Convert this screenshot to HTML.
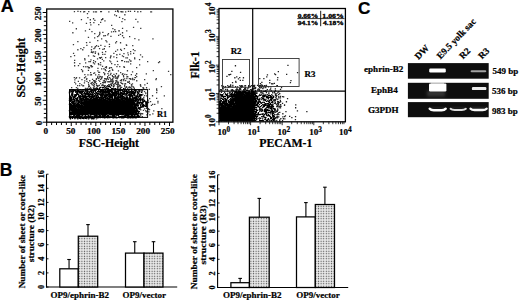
<!DOCTYPE html>
<html><head><meta charset="utf-8"><style>
html,body{margin:0;padding:0;background:#fff;overflow:hidden}
svg{display:block}
text{stroke:#000;stroke-width:0.22px;paint-order:stroke}
</style></head><body>
<svg width="520" height="302" viewBox="0 0 520 302">
<defs>
<pattern id="dots" patternUnits="userSpaceOnUse" width="2.6" height="2.5"><rect width="2.6" height="2.5" fill="#fff"/><rect x="0.45" y="0.45" width="1.7" height="1.6" fill="#999"/><rect x="0.9" y="0.85" width="0.8" height="0.8" fill="#333"/></pattern>
<filter id="bl" x="-20%" y="-100%" width="140%" height="300%"><feGaussianBlur stdDeviation="0.5"/></filter>
<filter id="bl2" x="-50%" y="-100%" width="200%" height="300%"><feGaussianBlur stdDeviation="1.5"/></filter>
</defs>
<rect width="520" height="302" fill="#fff"/>
<path d="M84 100.5H133V114H84Z M72 108.5H84V114H72Z M236 95.5H252.5V121H236Z M221 107.5H236V121H221Z" fill="#000"/>
<path d="M107.1 85.1h1.3v1.3h-1.3zM108.8 85.2h1.3v1.3h-1.3zM111.0 84.9h1.3v1.3h-1.3zM103.8 86.0h1.3v1.3h-1.3zM106.2 86.1h1.3v1.3h-1.3zM108.0 85.9h1.3v1.3h-1.3zM109.1 85.9h1.3v1.3h-1.3zM112.8 86.1h1.3v1.3h-1.3zM99.3 87.1h1.3v1.3h-1.3zM100.2 86.8h1.3v1.3h-1.3zM102.0 87.1h1.3v1.3h-1.3zM103.2 86.9h1.3v1.3h-1.3zM105.1 86.9h1.3v1.3h-1.3zM109.9 86.8h1.3v1.3h-1.3zM117.2 87.1h1.3v1.3h-1.3zM93.0 87.8h1.3v1.3h-1.3zM93.8 88.3h1.3v1.3h-1.3zM95.2 88.0h1.3v1.3h-1.3zM95.9 87.7h1.3v1.3h-1.3zM96.7 87.9h1.3v1.3h-1.3zM98.7 88.0h1.3v1.3h-1.3zM104.2 88.2h1.3v1.3h-1.3zM105.9 87.9h1.3v1.3h-1.3zM107.0 87.8h1.3v1.3h-1.3zM107.8 88.1h1.3v1.3h-1.3zM110.9 88.1h1.3v1.3h-1.3zM112.0 88.0h1.3v1.3h-1.3zM112.8 88.3h1.3v1.3h-1.3zM114.1 88.3h1.3v1.3h-1.3zM115.1 87.9h1.3v1.3h-1.3zM117.2 88.0h1.3v1.3h-1.3zM119.7 87.9h1.3v1.3h-1.3zM123.0 88.1h1.3v1.3h-1.3zM79.9 89.0h1.3v1.3h-1.3zM82.0 89.2h1.3v1.3h-1.3zM82.9 89.1h1.3v1.3h-1.3zM84.1 89.2h1.3v1.3h-1.3zM84.7 89.0h1.3v1.3h-1.3zM86.3 89.0h1.3v1.3h-1.3zM87.2 89.3h1.3v1.3h-1.3zM88.0 88.8h1.3v1.3h-1.3zM89.1 88.8h1.3v1.3h-1.3zM90.3 89.3h1.3v1.3h-1.3zM91.2 89.2h1.3v1.3h-1.3zM93.7 89.2h1.3v1.3h-1.3zM95.8 89.3h1.3v1.3h-1.3zM97.1 88.8h1.3v1.3h-1.3zM98.0 88.7h1.3v1.3h-1.3zM98.8 88.7h1.3v1.3h-1.3zM99.9 89.0h1.3v1.3h-1.3zM101.0 89.0h1.3v1.3h-1.3zM101.9 89.2h1.3v1.3h-1.3zM102.9 89.2h1.3v1.3h-1.3zM104.9 89.1h1.3v1.3h-1.3zM107.3 88.7h1.3v1.3h-1.3zM107.7 89.3h1.3v1.3h-1.3zM109.0 89.1h1.3v1.3h-1.3zM111.0 89.1h1.3v1.3h-1.3zM113.7 89.0h1.3v1.3h-1.3zM115.2 89.1h1.3v1.3h-1.3zM116.1 89.0h1.3v1.3h-1.3zM117.1 89.0h1.3v1.3h-1.3zM117.9 89.1h1.3v1.3h-1.3zM118.9 88.7h1.3v1.3h-1.3zM120.0 88.8h1.3v1.3h-1.3zM123.9 88.9h1.3v1.3h-1.3zM124.7 89.0h1.3v1.3h-1.3zM125.8 89.2h1.3v1.3h-1.3zM127.0 89.0h1.3v1.3h-1.3zM128.2 89.0h1.3v1.3h-1.3zM129.0 88.9h1.3v1.3h-1.3zM131.0 89.1h1.3v1.3h-1.3zM131.7 88.8h1.3v1.3h-1.3zM133.2 88.9h1.3v1.3h-1.3zM133.9 89.2h1.3v1.3h-1.3zM134.8 88.9h1.3v1.3h-1.3zM69.0 89.8h1.3v1.3h-1.3zM70.1 89.8h1.3v1.3h-1.3zM71.0 90.2h1.3v1.3h-1.3zM71.8 90.0h1.3v1.3h-1.3zM72.9 89.7h1.3v1.3h-1.3zM73.7 90.0h1.3v1.3h-1.3zM74.7 90.1h1.3v1.3h-1.3zM76.0 90.2h1.3v1.3h-1.3zM76.8 89.8h1.3v1.3h-1.3zM77.7 89.9h1.3v1.3h-1.3zM79.2 89.8h1.3v1.3h-1.3zM80.9 90.2h1.3v1.3h-1.3zM84.9 90.3h1.3v1.3h-1.3zM86.2 89.8h1.3v1.3h-1.3zM87.1 89.9h1.3v1.3h-1.3zM90.2 90.0h1.3v1.3h-1.3zM91.3 90.1h1.3v1.3h-1.3zM91.9 90.0h1.3v1.3h-1.3zM93.3 90.1h1.3v1.3h-1.3zM94.1 89.8h1.3v1.3h-1.3zM94.9 89.8h1.3v1.3h-1.3zM98.0 90.1h1.3v1.3h-1.3zM99.8 90.3h1.3v1.3h-1.3zM101.1 89.8h1.3v1.3h-1.3zM102.2 90.3h1.3v1.3h-1.3zM103.3 89.8h1.3v1.3h-1.3zM104.8 90.0h1.3v1.3h-1.3zM106.2 90.3h1.3v1.3h-1.3zM106.9 90.0h1.3v1.3h-1.3zM108.0 90.1h1.3v1.3h-1.3zM109.3 90.0h1.3v1.3h-1.3zM109.9 89.8h1.3v1.3h-1.3zM111.1 90.0h1.3v1.3h-1.3zM112.2 90.2h1.3v1.3h-1.3zM114.1 90.1h1.3v1.3h-1.3zM114.7 89.8h1.3v1.3h-1.3zM117.2 90.0h1.3v1.3h-1.3zM118.2 90.0h1.3v1.3h-1.3zM118.9 89.9h1.3v1.3h-1.3zM119.8 89.7h1.3v1.3h-1.3zM121.2 89.7h1.3v1.3h-1.3zM122.3 89.8h1.3v1.3h-1.3zM124.1 90.1h1.3v1.3h-1.3zM125.8 89.7h1.3v1.3h-1.3zM128.2 89.7h1.3v1.3h-1.3zM131.1 90.0h1.3v1.3h-1.3zM133.8 89.8h1.3v1.3h-1.3zM134.8 89.9h1.3v1.3h-1.3zM135.8 90.2h1.3v1.3h-1.3zM138.0 90.2h1.3v1.3h-1.3zM139.2 90.0h1.3v1.3h-1.3zM68.9 90.9h1.3v1.3h-1.3zM69.8 91.2h1.3v1.3h-1.3zM70.8 90.8h1.3v1.3h-1.3zM72.2 90.9h1.3v1.3h-1.3zM72.7 91.0h1.3v1.3h-1.3zM75.1 91.0h1.3v1.3h-1.3zM75.9 90.8h1.3v1.3h-1.3zM77.0 90.8h1.3v1.3h-1.3zM77.8 91.1h1.3v1.3h-1.3zM79.0 91.1h1.3v1.3h-1.3zM80.2 91.0h1.3v1.3h-1.3zM80.8 91.0h1.3v1.3h-1.3zM82.1 90.8h1.3v1.3h-1.3zM83.1 90.8h1.3v1.3h-1.3zM85.2 91.1h1.3v1.3h-1.3zM86.0 91.2h1.3v1.3h-1.3zM87.1 91.0h1.3v1.3h-1.3zM87.7 91.3h1.3v1.3h-1.3zM89.1 90.7h1.3v1.3h-1.3zM90.2 90.7h1.3v1.3h-1.3zM91.1 91.3h1.3v1.3h-1.3zM92.8 90.7h1.3v1.3h-1.3zM94.8 91.0h1.3v1.3h-1.3zM96.9 91.0h1.3v1.3h-1.3zM98.2 91.2h1.3v1.3h-1.3zM99.1 91.1h1.3v1.3h-1.3zM100.3 91.0h1.3v1.3h-1.3zM101.1 91.1h1.3v1.3h-1.3zM102.3 91.3h1.3v1.3h-1.3zM103.0 91.0h1.3v1.3h-1.3zM104.2 91.1h1.3v1.3h-1.3zM105.2 91.0h1.3v1.3h-1.3zM106.3 91.1h1.3v1.3h-1.3zM107.1 90.8h1.3v1.3h-1.3zM108.2 91.0h1.3v1.3h-1.3zM109.2 91.2h1.3v1.3h-1.3zM109.8 90.8h1.3v1.3h-1.3zM110.8 91.2h1.3v1.3h-1.3zM111.7 90.7h1.3v1.3h-1.3zM114.1 90.8h1.3v1.3h-1.3zM115.2 91.0h1.3v1.3h-1.3zM116.1 90.8h1.3v1.3h-1.3zM116.8 90.8h1.3v1.3h-1.3zM117.9 90.9h1.3v1.3h-1.3zM119.9 91.2h1.3v1.3h-1.3zM122.1 90.8h1.3v1.3h-1.3zM122.8 90.7h1.3v1.3h-1.3zM123.7 90.8h1.3v1.3h-1.3zM124.9 90.8h1.3v1.3h-1.3zM125.8 90.9h1.3v1.3h-1.3zM127.1 90.8h1.3v1.3h-1.3zM128.3 91.3h1.3v1.3h-1.3zM129.3 90.9h1.3v1.3h-1.3zM129.9 91.0h1.3v1.3h-1.3zM131.0 90.8h1.3v1.3h-1.3zM131.9 90.8h1.3v1.3h-1.3zM133.2 91.0h1.3v1.3h-1.3zM134.9 91.0h1.3v1.3h-1.3zM137.2 90.9h1.3v1.3h-1.3zM139.1 91.3h1.3v1.3h-1.3zM141.2 91.2h1.3v1.3h-1.3zM68.8 92.1h1.3v1.3h-1.3zM71.2 92.3h1.3v1.3h-1.3zM72.1 91.9h1.3v1.3h-1.3zM75.2 91.8h1.3v1.3h-1.3zM76.1 92.2h1.3v1.3h-1.3zM77.0 92.1h1.3v1.3h-1.3zM78.9 92.3h1.3v1.3h-1.3zM79.9 91.8h1.3v1.3h-1.3zM81.3 92.1h1.3v1.3h-1.3zM81.7 92.1h1.3v1.3h-1.3zM83.7 91.8h1.3v1.3h-1.3zM86.2 92.0h1.3v1.3h-1.3zM87.1 91.9h1.3v1.3h-1.3zM89.0 92.1h1.3v1.3h-1.3zM90.8 92.1h1.3v1.3h-1.3zM91.9 92.3h1.3v1.3h-1.3zM92.9 91.9h1.3v1.3h-1.3zM95.2 92.3h1.3v1.3h-1.3zM96.0 92.0h1.3v1.3h-1.3zM99.7 92.0h1.3v1.3h-1.3zM101.2 92.0h1.3v1.3h-1.3zM101.7 91.9h1.3v1.3h-1.3zM103.0 92.3h1.3v1.3h-1.3zM103.8 92.2h1.3v1.3h-1.3zM104.8 92.3h1.3v1.3h-1.3zM105.7 91.7h1.3v1.3h-1.3zM106.8 91.7h1.3v1.3h-1.3zM108.1 91.9h1.3v1.3h-1.3zM108.8 91.7h1.3v1.3h-1.3zM110.8 91.9h1.3v1.3h-1.3zM111.9 91.7h1.3v1.3h-1.3zM113.2 92.1h1.3v1.3h-1.3zM114.2 91.9h1.3v1.3h-1.3zM115.0 92.0h1.3v1.3h-1.3zM116.1 92.1h1.3v1.3h-1.3zM117.3 92.2h1.3v1.3h-1.3zM118.2 91.8h1.3v1.3h-1.3zM120.0 91.7h1.3v1.3h-1.3zM120.9 92.0h1.3v1.3h-1.3zM121.7 92.2h1.3v1.3h-1.3zM122.9 92.2h1.3v1.3h-1.3zM123.8 91.7h1.3v1.3h-1.3zM126.1 92.1h1.3v1.3h-1.3zM126.9 92.0h1.3v1.3h-1.3zM128.0 91.9h1.3v1.3h-1.3zM128.8 92.3h1.3v1.3h-1.3zM130.2 91.8h1.3v1.3h-1.3zM131.1 91.8h1.3v1.3h-1.3zM131.7 92.0h1.3v1.3h-1.3zM132.8 92.2h1.3v1.3h-1.3zM133.8 92.0h1.3v1.3h-1.3zM134.9 92.0h1.3v1.3h-1.3zM136.8 91.7h1.3v1.3h-1.3zM137.8 92.3h1.3v1.3h-1.3zM141.0 91.8h1.3v1.3h-1.3zM71.2 93.3h1.3v1.3h-1.3zM72.0 93.1h1.3v1.3h-1.3zM76.1 92.8h1.3v1.3h-1.3zM76.8 93.3h1.3v1.3h-1.3zM80.2 92.8h1.3v1.3h-1.3zM81.1 93.1h1.3v1.3h-1.3zM83.2 93.0h1.3v1.3h-1.3zM84.2 92.8h1.3v1.3h-1.3zM84.9 93.1h1.3v1.3h-1.3zM86.2 92.9h1.3v1.3h-1.3zM86.8 93.2h1.3v1.3h-1.3zM88.0 93.0h1.3v1.3h-1.3zM90.0 93.2h1.3v1.3h-1.3zM92.1 93.2h1.3v1.3h-1.3zM93.9 92.9h1.3v1.3h-1.3zM96.1 92.9h1.3v1.3h-1.3zM97.2 92.8h1.3v1.3h-1.3zM97.8 92.7h1.3v1.3h-1.3zM99.3 92.8h1.3v1.3h-1.3zM100.8 93.2h1.3v1.3h-1.3zM101.8 92.9h1.3v1.3h-1.3zM103.2 93.1h1.3v1.3h-1.3zM105.2 93.2h1.3v1.3h-1.3zM106.0 93.2h1.3v1.3h-1.3zM106.8 93.2h1.3v1.3h-1.3zM107.9 93.3h1.3v1.3h-1.3zM109.1 93.0h1.3v1.3h-1.3zM110.2 93.3h1.3v1.3h-1.3zM111.9 92.8h1.3v1.3h-1.3zM113.0 93.3h1.3v1.3h-1.3zM113.7 93.2h1.3v1.3h-1.3zM114.8 92.9h1.3v1.3h-1.3zM116.2 92.7h1.3v1.3h-1.3zM117.1 93.0h1.3v1.3h-1.3zM118.0 93.1h1.3v1.3h-1.3zM118.8 93.2h1.3v1.3h-1.3zM120.0 92.9h1.3v1.3h-1.3zM121.3 93.3h1.3v1.3h-1.3zM122.1 93.1h1.3v1.3h-1.3zM122.8 92.9h1.3v1.3h-1.3zM124.2 92.7h1.3v1.3h-1.3zM125.1 93.3h1.3v1.3h-1.3zM125.9 93.3h1.3v1.3h-1.3zM127.1 93.1h1.3v1.3h-1.3zM129.3 93.1h1.3v1.3h-1.3zM130.1 93.3h1.3v1.3h-1.3zM131.1 92.8h1.3v1.3h-1.3zM131.9 93.2h1.3v1.3h-1.3zM132.9 92.9h1.3v1.3h-1.3zM134.2 93.2h1.3v1.3h-1.3zM136.8 93.2h1.3v1.3h-1.3zM138.0 93.3h1.3v1.3h-1.3zM70.9 94.0h1.3v1.3h-1.3zM72.2 93.7h1.3v1.3h-1.3zM74.2 94.1h1.3v1.3h-1.3zM74.8 93.9h1.3v1.3h-1.3zM76.1 93.8h1.3v1.3h-1.3zM76.8 93.7h1.3v1.3h-1.3zM78.0 93.8h1.3v1.3h-1.3zM80.8 93.8h1.3v1.3h-1.3zM82.2 94.1h1.3v1.3h-1.3zM84.3 94.3h1.3v1.3h-1.3zM84.7 94.0h1.3v1.3h-1.3zM86.2 94.1h1.3v1.3h-1.3zM87.2 94.1h1.3v1.3h-1.3zM87.7 94.2h1.3v1.3h-1.3zM88.9 93.7h1.3v1.3h-1.3zM90.2 94.0h1.3v1.3h-1.3zM91.0 94.0h1.3v1.3h-1.3zM92.1 94.1h1.3v1.3h-1.3zM92.7 94.3h1.3v1.3h-1.3zM94.9 93.8h1.3v1.3h-1.3zM96.9 94.1h1.3v1.3h-1.3zM97.7 94.2h1.3v1.3h-1.3zM99.0 94.0h1.3v1.3h-1.3zM100.0 94.0h1.3v1.3h-1.3zM101.1 93.9h1.3v1.3h-1.3zM101.7 94.1h1.3v1.3h-1.3zM102.9 94.0h1.3v1.3h-1.3zM103.8 94.3h1.3v1.3h-1.3zM105.1 94.2h1.3v1.3h-1.3zM106.1 94.1h1.3v1.3h-1.3zM107.0 94.2h1.3v1.3h-1.3zM108.0 94.2h1.3v1.3h-1.3zM108.9 94.1h1.3v1.3h-1.3zM110.1 93.8h1.3v1.3h-1.3zM110.9 94.1h1.3v1.3h-1.3zM112.2 94.1h1.3v1.3h-1.3zM113.0 94.3h1.3v1.3h-1.3zM113.8 94.3h1.3v1.3h-1.3zM115.2 93.8h1.3v1.3h-1.3zM115.8 94.0h1.3v1.3h-1.3zM117.3 93.7h1.3v1.3h-1.3zM118.0 94.0h1.3v1.3h-1.3zM118.8 93.8h1.3v1.3h-1.3zM119.7 93.9h1.3v1.3h-1.3zM121.3 93.8h1.3v1.3h-1.3zM122.0 93.7h1.3v1.3h-1.3zM123.2 93.8h1.3v1.3h-1.3zM123.8 94.2h1.3v1.3h-1.3zM125.3 93.9h1.3v1.3h-1.3zM125.8 93.9h1.3v1.3h-1.3zM128.3 94.1h1.3v1.3h-1.3zM129.2 93.8h1.3v1.3h-1.3zM130.0 94.0h1.3v1.3h-1.3zM130.7 93.9h1.3v1.3h-1.3zM133.1 94.2h1.3v1.3h-1.3zM133.9 94.3h1.3v1.3h-1.3zM136.9 94.0h1.3v1.3h-1.3zM139.1 93.8h1.3v1.3h-1.3zM139.9 93.9h1.3v1.3h-1.3zM140.7 93.9h1.3v1.3h-1.3zM69.2 95.2h1.3v1.3h-1.3zM71.2 94.9h1.3v1.3h-1.3zM72.1 95.0h1.3v1.3h-1.3zM74.0 95.2h1.3v1.3h-1.3zM74.7 95.1h1.3v1.3h-1.3zM75.8 94.9h1.3v1.3h-1.3zM78.1 95.0h1.3v1.3h-1.3zM79.1 95.2h1.3v1.3h-1.3zM80.2 95.1h1.3v1.3h-1.3zM82.0 94.9h1.3v1.3h-1.3zM82.9 95.2h1.3v1.3h-1.3zM84.2 94.8h1.3v1.3h-1.3zM84.8 94.8h1.3v1.3h-1.3zM87.9 95.1h1.3v1.3h-1.3zM89.2 94.7h1.3v1.3h-1.3zM91.2 95.3h1.3v1.3h-1.3zM92.1 95.0h1.3v1.3h-1.3zM93.8 95.0h1.3v1.3h-1.3zM95.2 94.8h1.3v1.3h-1.3zM96.2 94.8h1.3v1.3h-1.3zM96.9 94.8h1.3v1.3h-1.3zM100.0 95.2h1.3v1.3h-1.3zM101.1 94.9h1.3v1.3h-1.3zM102.3 95.1h1.3v1.3h-1.3zM103.8 95.2h1.3v1.3h-1.3zM104.8 95.0h1.3v1.3h-1.3zM106.0 95.1h1.3v1.3h-1.3zM107.3 95.1h1.3v1.3h-1.3zM108.8 94.9h1.3v1.3h-1.3zM109.8 95.0h1.3v1.3h-1.3zM111.0 95.3h1.3v1.3h-1.3zM112.2 95.1h1.3v1.3h-1.3zM113.2 94.8h1.3v1.3h-1.3zM113.9 95.0h1.3v1.3h-1.3zM114.7 94.7h1.3v1.3h-1.3zM115.7 94.8h1.3v1.3h-1.3zM117.3 95.2h1.3v1.3h-1.3zM118.3 94.8h1.3v1.3h-1.3zM119.9 94.8h1.3v1.3h-1.3zM121.1 94.9h1.3v1.3h-1.3zM121.8 94.8h1.3v1.3h-1.3zM125.3 95.3h1.3v1.3h-1.3zM126.8 95.3h1.3v1.3h-1.3zM128.2 94.8h1.3v1.3h-1.3zM128.9 94.7h1.3v1.3h-1.3zM130.1 95.2h1.3v1.3h-1.3zM130.9 95.2h1.3v1.3h-1.3zM132.0 94.9h1.3v1.3h-1.3zM133.8 94.9h1.3v1.3h-1.3zM135.2 95.3h1.3v1.3h-1.3zM135.7 95.3h1.3v1.3h-1.3zM137.1 94.9h1.3v1.3h-1.3zM138.8 94.9h1.3v1.3h-1.3zM139.8 94.8h1.3v1.3h-1.3zM141.2 94.8h1.3v1.3h-1.3zM69.0 95.9h1.3v1.3h-1.3zM70.2 95.7h1.3v1.3h-1.3zM72.2 96.2h1.3v1.3h-1.3zM73.3 96.2h1.3v1.3h-1.3zM73.8 96.1h1.3v1.3h-1.3zM74.9 96.1h1.3v1.3h-1.3zM78.0 96.3h1.3v1.3h-1.3zM79.0 95.8h1.3v1.3h-1.3zM79.8 96.3h1.3v1.3h-1.3zM81.1 96.3h1.3v1.3h-1.3zM81.7 95.8h1.3v1.3h-1.3zM82.8 96.1h1.3v1.3h-1.3zM83.7 95.9h1.3v1.3h-1.3zM84.9 96.0h1.3v1.3h-1.3zM85.8 95.9h1.3v1.3h-1.3zM86.8 96.1h1.3v1.3h-1.3zM87.8 96.3h1.3v1.3h-1.3zM89.0 96.1h1.3v1.3h-1.3zM90.2 96.1h1.3v1.3h-1.3zM90.7 96.1h1.3v1.3h-1.3zM91.8 96.0h1.3v1.3h-1.3zM93.1 96.1h1.3v1.3h-1.3zM94.2 96.2h1.3v1.3h-1.3zM95.1 96.2h1.3v1.3h-1.3zM95.8 95.9h1.3v1.3h-1.3zM97.3 96.1h1.3v1.3h-1.3zM97.7 96.0h1.3v1.3h-1.3zM101.1 96.2h1.3v1.3h-1.3zM101.7 95.7h1.3v1.3h-1.3zM104.0 95.9h1.3v1.3h-1.3zM104.8 96.2h1.3v1.3h-1.3zM105.9 95.7h1.3v1.3h-1.3zM107.8 96.3h1.3v1.3h-1.3zM108.7 96.0h1.3v1.3h-1.3zM109.9 96.3h1.3v1.3h-1.3zM111.3 96.2h1.3v1.3h-1.3zM111.8 96.0h1.3v1.3h-1.3zM113.9 96.1h1.3v1.3h-1.3zM115.2 96.0h1.3v1.3h-1.3zM116.7 96.2h1.3v1.3h-1.3zM117.8 95.9h1.3v1.3h-1.3zM119.2 96.0h1.3v1.3h-1.3zM119.8 96.1h1.3v1.3h-1.3zM121.1 96.2h1.3v1.3h-1.3zM122.0 95.7h1.3v1.3h-1.3zM123.2 96.1h1.3v1.3h-1.3zM126.2 96.2h1.3v1.3h-1.3zM129.0 95.9h1.3v1.3h-1.3zM130.2 95.8h1.3v1.3h-1.3zM131.9 95.7h1.3v1.3h-1.3zM135.2 95.7h1.3v1.3h-1.3zM136.1 95.9h1.3v1.3h-1.3zM136.7 96.0h1.3v1.3h-1.3zM137.7 96.3h1.3v1.3h-1.3zM139.0 95.8h1.3v1.3h-1.3zM140.1 96.3h1.3v1.3h-1.3zM69.2 97.3h1.3v1.3h-1.3zM70.0 96.7h1.3v1.3h-1.3zM70.8 97.0h1.3v1.3h-1.3zM72.9 96.9h1.3v1.3h-1.3zM74.0 97.2h1.3v1.3h-1.3zM76.8 97.0h1.3v1.3h-1.3zM78.7 96.9h1.3v1.3h-1.3zM79.8 96.7h1.3v1.3h-1.3zM82.3 97.0h1.3v1.3h-1.3zM83.1 96.9h1.3v1.3h-1.3zM83.9 97.2h1.3v1.3h-1.3zM84.9 97.1h1.3v1.3h-1.3zM85.9 96.9h1.3v1.3h-1.3zM88.9 97.0h1.3v1.3h-1.3zM90.9 96.8h1.3v1.3h-1.3zM91.8 96.9h1.3v1.3h-1.3zM93.2 96.8h1.3v1.3h-1.3zM95.2 97.0h1.3v1.3h-1.3zM95.9 97.0h1.3v1.3h-1.3zM96.8 97.2h1.3v1.3h-1.3zM97.8 96.7h1.3v1.3h-1.3zM98.8 97.0h1.3v1.3h-1.3zM99.7 96.7h1.3v1.3h-1.3zM100.7 97.2h1.3v1.3h-1.3zM102.1 97.1h1.3v1.3h-1.3zM103.0 96.7h1.3v1.3h-1.3zM104.2 96.9h1.3v1.3h-1.3zM104.7 97.0h1.3v1.3h-1.3zM105.9 97.2h1.3v1.3h-1.3zM106.8 97.0h1.3v1.3h-1.3zM108.8 97.1h1.3v1.3h-1.3zM110.0 96.7h1.3v1.3h-1.3zM111.0 96.8h1.3v1.3h-1.3zM111.7 97.1h1.3v1.3h-1.3zM114.0 97.3h1.3v1.3h-1.3zM114.9 97.0h1.3v1.3h-1.3zM116.0 97.2h1.3v1.3h-1.3zM117.0 97.0h1.3v1.3h-1.3zM118.0 96.9h1.3v1.3h-1.3zM118.8 96.9h1.3v1.3h-1.3zM119.9 96.8h1.3v1.3h-1.3zM121.3 96.9h1.3v1.3h-1.3zM121.8 96.8h1.3v1.3h-1.3zM123.2 97.0h1.3v1.3h-1.3zM123.9 96.8h1.3v1.3h-1.3zM124.7 97.2h1.3v1.3h-1.3zM125.9 96.8h1.3v1.3h-1.3zM127.0 96.9h1.3v1.3h-1.3zM128.8 97.0h1.3v1.3h-1.3zM129.8 97.3h1.3v1.3h-1.3zM131.8 96.8h1.3v1.3h-1.3zM133.3 96.8h1.3v1.3h-1.3zM134.2 96.8h1.3v1.3h-1.3zM134.9 96.8h1.3v1.3h-1.3zM136.2 97.2h1.3v1.3h-1.3zM138.1 97.2h1.3v1.3h-1.3zM140.0 97.2h1.3v1.3h-1.3zM68.9 98.0h1.3v1.3h-1.3zM70.1 98.1h1.3v1.3h-1.3zM71.1 98.2h1.3v1.3h-1.3zM72.8 98.3h1.3v1.3h-1.3zM74.9 97.9h1.3v1.3h-1.3zM76.2 98.1h1.3v1.3h-1.3zM77.1 98.1h1.3v1.3h-1.3zM79.2 97.8h1.3v1.3h-1.3zM80.1 97.7h1.3v1.3h-1.3zM80.9 97.9h1.3v1.3h-1.3zM81.8 98.0h1.3v1.3h-1.3zM83.1 97.8h1.3v1.3h-1.3zM85.0 98.0h1.3v1.3h-1.3zM86.1 98.0h1.3v1.3h-1.3zM86.8 98.1h1.3v1.3h-1.3zM88.2 98.0h1.3v1.3h-1.3zM90.0 97.8h1.3v1.3h-1.3zM90.9 98.0h1.3v1.3h-1.3zM92.8 97.8h1.3v1.3h-1.3zM93.9 97.9h1.3v1.3h-1.3zM95.2 98.0h1.3v1.3h-1.3zM95.8 97.7h1.3v1.3h-1.3zM96.8 98.2h1.3v1.3h-1.3zM98.2 98.2h1.3v1.3h-1.3zM99.1 98.0h1.3v1.3h-1.3zM99.9 98.2h1.3v1.3h-1.3zM101.2 98.0h1.3v1.3h-1.3zM101.9 98.1h1.3v1.3h-1.3zM102.9 98.0h1.3v1.3h-1.3zM104.8 98.0h1.3v1.3h-1.3zM105.8 97.9h1.3v1.3h-1.3zM107.0 97.7h1.3v1.3h-1.3zM108.0 98.1h1.3v1.3h-1.3zM109.1 98.1h1.3v1.3h-1.3zM110.1 98.3h1.3v1.3h-1.3zM111.2 98.2h1.3v1.3h-1.3zM112.0 97.8h1.3v1.3h-1.3zM113.9 97.8h1.3v1.3h-1.3zM115.1 98.1h1.3v1.3h-1.3zM116.3 98.2h1.3v1.3h-1.3zM116.8 97.7h1.3v1.3h-1.3zM117.7 98.2h1.3v1.3h-1.3zM119.3 98.0h1.3v1.3h-1.3zM119.9 98.2h1.3v1.3h-1.3zM121.1 98.1h1.3v1.3h-1.3zM121.8 97.8h1.3v1.3h-1.3zM122.7 97.8h1.3v1.3h-1.3zM123.7 98.1h1.3v1.3h-1.3zM125.1 97.8h1.3v1.3h-1.3zM126.3 97.7h1.3v1.3h-1.3zM127.3 98.2h1.3v1.3h-1.3zM127.8 98.2h1.3v1.3h-1.3zM129.1 98.3h1.3v1.3h-1.3zM129.9 97.7h1.3v1.3h-1.3zM130.8 98.3h1.3v1.3h-1.3zM132.1 97.7h1.3v1.3h-1.3zM132.9 97.8h1.3v1.3h-1.3zM133.7 98.0h1.3v1.3h-1.3zM135.0 97.7h1.3v1.3h-1.3zM135.8 98.2h1.3v1.3h-1.3zM137.0 98.2h1.3v1.3h-1.3zM139.1 97.8h1.3v1.3h-1.3zM140.1 98.0h1.3v1.3h-1.3zM141.8 98.3h1.3v1.3h-1.3zM69.2 99.3h1.3v1.3h-1.3zM69.7 98.7h1.3v1.3h-1.3zM71.1 98.9h1.3v1.3h-1.3zM71.9 99.3h1.3v1.3h-1.3zM73.2 99.2h1.3v1.3h-1.3zM74.1 98.9h1.3v1.3h-1.3zM75.9 99.2h1.3v1.3h-1.3zM77.1 99.2h1.3v1.3h-1.3zM79.1 98.8h1.3v1.3h-1.3zM79.8 98.8h1.3v1.3h-1.3zM80.8 99.3h1.3v1.3h-1.3zM82.2 98.9h1.3v1.3h-1.3zM82.9 99.0h1.3v1.3h-1.3zM83.8 99.1h1.3v1.3h-1.3zM84.9 99.1h1.3v1.3h-1.3zM85.8 99.1h1.3v1.3h-1.3zM86.8 98.7h1.3v1.3h-1.3zM87.9 98.7h1.3v1.3h-1.3zM88.8 99.1h1.3v1.3h-1.3zM89.8 99.1h1.3v1.3h-1.3zM91.2 99.0h1.3v1.3h-1.3zM92.2 98.8h1.3v1.3h-1.3zM92.8 99.0h1.3v1.3h-1.3zM93.9 99.1h1.3v1.3h-1.3zM94.8 99.1h1.3v1.3h-1.3zM96.0 99.1h1.3v1.3h-1.3zM96.8 99.3h1.3v1.3h-1.3zM98.0 99.0h1.3v1.3h-1.3zM99.3 99.0h1.3v1.3h-1.3zM100.1 99.2h1.3v1.3h-1.3zM100.8 99.1h1.3v1.3h-1.3zM102.2 98.9h1.3v1.3h-1.3zM103.1 99.2h1.3v1.3h-1.3zM104.2 98.8h1.3v1.3h-1.3zM104.7 99.1h1.3v1.3h-1.3zM106.3 99.0h1.3v1.3h-1.3zM106.7 99.2h1.3v1.3h-1.3zM107.8 98.9h1.3v1.3h-1.3zM108.9 99.1h1.3v1.3h-1.3zM110.0 99.1h1.3v1.3h-1.3zM110.7 99.2h1.3v1.3h-1.3zM111.9 98.8h1.3v1.3h-1.3zM112.7 98.8h1.3v1.3h-1.3zM113.8 98.9h1.3v1.3h-1.3zM115.2 98.8h1.3v1.3h-1.3zM115.7 99.3h1.3v1.3h-1.3zM117.0 98.8h1.3v1.3h-1.3zM117.8 99.1h1.3v1.3h-1.3zM118.9 98.9h1.3v1.3h-1.3zM120.3 98.9h1.3v1.3h-1.3zM121.0 98.7h1.3v1.3h-1.3zM122.0 99.1h1.3v1.3h-1.3zM122.7 99.2h1.3v1.3h-1.3zM124.1 99.2h1.3v1.3h-1.3zM125.0 98.8h1.3v1.3h-1.3zM126.2 98.8h1.3v1.3h-1.3zM127.0 99.1h1.3v1.3h-1.3zM128.2 99.0h1.3v1.3h-1.3zM128.9 99.0h1.3v1.3h-1.3zM130.3 99.1h1.3v1.3h-1.3zM131.2 99.2h1.3v1.3h-1.3zM132.2 98.9h1.3v1.3h-1.3zM132.7 98.8h1.3v1.3h-1.3zM134.3 99.1h1.3v1.3h-1.3zM135.0 98.7h1.3v1.3h-1.3zM136.0 98.7h1.3v1.3h-1.3zM136.8 98.9h1.3v1.3h-1.3zM138.2 99.0h1.3v1.3h-1.3zM138.9 99.1h1.3v1.3h-1.3zM139.8 99.3h1.3v1.3h-1.3zM141.0 99.2h1.3v1.3h-1.3zM142.2 99.0h1.3v1.3h-1.3zM143.1 99.3h1.3v1.3h-1.3zM147.0 99.2h1.3v1.3h-1.3zM68.8 99.8h1.3v1.3h-1.3zM69.8 100.1h1.3v1.3h-1.3zM70.7 99.8h1.3v1.3h-1.3zM73.7 99.8h1.3v1.3h-1.3zM75.1 100.2h1.3v1.3h-1.3zM76.1 100.2h1.3v1.3h-1.3zM77.0 99.9h1.3v1.3h-1.3zM78.1 100.1h1.3v1.3h-1.3zM79.1 100.3h1.3v1.3h-1.3zM80.2 100.1h1.3v1.3h-1.3zM81.2 99.7h1.3v1.3h-1.3zM81.8 99.8h1.3v1.3h-1.3zM83.2 100.0h1.3v1.3h-1.3zM83.8 100.2h1.3v1.3h-1.3zM85.2 100.1h1.3v1.3h-1.3zM85.8 100.2h1.3v1.3h-1.3zM87.2 99.8h1.3v1.3h-1.3zM87.8 100.3h1.3v1.3h-1.3zM88.8 99.7h1.3v1.3h-1.3zM90.0 100.0h1.3v1.3h-1.3zM90.8 99.8h1.3v1.3h-1.3zM91.8 100.0h1.3v1.3h-1.3zM93.0 100.3h1.3v1.3h-1.3zM94.1 100.0h1.3v1.3h-1.3zM95.0 100.0h1.3v1.3h-1.3zM95.9 100.1h1.3v1.3h-1.3zM96.9 100.2h1.3v1.3h-1.3zM97.9 100.0h1.3v1.3h-1.3zM99.2 100.2h1.3v1.3h-1.3zM99.8 100.1h1.3v1.3h-1.3zM101.2 99.9h1.3v1.3h-1.3zM102.1 100.0h1.3v1.3h-1.3zM103.2 100.3h1.3v1.3h-1.3zM103.9 99.9h1.3v1.3h-1.3zM104.9 100.1h1.3v1.3h-1.3zM105.8 99.8h1.3v1.3h-1.3zM106.8 100.2h1.3v1.3h-1.3zM108.3 100.0h1.3v1.3h-1.3zM109.1 99.8h1.3v1.3h-1.3zM109.8 100.1h1.3v1.3h-1.3zM111.3 99.9h1.3v1.3h-1.3zM112.0 100.1h1.3v1.3h-1.3zM113.2 99.8h1.3v1.3h-1.3zM114.1 99.9h1.3v1.3h-1.3zM115.0 100.1h1.3v1.3h-1.3zM116.2 100.2h1.3v1.3h-1.3zM116.9 99.9h1.3v1.3h-1.3zM118.2 100.0h1.3v1.3h-1.3zM119.1 100.1h1.3v1.3h-1.3zM120.0 99.9h1.3v1.3h-1.3zM121.0 100.2h1.3v1.3h-1.3zM121.9 100.1h1.3v1.3h-1.3zM123.2 100.0h1.3v1.3h-1.3zM123.9 100.2h1.3v1.3h-1.3zM124.7 100.2h1.3v1.3h-1.3zM125.8 100.1h1.3v1.3h-1.3zM126.8 100.0h1.3v1.3h-1.3zM128.1 100.1h1.3v1.3h-1.3zM129.2 99.7h1.3v1.3h-1.3zM130.1 100.3h1.3v1.3h-1.3zM131.0 99.8h1.3v1.3h-1.3zM132.2 99.8h1.3v1.3h-1.3zM132.7 100.0h1.3v1.3h-1.3zM133.7 99.9h1.3v1.3h-1.3zM135.0 99.8h1.3v1.3h-1.3zM136.1 99.7h1.3v1.3h-1.3zM137.7 100.1h1.3v1.3h-1.3zM139.8 100.1h1.3v1.3h-1.3zM142.1 100.1h1.3v1.3h-1.3zM143.9 100.1h1.3v1.3h-1.3zM147.2 100.1h1.3v1.3h-1.3zM69.8 100.8h1.3v1.3h-1.3zM71.3 100.8h1.3v1.3h-1.3zM71.9 100.8h1.3v1.3h-1.3zM73.0 101.0h1.3v1.3h-1.3zM74.1 100.7h1.3v1.3h-1.3zM76.3 101.2h1.3v1.3h-1.3zM77.8 100.9h1.3v1.3h-1.3zM78.8 100.8h1.3v1.3h-1.3zM80.2 101.0h1.3v1.3h-1.3zM81.2 100.8h1.3v1.3h-1.3zM81.8 101.2h1.3v1.3h-1.3zM83.2 101.2h1.3v1.3h-1.3zM83.8 101.2h1.3v1.3h-1.3zM84.9 101.2h1.3v1.3h-1.3zM86.0 100.8h1.3v1.3h-1.3zM86.9 100.9h1.3v1.3h-1.3zM88.3 100.9h1.3v1.3h-1.3zM89.1 100.7h1.3v1.3h-1.3zM90.2 101.1h1.3v1.3h-1.3zM91.2 101.0h1.3v1.3h-1.3zM92.0 101.2h1.3v1.3h-1.3zM93.0 100.8h1.3v1.3h-1.3zM93.7 100.8h1.3v1.3h-1.3zM95.0 101.3h1.3v1.3h-1.3zM96.1 101.1h1.3v1.3h-1.3zM96.7 101.3h1.3v1.3h-1.3zM97.8 100.9h1.3v1.3h-1.3zM98.8 101.2h1.3v1.3h-1.3zM100.2 100.9h1.3v1.3h-1.3zM100.8 100.7h1.3v1.3h-1.3zM101.9 100.8h1.3v1.3h-1.3zM102.7 101.2h1.3v1.3h-1.3zM104.2 101.1h1.3v1.3h-1.3zM105.1 100.8h1.3v1.3h-1.3zM106.3 101.1h1.3v1.3h-1.3zM107.0 101.2h1.3v1.3h-1.3zM108.3 101.0h1.3v1.3h-1.3zM108.9 100.9h1.3v1.3h-1.3zM109.7 100.8h1.3v1.3h-1.3zM111.2 101.1h1.3v1.3h-1.3zM112.1 101.1h1.3v1.3h-1.3zM112.9 101.0h1.3v1.3h-1.3zM114.3 101.2h1.3v1.3h-1.3zM115.3 100.9h1.3v1.3h-1.3zM116.0 101.2h1.3v1.3h-1.3zM117.3 101.0h1.3v1.3h-1.3zM117.8 101.2h1.3v1.3h-1.3zM119.3 100.7h1.3v1.3h-1.3zM119.8 101.1h1.3v1.3h-1.3zM121.1 101.3h1.3v1.3h-1.3zM122.0 101.1h1.3v1.3h-1.3zM123.2 101.2h1.3v1.3h-1.3zM123.8 101.2h1.3v1.3h-1.3zM125.2 101.1h1.3v1.3h-1.3zM126.3 100.8h1.3v1.3h-1.3zM127.0 100.9h1.3v1.3h-1.3zM128.1 101.1h1.3v1.3h-1.3zM129.0 101.1h1.3v1.3h-1.3zM129.9 100.9h1.3v1.3h-1.3zM130.8 101.3h1.3v1.3h-1.3zM132.2 100.8h1.3v1.3h-1.3zM132.7 101.1h1.3v1.3h-1.3zM134.2 100.8h1.3v1.3h-1.3zM134.8 100.8h1.3v1.3h-1.3zM136.3 100.8h1.3v1.3h-1.3zM137.0 100.8h1.3v1.3h-1.3zM142.2 100.7h1.3v1.3h-1.3zM142.8 101.1h1.3v1.3h-1.3zM144.2 100.8h1.3v1.3h-1.3zM145.0 101.2h1.3v1.3h-1.3zM145.8 101.3h1.3v1.3h-1.3zM70.9 101.9h1.3v1.3h-1.3zM72.2 101.7h1.3v1.3h-1.3zM72.8 102.1h1.3v1.3h-1.3zM74.1 102.2h1.3v1.3h-1.3zM74.7 102.2h1.3v1.3h-1.3zM76.2 101.8h1.3v1.3h-1.3zM77.8 102.2h1.3v1.3h-1.3zM78.9 101.9h1.3v1.3h-1.3zM80.3 101.9h1.3v1.3h-1.3zM81.1 102.0h1.3v1.3h-1.3zM82.1 102.0h1.3v1.3h-1.3zM83.0 102.2h1.3v1.3h-1.3zM84.0 102.0h1.3v1.3h-1.3zM84.9 101.9h1.3v1.3h-1.3zM85.9 101.7h1.3v1.3h-1.3zM86.8 101.9h1.3v1.3h-1.3zM87.7 101.7h1.3v1.3h-1.3zM88.9 102.2h1.3v1.3h-1.3zM90.0 101.8h1.3v1.3h-1.3zM91.3 101.9h1.3v1.3h-1.3zM91.8 102.1h1.3v1.3h-1.3zM92.8 102.0h1.3v1.3h-1.3zM94.1 102.2h1.3v1.3h-1.3zM94.9 101.9h1.3v1.3h-1.3zM95.8 102.1h1.3v1.3h-1.3zM96.7 102.1h1.3v1.3h-1.3zM97.8 102.0h1.3v1.3h-1.3zM99.0 101.9h1.3v1.3h-1.3zM100.1 102.0h1.3v1.3h-1.3zM101.0 102.0h1.3v1.3h-1.3zM102.0 102.1h1.3v1.3h-1.3zM102.9 102.0h1.3v1.3h-1.3zM103.7 101.9h1.3v1.3h-1.3zM104.9 101.9h1.3v1.3h-1.3zM105.9 101.9h1.3v1.3h-1.3zM106.8 101.8h1.3v1.3h-1.3zM107.7 101.9h1.3v1.3h-1.3zM109.1 101.9h1.3v1.3h-1.3zM109.9 101.9h1.3v1.3h-1.3zM111.3 101.8h1.3v1.3h-1.3zM112.2 102.1h1.3v1.3h-1.3zM112.8 101.7h1.3v1.3h-1.3zM114.2 102.1h1.3v1.3h-1.3zM115.1 102.3h1.3v1.3h-1.3zM115.7 102.1h1.3v1.3h-1.3zM116.7 101.9h1.3v1.3h-1.3zM117.7 102.1h1.3v1.3h-1.3zM118.8 102.3h1.3v1.3h-1.3zM120.1 102.3h1.3v1.3h-1.3zM120.8 101.8h1.3v1.3h-1.3zM122.0 101.7h1.3v1.3h-1.3zM122.8 101.9h1.3v1.3h-1.3zM124.3 102.0h1.3v1.3h-1.3zM125.1 102.2h1.3v1.3h-1.3zM125.8 102.0h1.3v1.3h-1.3zM127.0 102.0h1.3v1.3h-1.3zM128.2 102.0h1.3v1.3h-1.3zM129.0 102.0h1.3v1.3h-1.3zM130.0 102.1h1.3v1.3h-1.3zM130.8 101.9h1.3v1.3h-1.3zM132.0 102.0h1.3v1.3h-1.3zM133.2 101.8h1.3v1.3h-1.3zM134.1 102.1h1.3v1.3h-1.3zM136.3 102.1h1.3v1.3h-1.3zM137.2 102.0h1.3v1.3h-1.3zM138.2 101.8h1.3v1.3h-1.3zM139.2 101.8h1.3v1.3h-1.3zM140.3 101.8h1.3v1.3h-1.3zM140.9 102.1h1.3v1.3h-1.3zM142.2 102.0h1.3v1.3h-1.3zM145.2 101.9h1.3v1.3h-1.3zM145.9 102.0h1.3v1.3h-1.3zM147.0 102.3h1.3v1.3h-1.3zM69.3 102.8h1.3v1.3h-1.3zM70.0 103.1h1.3v1.3h-1.3zM71.7 102.8h1.3v1.3h-1.3zM73.1 103.0h1.3v1.3h-1.3zM73.8 103.3h1.3v1.3h-1.3zM75.3 103.1h1.3v1.3h-1.3zM76.9 102.9h1.3v1.3h-1.3zM77.9 103.2h1.3v1.3h-1.3zM79.8 102.7h1.3v1.3h-1.3zM80.7 102.8h1.3v1.3h-1.3zM81.7 102.8h1.3v1.3h-1.3zM82.8 103.2h1.3v1.3h-1.3zM84.1 103.1h1.3v1.3h-1.3zM85.0 103.0h1.3v1.3h-1.3zM85.9 103.0h1.3v1.3h-1.3zM87.2 103.2h1.3v1.3h-1.3zM87.9 102.7h1.3v1.3h-1.3zM88.7 103.1h1.3v1.3h-1.3zM89.8 103.1h1.3v1.3h-1.3zM91.3 103.0h1.3v1.3h-1.3zM92.1 102.8h1.3v1.3h-1.3zM93.0 103.2h1.3v1.3h-1.3zM93.9 102.9h1.3v1.3h-1.3zM95.2 103.0h1.3v1.3h-1.3zM95.9 102.9h1.3v1.3h-1.3zM96.9 102.8h1.3v1.3h-1.3zM97.7 102.7h1.3v1.3h-1.3zM99.0 102.8h1.3v1.3h-1.3zM100.1 103.0h1.3v1.3h-1.3zM101.0 102.9h1.3v1.3h-1.3zM102.0 102.8h1.3v1.3h-1.3zM103.0 103.0h1.3v1.3h-1.3zM104.2 103.0h1.3v1.3h-1.3zM105.3 102.8h1.3v1.3h-1.3zM105.9 103.2h1.3v1.3h-1.3zM107.0 103.1h1.3v1.3h-1.3zM107.7 103.0h1.3v1.3h-1.3zM108.7 102.8h1.3v1.3h-1.3zM110.1 103.0h1.3v1.3h-1.3zM111.1 102.7h1.3v1.3h-1.3zM111.9 103.3h1.3v1.3h-1.3zM112.9 102.8h1.3v1.3h-1.3zM113.8 102.8h1.3v1.3h-1.3zM114.8 103.2h1.3v1.3h-1.3zM115.8 103.0h1.3v1.3h-1.3zM116.8 102.9h1.3v1.3h-1.3zM118.0 103.1h1.3v1.3h-1.3zM118.9 103.3h1.3v1.3h-1.3zM120.0 102.8h1.3v1.3h-1.3zM120.8 102.9h1.3v1.3h-1.3zM122.2 102.8h1.3v1.3h-1.3zM123.0 103.2h1.3v1.3h-1.3zM123.8 103.1h1.3v1.3h-1.3zM125.1 103.2h1.3v1.3h-1.3zM125.9 103.2h1.3v1.3h-1.3zM127.3 102.7h1.3v1.3h-1.3zM128.3 102.8h1.3v1.3h-1.3zM129.3 103.2h1.3v1.3h-1.3zM130.0 102.8h1.3v1.3h-1.3zM131.3 102.9h1.3v1.3h-1.3zM132.2 103.1h1.3v1.3h-1.3zM133.1 102.9h1.3v1.3h-1.3zM133.8 103.0h1.3v1.3h-1.3zM135.0 103.2h1.3v1.3h-1.3zM136.2 103.3h1.3v1.3h-1.3zM137.0 103.1h1.3v1.3h-1.3zM138.3 103.3h1.3v1.3h-1.3zM139.2 103.0h1.3v1.3h-1.3zM141.1 103.2h1.3v1.3h-1.3zM142.0 103.0h1.3v1.3h-1.3zM145.2 103.2h1.3v1.3h-1.3zM145.9 102.9h1.3v1.3h-1.3zM68.8 103.8h1.3v1.3h-1.3zM69.8 103.8h1.3v1.3h-1.3zM70.8 103.9h1.3v1.3h-1.3zM72.2 104.3h1.3v1.3h-1.3zM73.0 103.7h1.3v1.3h-1.3zM74.3 103.7h1.3v1.3h-1.3zM76.0 103.7h1.3v1.3h-1.3zM76.8 104.2h1.3v1.3h-1.3zM77.8 104.2h1.3v1.3h-1.3zM78.7 103.7h1.3v1.3h-1.3zM79.9 104.2h1.3v1.3h-1.3zM81.0 104.0h1.3v1.3h-1.3zM82.0 104.2h1.3v1.3h-1.3zM82.7 103.8h1.3v1.3h-1.3zM83.8 104.0h1.3v1.3h-1.3zM84.7 103.9h1.3v1.3h-1.3zM86.1 103.9h1.3v1.3h-1.3zM86.8 103.8h1.3v1.3h-1.3zM88.1 104.2h1.3v1.3h-1.3zM88.9 103.9h1.3v1.3h-1.3zM89.9 103.8h1.3v1.3h-1.3zM91.2 103.9h1.3v1.3h-1.3zM92.0 104.1h1.3v1.3h-1.3zM92.8 103.7h1.3v1.3h-1.3zM93.8 104.1h1.3v1.3h-1.3zM94.9 103.7h1.3v1.3h-1.3zM96.2 103.9h1.3v1.3h-1.3zM97.0 103.7h1.3v1.3h-1.3zM98.0 104.1h1.3v1.3h-1.3zM99.0 103.9h1.3v1.3h-1.3zM100.3 104.2h1.3v1.3h-1.3zM101.0 103.7h1.3v1.3h-1.3zM102.3 103.7h1.3v1.3h-1.3zM103.2 103.8h1.3v1.3h-1.3zM103.9 104.3h1.3v1.3h-1.3zM105.1 103.9h1.3v1.3h-1.3zM106.0 104.2h1.3v1.3h-1.3zM107.3 103.9h1.3v1.3h-1.3zM108.1 104.1h1.3v1.3h-1.3zM109.2 103.9h1.3v1.3h-1.3zM109.8 103.9h1.3v1.3h-1.3zM111.2 104.2h1.3v1.3h-1.3zM112.1 104.0h1.3v1.3h-1.3zM112.8 103.8h1.3v1.3h-1.3zM114.0 104.1h1.3v1.3h-1.3zM114.7 103.8h1.3v1.3h-1.3zM116.2 104.1h1.3v1.3h-1.3zM117.3 104.2h1.3v1.3h-1.3zM117.9 103.9h1.3v1.3h-1.3zM118.9 104.1h1.3v1.3h-1.3zM120.0 104.1h1.3v1.3h-1.3zM120.8 104.3h1.3v1.3h-1.3zM122.2 104.1h1.3v1.3h-1.3zM123.0 104.2h1.3v1.3h-1.3zM124.0 103.7h1.3v1.3h-1.3zM125.0 104.0h1.3v1.3h-1.3zM125.9 103.9h1.3v1.3h-1.3zM126.9 104.1h1.3v1.3h-1.3zM128.2 104.2h1.3v1.3h-1.3zM129.2 104.1h1.3v1.3h-1.3zM130.0 104.3h1.3v1.3h-1.3zM131.3 103.7h1.3v1.3h-1.3zM132.3 103.8h1.3v1.3h-1.3zM133.1 103.8h1.3v1.3h-1.3zM134.2 104.0h1.3v1.3h-1.3zM135.2 104.2h1.3v1.3h-1.3zM135.7 103.9h1.3v1.3h-1.3zM137.2 103.7h1.3v1.3h-1.3zM140.2 104.0h1.3v1.3h-1.3zM142.2 104.0h1.3v1.3h-1.3zM143.0 104.1h1.3v1.3h-1.3zM145.3 103.9h1.3v1.3h-1.3zM146.0 104.3h1.3v1.3h-1.3zM69.1 105.1h1.3v1.3h-1.3zM70.3 105.0h1.3v1.3h-1.3zM71.1 105.1h1.3v1.3h-1.3zM72.0 104.8h1.3v1.3h-1.3zM72.8 105.1h1.3v1.3h-1.3zM74.1 105.1h1.3v1.3h-1.3zM75.3 104.8h1.3v1.3h-1.3zM76.1 104.7h1.3v1.3h-1.3zM77.0 105.1h1.3v1.3h-1.3zM78.2 104.9h1.3v1.3h-1.3zM79.0 105.0h1.3v1.3h-1.3zM80.1 104.9h1.3v1.3h-1.3zM80.8 104.8h1.3v1.3h-1.3zM82.1 105.1h1.3v1.3h-1.3zM83.2 105.3h1.3v1.3h-1.3zM84.2 104.8h1.3v1.3h-1.3zM85.3 105.2h1.3v1.3h-1.3zM86.2 104.9h1.3v1.3h-1.3zM87.3 104.8h1.3v1.3h-1.3zM87.8 104.7h1.3v1.3h-1.3zM89.1 104.8h1.3v1.3h-1.3zM89.8 105.1h1.3v1.3h-1.3zM90.8 105.1h1.3v1.3h-1.3zM92.2 105.0h1.3v1.3h-1.3zM93.0 105.3h1.3v1.3h-1.3zM94.3 105.1h1.3v1.3h-1.3zM95.1 104.7h1.3v1.3h-1.3zM96.3 105.2h1.3v1.3h-1.3zM97.2 105.3h1.3v1.3h-1.3zM97.7 104.8h1.3v1.3h-1.3zM98.9 105.2h1.3v1.3h-1.3zM100.2 105.1h1.3v1.3h-1.3zM101.2 104.9h1.3v1.3h-1.3zM102.2 105.0h1.3v1.3h-1.3zM103.3 105.0h1.3v1.3h-1.3zM104.0 105.1h1.3v1.3h-1.3zM105.0 104.8h1.3v1.3h-1.3zM106.3 104.8h1.3v1.3h-1.3zM106.8 104.7h1.3v1.3h-1.3zM107.7 105.2h1.3v1.3h-1.3zM108.8 105.2h1.3v1.3h-1.3zM110.0 105.0h1.3v1.3h-1.3zM110.7 104.8h1.3v1.3h-1.3zM112.0 105.0h1.3v1.3h-1.3zM112.8 104.8h1.3v1.3h-1.3zM114.2 105.2h1.3v1.3h-1.3zM115.2 105.1h1.3v1.3h-1.3zM116.1 105.2h1.3v1.3h-1.3zM116.9 105.0h1.3v1.3h-1.3zM118.1 105.2h1.3v1.3h-1.3zM119.1 104.8h1.3v1.3h-1.3zM120.1 105.3h1.3v1.3h-1.3zM120.8 104.8h1.3v1.3h-1.3zM121.7 105.3h1.3v1.3h-1.3zM122.8 104.9h1.3v1.3h-1.3zM124.1 105.3h1.3v1.3h-1.3zM124.7 105.0h1.3v1.3h-1.3zM126.1 105.3h1.3v1.3h-1.3zM127.1 105.2h1.3v1.3h-1.3zM128.0 105.2h1.3v1.3h-1.3zM128.9 105.1h1.3v1.3h-1.3zM130.3 104.7h1.3v1.3h-1.3zM131.0 105.2h1.3v1.3h-1.3zM131.8 104.7h1.3v1.3h-1.3zM133.2 105.1h1.3v1.3h-1.3zM134.2 105.2h1.3v1.3h-1.3zM135.0 104.8h1.3v1.3h-1.3zM135.8 104.7h1.3v1.3h-1.3zM137.1 104.8h1.3v1.3h-1.3zM137.7 105.0h1.3v1.3h-1.3zM140.0 105.0h1.3v1.3h-1.3zM141.9 105.0h1.3v1.3h-1.3zM142.9 105.1h1.3v1.3h-1.3zM144.0 105.1h1.3v1.3h-1.3zM145.7 105.2h1.3v1.3h-1.3zM69.2 105.7h1.3v1.3h-1.3zM69.8 105.9h1.3v1.3h-1.3zM71.1 106.1h1.3v1.3h-1.3zM71.8 105.8h1.3v1.3h-1.3zM72.9 106.2h1.3v1.3h-1.3zM73.9 106.2h1.3v1.3h-1.3zM75.1 105.8h1.3v1.3h-1.3zM75.8 105.7h1.3v1.3h-1.3zM77.0 106.0h1.3v1.3h-1.3zM77.7 106.0h1.3v1.3h-1.3zM78.9 105.7h1.3v1.3h-1.3zM79.7 106.2h1.3v1.3h-1.3zM81.0 105.8h1.3v1.3h-1.3zM81.8 106.3h1.3v1.3h-1.3zM82.8 105.8h1.3v1.3h-1.3zM83.7 105.7h1.3v1.3h-1.3zM85.1 106.0h1.3v1.3h-1.3zM85.8 106.2h1.3v1.3h-1.3zM86.8 105.9h1.3v1.3h-1.3zM88.0 106.1h1.3v1.3h-1.3zM88.9 106.3h1.3v1.3h-1.3zM90.3 106.2h1.3v1.3h-1.3zM90.7 106.0h1.3v1.3h-1.3zM91.9 105.9h1.3v1.3h-1.3zM92.7 105.8h1.3v1.3h-1.3zM93.9 106.3h1.3v1.3h-1.3zM95.1 106.2h1.3v1.3h-1.3zM95.8 106.2h1.3v1.3h-1.3zM97.1 106.0h1.3v1.3h-1.3zM97.7 105.8h1.3v1.3h-1.3zM99.0 106.0h1.3v1.3h-1.3zM100.0 106.1h1.3v1.3h-1.3zM100.8 106.0h1.3v1.3h-1.3zM101.9 105.8h1.3v1.3h-1.3zM102.8 106.2h1.3v1.3h-1.3zM103.8 105.9h1.3v1.3h-1.3zM104.9 106.1h1.3v1.3h-1.3zM105.8 106.2h1.3v1.3h-1.3zM106.9 105.8h1.3v1.3h-1.3zM107.7 105.7h1.3v1.3h-1.3zM108.9 105.7h1.3v1.3h-1.3zM110.3 105.9h1.3v1.3h-1.3zM110.9 106.2h1.3v1.3h-1.3zM112.1 106.2h1.3v1.3h-1.3zM113.2 106.1h1.3v1.3h-1.3zM113.8 105.9h1.3v1.3h-1.3zM115.1 105.8h1.3v1.3h-1.3zM116.1 106.3h1.3v1.3h-1.3zM117.3 105.8h1.3v1.3h-1.3zM117.7 105.8h1.3v1.3h-1.3zM118.8 106.1h1.3v1.3h-1.3zM120.1 106.2h1.3v1.3h-1.3zM120.8 105.8h1.3v1.3h-1.3zM121.7 106.0h1.3v1.3h-1.3zM123.1 105.9h1.3v1.3h-1.3zM123.9 106.2h1.3v1.3h-1.3zM124.8 106.1h1.3v1.3h-1.3zM125.8 106.0h1.3v1.3h-1.3zM127.2 106.1h1.3v1.3h-1.3zM128.1 106.2h1.3v1.3h-1.3zM129.1 105.9h1.3v1.3h-1.3zM130.1 106.0h1.3v1.3h-1.3zM131.1 105.7h1.3v1.3h-1.3zM131.8 106.2h1.3v1.3h-1.3zM132.9 106.2h1.3v1.3h-1.3zM134.2 105.8h1.3v1.3h-1.3zM134.9 106.0h1.3v1.3h-1.3zM135.7 106.2h1.3v1.3h-1.3zM137.2 105.9h1.3v1.3h-1.3zM140.2 106.1h1.3v1.3h-1.3zM141.7 105.8h1.3v1.3h-1.3zM142.8 106.3h1.3v1.3h-1.3zM144.9 105.8h1.3v1.3h-1.3zM145.9 105.9h1.3v1.3h-1.3zM69.0 107.2h1.3v1.3h-1.3zM70.0 107.1h1.3v1.3h-1.3zM70.9 107.3h1.3v1.3h-1.3zM71.8 107.0h1.3v1.3h-1.3zM72.9 107.1h1.3v1.3h-1.3zM74.2 106.8h1.3v1.3h-1.3zM75.3 107.1h1.3v1.3h-1.3zM76.3 107.2h1.3v1.3h-1.3zM77.0 106.8h1.3v1.3h-1.3zM78.1 106.7h1.3v1.3h-1.3zM78.8 107.1h1.3v1.3h-1.3zM80.1 107.0h1.3v1.3h-1.3zM80.8 106.7h1.3v1.3h-1.3zM82.0 106.8h1.3v1.3h-1.3zM82.7 106.8h1.3v1.3h-1.3zM83.7 106.8h1.3v1.3h-1.3zM84.8 106.7h1.3v1.3h-1.3zM86.0 107.0h1.3v1.3h-1.3zM86.7 106.8h1.3v1.3h-1.3zM87.8 107.0h1.3v1.3h-1.3zM88.9 107.0h1.3v1.3h-1.3zM90.1 107.2h1.3v1.3h-1.3zM90.8 107.2h1.3v1.3h-1.3zM91.9 106.7h1.3v1.3h-1.3zM93.2 107.1h1.3v1.3h-1.3zM93.7 106.7h1.3v1.3h-1.3zM95.3 107.0h1.3v1.3h-1.3zM96.2 107.0h1.3v1.3h-1.3zM97.0 107.3h1.3v1.3h-1.3zM97.8 106.8h1.3v1.3h-1.3zM99.0 106.8h1.3v1.3h-1.3zM99.9 107.0h1.3v1.3h-1.3zM101.1 106.8h1.3v1.3h-1.3zM102.1 106.7h1.3v1.3h-1.3zM102.8 107.0h1.3v1.3h-1.3zM103.9 106.8h1.3v1.3h-1.3zM105.2 107.2h1.3v1.3h-1.3zM105.8 107.0h1.3v1.3h-1.3zM107.3 107.0h1.3v1.3h-1.3zM108.2 107.1h1.3v1.3h-1.3zM109.1 106.7h1.3v1.3h-1.3zM110.3 107.2h1.3v1.3h-1.3zM110.8 107.1h1.3v1.3h-1.3zM112.0 106.9h1.3v1.3h-1.3zM113.1 106.8h1.3v1.3h-1.3zM113.8 107.1h1.3v1.3h-1.3zM115.3 107.2h1.3v1.3h-1.3zM116.2 107.0h1.3v1.3h-1.3zM116.9 107.0h1.3v1.3h-1.3zM118.1 107.0h1.3v1.3h-1.3zM119.2 107.1h1.3v1.3h-1.3zM119.9 106.8h1.3v1.3h-1.3zM121.0 107.0h1.3v1.3h-1.3zM121.8 107.1h1.3v1.3h-1.3zM122.8 107.0h1.3v1.3h-1.3zM123.7 107.1h1.3v1.3h-1.3zM125.2 107.2h1.3v1.3h-1.3zM125.9 107.3h1.3v1.3h-1.3zM127.3 107.1h1.3v1.3h-1.3zM128.1 107.0h1.3v1.3h-1.3zM128.9 106.9h1.3v1.3h-1.3zM129.7 107.0h1.3v1.3h-1.3zM131.0 107.1h1.3v1.3h-1.3zM131.9 107.1h1.3v1.3h-1.3zM133.0 107.1h1.3v1.3h-1.3zM133.9 107.0h1.3v1.3h-1.3zM134.9 106.7h1.3v1.3h-1.3zM135.7 107.2h1.3v1.3h-1.3zM138.1 107.1h1.3v1.3h-1.3zM138.8 107.2h1.3v1.3h-1.3zM139.7 107.1h1.3v1.3h-1.3zM141.2 106.8h1.3v1.3h-1.3zM69.3 107.9h1.3v1.3h-1.3zM70.1 108.0h1.3v1.3h-1.3zM71.3 108.2h1.3v1.3h-1.3zM72.2 107.9h1.3v1.3h-1.3zM73.0 107.8h1.3v1.3h-1.3zM74.3 108.1h1.3v1.3h-1.3zM74.8 107.9h1.3v1.3h-1.3zM75.7 107.8h1.3v1.3h-1.3zM77.3 107.7h1.3v1.3h-1.3zM77.7 107.9h1.3v1.3h-1.3zM79.2 108.0h1.3v1.3h-1.3zM79.8 107.8h1.3v1.3h-1.3zM80.9 107.8h1.3v1.3h-1.3zM82.0 108.0h1.3v1.3h-1.3zM82.8 108.1h1.3v1.3h-1.3zM84.1 108.2h1.3v1.3h-1.3zM85.3 108.1h1.3v1.3h-1.3zM85.8 108.2h1.3v1.3h-1.3zM86.9 108.0h1.3v1.3h-1.3zM88.1 108.2h1.3v1.3h-1.3zM88.8 107.8h1.3v1.3h-1.3zM89.8 108.1h1.3v1.3h-1.3zM90.8 108.0h1.3v1.3h-1.3zM91.8 107.9h1.3v1.3h-1.3zM93.1 108.1h1.3v1.3h-1.3zM94.1 108.1h1.3v1.3h-1.3zM95.2 108.3h1.3v1.3h-1.3zM96.0 108.2h1.3v1.3h-1.3zM96.8 107.9h1.3v1.3h-1.3zM98.0 107.8h1.3v1.3h-1.3zM99.0 107.9h1.3v1.3h-1.3zM99.7 108.2h1.3v1.3h-1.3zM100.8 108.2h1.3v1.3h-1.3zM102.1 108.2h1.3v1.3h-1.3zM103.2 108.0h1.3v1.3h-1.3zM104.3 108.3h1.3v1.3h-1.3zM104.8 108.3h1.3v1.3h-1.3zM105.7 107.7h1.3v1.3h-1.3zM107.0 108.2h1.3v1.3h-1.3zM108.0 108.2h1.3v1.3h-1.3zM108.9 108.1h1.3v1.3h-1.3zM110.2 107.9h1.3v1.3h-1.3zM111.0 108.2h1.3v1.3h-1.3zM112.1 108.2h1.3v1.3h-1.3zM112.8 107.9h1.3v1.3h-1.3zM113.8 108.2h1.3v1.3h-1.3zM114.9 107.9h1.3v1.3h-1.3zM115.8 108.0h1.3v1.3h-1.3zM117.3 108.0h1.3v1.3h-1.3zM118.2 107.9h1.3v1.3h-1.3zM118.8 108.2h1.3v1.3h-1.3zM120.1 108.1h1.3v1.3h-1.3zM121.2 107.8h1.3v1.3h-1.3zM122.1 108.2h1.3v1.3h-1.3zM122.8 107.9h1.3v1.3h-1.3zM124.0 108.0h1.3v1.3h-1.3zM125.3 108.1h1.3v1.3h-1.3zM125.8 108.1h1.3v1.3h-1.3zM127.0 108.3h1.3v1.3h-1.3zM127.8 108.2h1.3v1.3h-1.3zM128.7 107.8h1.3v1.3h-1.3zM129.7 108.3h1.3v1.3h-1.3zM131.3 108.1h1.3v1.3h-1.3zM132.2 107.8h1.3v1.3h-1.3zM132.8 107.8h1.3v1.3h-1.3zM134.1 107.7h1.3v1.3h-1.3zM135.2 107.8h1.3v1.3h-1.3zM136.2 107.8h1.3v1.3h-1.3zM137.8 107.8h1.3v1.3h-1.3zM139.0 107.8h1.3v1.3h-1.3zM69.1 109.3h1.3v1.3h-1.3zM70.0 108.7h1.3v1.3h-1.3zM71.2 108.7h1.3v1.3h-1.3zM72.3 108.9h1.3v1.3h-1.3zM73.0 109.2h1.3v1.3h-1.3zM74.3 108.9h1.3v1.3h-1.3zM75.0 109.0h1.3v1.3h-1.3zM76.1 109.1h1.3v1.3h-1.3zM76.9 109.3h1.3v1.3h-1.3zM78.2 108.9h1.3v1.3h-1.3zM78.8 109.2h1.3v1.3h-1.3zM80.2 108.8h1.3v1.3h-1.3zM81.0 109.2h1.3v1.3h-1.3zM82.0 108.9h1.3v1.3h-1.3zM83.2 109.3h1.3v1.3h-1.3zM83.9 108.7h1.3v1.3h-1.3zM84.8 109.1h1.3v1.3h-1.3zM86.0 108.7h1.3v1.3h-1.3zM87.1 108.8h1.3v1.3h-1.3zM88.0 109.1h1.3v1.3h-1.3zM89.3 108.8h1.3v1.3h-1.3zM90.1 108.7h1.3v1.3h-1.3zM91.1 109.2h1.3v1.3h-1.3zM91.7 109.1h1.3v1.3h-1.3zM92.9 109.1h1.3v1.3h-1.3zM93.8 108.8h1.3v1.3h-1.3zM95.1 108.7h1.3v1.3h-1.3zM95.9 108.8h1.3v1.3h-1.3zM96.8 108.7h1.3v1.3h-1.3zM98.2 109.1h1.3v1.3h-1.3zM98.9 108.9h1.3v1.3h-1.3zM99.7 109.0h1.3v1.3h-1.3zM101.2 109.1h1.3v1.3h-1.3zM102.1 108.9h1.3v1.3h-1.3zM102.7 109.2h1.3v1.3h-1.3zM103.7 109.0h1.3v1.3h-1.3zM104.8 109.0h1.3v1.3h-1.3zM105.8 108.8h1.3v1.3h-1.3zM106.8 109.0h1.3v1.3h-1.3zM108.0 108.8h1.3v1.3h-1.3zM109.2 108.8h1.3v1.3h-1.3zM110.1 108.8h1.3v1.3h-1.3zM110.8 109.2h1.3v1.3h-1.3zM112.0 109.1h1.3v1.3h-1.3zM112.9 108.7h1.3v1.3h-1.3zM113.9 108.9h1.3v1.3h-1.3zM114.9 109.2h1.3v1.3h-1.3zM116.1 109.0h1.3v1.3h-1.3zM117.3 108.8h1.3v1.3h-1.3zM118.2 109.0h1.3v1.3h-1.3zM119.1 109.2h1.3v1.3h-1.3zM119.8 108.8h1.3v1.3h-1.3zM121.2 109.1h1.3v1.3h-1.3zM121.8 108.9h1.3v1.3h-1.3zM122.9 109.2h1.3v1.3h-1.3zM124.2 109.1h1.3v1.3h-1.3zM125.0 109.2h1.3v1.3h-1.3zM126.0 108.7h1.3v1.3h-1.3zM127.0 109.1h1.3v1.3h-1.3zM127.7 108.8h1.3v1.3h-1.3zM128.9 108.8h1.3v1.3h-1.3zM129.9 109.3h1.3v1.3h-1.3zM131.2 109.3h1.3v1.3h-1.3zM132.1 108.9h1.3v1.3h-1.3zM133.1 108.9h1.3v1.3h-1.3zM134.2 108.9h1.3v1.3h-1.3zM135.0 109.2h1.3v1.3h-1.3zM136.0 109.1h1.3v1.3h-1.3zM137.1 109.3h1.3v1.3h-1.3zM139.2 108.8h1.3v1.3h-1.3zM68.8 110.0h1.3v1.3h-1.3zM70.3 109.7h1.3v1.3h-1.3zM71.1 109.8h1.3v1.3h-1.3zM71.7 110.0h1.3v1.3h-1.3zM73.2 110.2h1.3v1.3h-1.3zM74.0 110.2h1.3v1.3h-1.3zM75.0 109.9h1.3v1.3h-1.3zM76.3 110.3h1.3v1.3h-1.3zM76.9 110.1h1.3v1.3h-1.3zM77.9 110.0h1.3v1.3h-1.3zM79.0 109.9h1.3v1.3h-1.3zM80.2 110.0h1.3v1.3h-1.3zM81.2 109.9h1.3v1.3h-1.3zM81.7 110.2h1.3v1.3h-1.3zM83.1 109.7h1.3v1.3h-1.3zM84.0 109.8h1.3v1.3h-1.3zM84.8 110.0h1.3v1.3h-1.3zM85.9 110.1h1.3v1.3h-1.3zM86.9 109.8h1.3v1.3h-1.3zM88.2 110.1h1.3v1.3h-1.3zM88.7 109.8h1.3v1.3h-1.3zM90.2 110.0h1.3v1.3h-1.3zM91.0 110.2h1.3v1.3h-1.3zM91.8 110.1h1.3v1.3h-1.3zM93.0 110.2h1.3v1.3h-1.3zM94.0 110.0h1.3v1.3h-1.3zM94.8 109.8h1.3v1.3h-1.3zM95.8 110.2h1.3v1.3h-1.3zM97.3 109.7h1.3v1.3h-1.3zM98.1 110.2h1.3v1.3h-1.3zM99.2 110.2h1.3v1.3h-1.3zM100.2 110.2h1.3v1.3h-1.3zM100.7 110.0h1.3v1.3h-1.3zM101.8 110.2h1.3v1.3h-1.3zM103.0 110.1h1.3v1.3h-1.3zM104.2 109.8h1.3v1.3h-1.3zM105.0 110.1h1.3v1.3h-1.3zM106.3 109.9h1.3v1.3h-1.3zM106.8 110.0h1.3v1.3h-1.3zM108.1 109.7h1.3v1.3h-1.3zM109.2 109.8h1.3v1.3h-1.3zM110.0 110.0h1.3v1.3h-1.3zM110.8 110.0h1.3v1.3h-1.3zM112.2 110.1h1.3v1.3h-1.3zM112.8 109.8h1.3v1.3h-1.3zM114.2 109.9h1.3v1.3h-1.3zM115.3 109.7h1.3v1.3h-1.3zM116.1 109.9h1.3v1.3h-1.3zM116.8 109.9h1.3v1.3h-1.3zM117.9 110.2h1.3v1.3h-1.3zM119.0 109.7h1.3v1.3h-1.3zM120.0 109.7h1.3v1.3h-1.3zM121.2 110.1h1.3v1.3h-1.3zM122.0 109.8h1.3v1.3h-1.3zM123.1 109.8h1.3v1.3h-1.3zM124.3 110.3h1.3v1.3h-1.3zM124.8 110.0h1.3v1.3h-1.3zM125.7 110.2h1.3v1.3h-1.3zM127.1 110.1h1.3v1.3h-1.3zM127.8 110.1h1.3v1.3h-1.3zM129.3 110.0h1.3v1.3h-1.3zM130.3 110.1h1.3v1.3h-1.3zM130.7 109.9h1.3v1.3h-1.3zM131.9 110.2h1.3v1.3h-1.3zM133.2 110.2h1.3v1.3h-1.3zM134.1 110.2h1.3v1.3h-1.3zM135.2 109.8h1.3v1.3h-1.3zM135.8 110.1h1.3v1.3h-1.3zM136.9 109.8h1.3v1.3h-1.3zM69.2 111.2h1.3v1.3h-1.3zM70.1 111.2h1.3v1.3h-1.3zM70.9 111.2h1.3v1.3h-1.3zM71.9 111.0h1.3v1.3h-1.3zM73.2 110.9h1.3v1.3h-1.3zM74.0 111.1h1.3v1.3h-1.3zM75.3 110.9h1.3v1.3h-1.3zM75.8 111.2h1.3v1.3h-1.3zM77.1 111.0h1.3v1.3h-1.3zM77.7 111.1h1.3v1.3h-1.3zM79.2 111.3h1.3v1.3h-1.3zM80.2 111.1h1.3v1.3h-1.3zM81.2 110.9h1.3v1.3h-1.3zM82.3 111.1h1.3v1.3h-1.3zM83.1 111.3h1.3v1.3h-1.3zM83.9 110.9h1.3v1.3h-1.3zM84.7 110.9h1.3v1.3h-1.3zM86.0 111.3h1.3v1.3h-1.3zM86.9 111.1h1.3v1.3h-1.3zM87.8 111.3h1.3v1.3h-1.3zM88.8 111.1h1.3v1.3h-1.3zM90.3 111.3h1.3v1.3h-1.3zM91.0 111.3h1.3v1.3h-1.3zM92.2 111.0h1.3v1.3h-1.3zM92.9 111.0h1.3v1.3h-1.3zM93.8 111.3h1.3v1.3h-1.3zM94.8 110.9h1.3v1.3h-1.3zM95.8 110.7h1.3v1.3h-1.3zM97.3 110.8h1.3v1.3h-1.3zM98.1 111.2h1.3v1.3h-1.3zM99.3 111.2h1.3v1.3h-1.3zM100.1 110.8h1.3v1.3h-1.3zM101.1 111.2h1.3v1.3h-1.3zM101.8 110.8h1.3v1.3h-1.3zM103.1 111.2h1.3v1.3h-1.3zM103.8 111.0h1.3v1.3h-1.3zM105.0 111.2h1.3v1.3h-1.3zM106.1 110.9h1.3v1.3h-1.3zM107.3 110.9h1.3v1.3h-1.3zM108.3 111.0h1.3v1.3h-1.3zM109.1 110.8h1.3v1.3h-1.3zM110.3 110.9h1.3v1.3h-1.3zM111.0 110.9h1.3v1.3h-1.3zM112.2 110.8h1.3v1.3h-1.3zM112.8 110.8h1.3v1.3h-1.3zM113.9 110.9h1.3v1.3h-1.3zM115.1 110.9h1.3v1.3h-1.3zM116.2 110.9h1.3v1.3h-1.3zM117.0 110.9h1.3v1.3h-1.3zM118.0 110.8h1.3v1.3h-1.3zM119.2 111.0h1.3v1.3h-1.3zM119.9 111.1h1.3v1.3h-1.3zM121.0 110.8h1.3v1.3h-1.3zM122.2 110.9h1.3v1.3h-1.3zM122.8 111.1h1.3v1.3h-1.3zM123.9 110.9h1.3v1.3h-1.3zM125.0 111.2h1.3v1.3h-1.3zM126.0 110.8h1.3v1.3h-1.3zM127.2 111.3h1.3v1.3h-1.3zM127.7 111.2h1.3v1.3h-1.3zM128.8 110.8h1.3v1.3h-1.3zM129.8 110.9h1.3v1.3h-1.3zM131.0 111.2h1.3v1.3h-1.3zM132.1 111.3h1.3v1.3h-1.3zM132.7 110.9h1.3v1.3h-1.3zM134.0 111.0h1.3v1.3h-1.3zM135.2 110.9h1.3v1.3h-1.3zM136.0 110.9h1.3v1.3h-1.3zM137.2 110.9h1.3v1.3h-1.3zM138.0 110.7h1.3v1.3h-1.3zM138.7 111.0h1.3v1.3h-1.3zM69.0 111.8h1.3v1.3h-1.3zM70.2 112.2h1.3v1.3h-1.3zM71.1 112.1h1.3v1.3h-1.3zM72.0 111.9h1.3v1.3h-1.3zM73.0 111.9h1.3v1.3h-1.3zM74.0 112.1h1.3v1.3h-1.3zM74.8 111.7h1.3v1.3h-1.3zM76.2 112.2h1.3v1.3h-1.3zM77.2 111.8h1.3v1.3h-1.3zM78.1 112.0h1.3v1.3h-1.3zM78.9 111.8h1.3v1.3h-1.3zM80.2 112.3h1.3v1.3h-1.3zM80.8 112.0h1.3v1.3h-1.3zM81.8 111.9h1.3v1.3h-1.3zM83.3 111.9h1.3v1.3h-1.3zM84.0 111.7h1.3v1.3h-1.3zM84.8 112.2h1.3v1.3h-1.3zM86.1 112.0h1.3v1.3h-1.3zM87.0 112.3h1.3v1.3h-1.3zM88.1 111.7h1.3v1.3h-1.3zM89.2 111.8h1.3v1.3h-1.3zM90.2 111.9h1.3v1.3h-1.3zM91.2 111.9h1.3v1.3h-1.3zM91.8 112.2h1.3v1.3h-1.3zM92.8 112.2h1.3v1.3h-1.3zM94.0 112.1h1.3v1.3h-1.3zM95.2 112.0h1.3v1.3h-1.3zM96.2 111.9h1.3v1.3h-1.3zM97.3 112.0h1.3v1.3h-1.3zM97.8 112.3h1.3v1.3h-1.3zM98.7 111.9h1.3v1.3h-1.3zM100.2 111.8h1.3v1.3h-1.3zM100.8 111.9h1.3v1.3h-1.3zM101.8 112.1h1.3v1.3h-1.3zM103.2 112.1h1.3v1.3h-1.3zM103.8 112.2h1.3v1.3h-1.3zM104.7 111.8h1.3v1.3h-1.3zM106.0 112.2h1.3v1.3h-1.3zM106.9 112.2h1.3v1.3h-1.3zM107.7 111.9h1.3v1.3h-1.3zM108.9 111.8h1.3v1.3h-1.3zM109.9 112.1h1.3v1.3h-1.3zM111.3 112.0h1.3v1.3h-1.3zM111.8 111.8h1.3v1.3h-1.3zM112.8 112.0h1.3v1.3h-1.3zM114.3 111.9h1.3v1.3h-1.3zM114.8 112.2h1.3v1.3h-1.3zM116.2 111.9h1.3v1.3h-1.3zM116.9 111.7h1.3v1.3h-1.3zM117.9 111.9h1.3v1.3h-1.3zM118.9 111.8h1.3v1.3h-1.3zM120.2 111.9h1.3v1.3h-1.3zM120.8 111.7h1.3v1.3h-1.3zM121.9 111.8h1.3v1.3h-1.3zM122.8 112.0h1.3v1.3h-1.3zM124.3 112.2h1.3v1.3h-1.3zM125.1 112.2h1.3v1.3h-1.3zM125.9 112.1h1.3v1.3h-1.3zM127.2 111.7h1.3v1.3h-1.3zM127.8 111.8h1.3v1.3h-1.3zM128.8 112.2h1.3v1.3h-1.3zM130.1 111.7h1.3v1.3h-1.3zM130.8 111.9h1.3v1.3h-1.3zM131.8 111.8h1.3v1.3h-1.3zM132.7 111.7h1.3v1.3h-1.3zM133.9 112.1h1.3v1.3h-1.3zM135.2 112.1h1.3v1.3h-1.3zM135.8 112.2h1.3v1.3h-1.3zM137.9 112.0h1.3v1.3h-1.3zM69.2 112.7h1.3v1.3h-1.3zM70.2 113.2h1.3v1.3h-1.3zM70.7 112.7h1.3v1.3h-1.3zM71.9 113.0h1.3v1.3h-1.3zM72.8 113.2h1.3v1.3h-1.3zM73.9 113.0h1.3v1.3h-1.3zM75.1 112.8h1.3v1.3h-1.3zM76.1 113.1h1.3v1.3h-1.3zM77.3 113.1h1.3v1.3h-1.3zM77.8 112.9h1.3v1.3h-1.3zM78.8 113.3h1.3v1.3h-1.3zM79.7 113.2h1.3v1.3h-1.3zM80.9 113.2h1.3v1.3h-1.3zM81.9 113.2h1.3v1.3h-1.3zM83.0 113.2h1.3v1.3h-1.3zM84.2 113.2h1.3v1.3h-1.3zM84.9 112.9h1.3v1.3h-1.3zM85.8 113.3h1.3v1.3h-1.3zM87.1 113.0h1.3v1.3h-1.3zM87.8 112.8h1.3v1.3h-1.3zM89.0 112.8h1.3v1.3h-1.3zM89.9 113.2h1.3v1.3h-1.3zM90.7 113.3h1.3v1.3h-1.3zM92.0 112.9h1.3v1.3h-1.3zM93.0 112.9h1.3v1.3h-1.3zM94.1 113.1h1.3v1.3h-1.3zM94.8 113.0h1.3v1.3h-1.3zM96.2 113.0h1.3v1.3h-1.3zM97.2 112.7h1.3v1.3h-1.3zM97.8 113.1h1.3v1.3h-1.3zM99.1 112.8h1.3v1.3h-1.3zM100.1 112.9h1.3v1.3h-1.3zM101.0 112.8h1.3v1.3h-1.3zM101.8 113.2h1.3v1.3h-1.3zM103.1 113.0h1.3v1.3h-1.3zM103.8 113.0h1.3v1.3h-1.3zM105.2 112.8h1.3v1.3h-1.3zM105.8 113.2h1.3v1.3h-1.3zM107.1 112.8h1.3v1.3h-1.3zM107.9 112.8h1.3v1.3h-1.3zM109.1 113.0h1.3v1.3h-1.3zM110.1 113.0h1.3v1.3h-1.3zM111.1 112.9h1.3v1.3h-1.3zM112.0 112.9h1.3v1.3h-1.3zM113.3 113.2h1.3v1.3h-1.3zM114.2 113.2h1.3v1.3h-1.3zM115.3 113.2h1.3v1.3h-1.3zM116.1 112.8h1.3v1.3h-1.3zM117.2 113.0h1.3v1.3h-1.3zM118.2 113.2h1.3v1.3h-1.3zM118.9 112.9h1.3v1.3h-1.3zM120.1 113.1h1.3v1.3h-1.3zM121.2 113.1h1.3v1.3h-1.3zM121.9 113.2h1.3v1.3h-1.3zM122.8 113.0h1.3v1.3h-1.3zM124.1 112.8h1.3v1.3h-1.3zM125.1 113.0h1.3v1.3h-1.3zM126.0 112.8h1.3v1.3h-1.3zM126.9 112.9h1.3v1.3h-1.3zM128.2 113.0h1.3v1.3h-1.3zM128.8 113.3h1.3v1.3h-1.3zM130.1 112.7h1.3v1.3h-1.3zM131.2 112.9h1.3v1.3h-1.3zM131.8 112.8h1.3v1.3h-1.3zM132.7 113.1h1.3v1.3h-1.3zM134.2 113.2h1.3v1.3h-1.3zM135.1 112.8h1.3v1.3h-1.3zM135.7 113.2h1.3v1.3h-1.3zM137.1 112.8h1.3v1.3h-1.3zM137.7 113.1h1.3v1.3h-1.3zM69.2 114.3h1.3v1.3h-1.3zM70.1 114.1h1.3v1.3h-1.3zM70.9 114.1h1.3v1.3h-1.3zM72.0 113.7h1.3v1.3h-1.3zM73.2 114.2h1.3v1.3h-1.3zM74.2 114.0h1.3v1.3h-1.3zM74.9 114.0h1.3v1.3h-1.3zM76.3 113.9h1.3v1.3h-1.3zM77.0 114.2h1.3v1.3h-1.3zM78.3 113.9h1.3v1.3h-1.3zM79.2 114.2h1.3v1.3h-1.3zM80.2 113.9h1.3v1.3h-1.3zM81.3 114.2h1.3v1.3h-1.3zM81.9 114.2h1.3v1.3h-1.3zM83.1 113.9h1.3v1.3h-1.3zM84.1 113.9h1.3v1.3h-1.3zM84.7 113.8h1.3v1.3h-1.3zM85.9 114.0h1.3v1.3h-1.3zM87.0 114.1h1.3v1.3h-1.3zM87.7 114.3h1.3v1.3h-1.3zM89.1 114.2h1.3v1.3h-1.3zM90.2 113.7h1.3v1.3h-1.3zM91.1 113.8h1.3v1.3h-1.3zM91.9 114.0h1.3v1.3h-1.3zM93.1 114.1h1.3v1.3h-1.3zM93.8 114.0h1.3v1.3h-1.3zM95.3 114.2h1.3v1.3h-1.3zM96.1 113.8h1.3v1.3h-1.3zM96.9 114.2h1.3v1.3h-1.3zM97.9 113.7h1.3v1.3h-1.3zM98.8 113.8h1.3v1.3h-1.3zM100.2 113.9h1.3v1.3h-1.3zM101.1 114.0h1.3v1.3h-1.3zM101.9 114.0h1.3v1.3h-1.3zM102.8 114.2h1.3v1.3h-1.3zM104.1 113.9h1.3v1.3h-1.3zM105.1 113.7h1.3v1.3h-1.3zM106.1 114.2h1.3v1.3h-1.3zM107.0 114.2h1.3v1.3h-1.3zM108.0 114.2h1.3v1.3h-1.3zM109.1 113.9h1.3v1.3h-1.3zM109.9 114.2h1.3v1.3h-1.3zM111.2 114.1h1.3v1.3h-1.3zM112.2 113.7h1.3v1.3h-1.3zM112.9 113.8h1.3v1.3h-1.3zM113.9 114.0h1.3v1.3h-1.3zM115.2 114.1h1.3v1.3h-1.3zM115.9 113.8h1.3v1.3h-1.3zM116.7 114.1h1.3v1.3h-1.3zM117.8 114.0h1.3v1.3h-1.3zM119.2 113.8h1.3v1.3h-1.3zM119.8 113.8h1.3v1.3h-1.3zM121.2 114.1h1.3v1.3h-1.3zM121.8 114.1h1.3v1.3h-1.3zM122.8 114.2h1.3v1.3h-1.3zM124.2 114.0h1.3v1.3h-1.3zM125.1 114.1h1.3v1.3h-1.3zM126.0 114.0h1.3v1.3h-1.3zM126.9 113.8h1.3v1.3h-1.3zM128.0 114.1h1.3v1.3h-1.3zM129.1 114.1h1.3v1.3h-1.3zM129.9 113.8h1.3v1.3h-1.3zM130.9 114.3h1.3v1.3h-1.3zM132.2 113.9h1.3v1.3h-1.3zM133.2 114.3h1.3v1.3h-1.3zM133.8 114.0h1.3v1.3h-1.3zM134.8 114.0h1.3v1.3h-1.3zM136.1 114.0h1.3v1.3h-1.3zM137.1 114.0h1.3v1.3h-1.3zM69.0 114.9h1.3v1.3h-1.3zM73.1 114.8h1.3v1.3h-1.3zM73.8 114.8h1.3v1.3h-1.3zM75.9 115.2h1.3v1.3h-1.3zM77.1 115.1h1.3v1.3h-1.3zM78.0 115.2h1.3v1.3h-1.3zM79.0 115.1h1.3v1.3h-1.3zM81.8 114.8h1.3v1.3h-1.3zM84.9 114.9h1.3v1.3h-1.3zM87.9 115.0h1.3v1.3h-1.3zM90.2 115.0h1.3v1.3h-1.3zM94.1 114.7h1.3v1.3h-1.3zM95.1 115.1h1.3v1.3h-1.3zM95.7 114.8h1.3v1.3h-1.3zM97.3 115.3h1.3v1.3h-1.3zM98.9 115.1h1.3v1.3h-1.3zM100.1 115.0h1.3v1.3h-1.3zM101.9 115.1h1.3v1.3h-1.3zM103.3 115.0h1.3v1.3h-1.3zM104.3 114.8h1.3v1.3h-1.3zM104.7 114.8h1.3v1.3h-1.3zM106.8 114.7h1.3v1.3h-1.3zM107.8 115.2h1.3v1.3h-1.3zM111.9 115.1h1.3v1.3h-1.3zM112.7 114.7h1.3v1.3h-1.3zM114.0 115.0h1.3v1.3h-1.3zM116.2 114.7h1.3v1.3h-1.3zM117.9 114.8h1.3v1.3h-1.3zM124.1 115.3h1.3v1.3h-1.3zM125.3 114.8h1.3v1.3h-1.3zM125.9 115.1h1.3v1.3h-1.3zM126.9 114.9h1.3v1.3h-1.3zM128.1 115.0h1.3v1.3h-1.3zM130.8 114.9h1.3v1.3h-1.3zM131.8 114.8h1.3v1.3h-1.3zM134.0 114.9h1.3v1.3h-1.3zM136.8 115.1h1.3v1.3h-1.3zM137.9 114.9h1.3v1.3h-1.3zM68.8 116.1h1.3v1.3h-1.3zM70.1 115.9h1.3v1.3h-1.3zM71.2 116.2h1.3v1.3h-1.3zM71.9 116.0h1.3v1.3h-1.3zM72.7 116.0h1.3v1.3h-1.3zM74.1 115.7h1.3v1.3h-1.3zM75.0 115.8h1.3v1.3h-1.3zM76.0 115.8h1.3v1.3h-1.3zM77.0 116.0h1.3v1.3h-1.3zM78.0 116.0h1.3v1.3h-1.3zM78.7 116.3h1.3v1.3h-1.3zM79.9 116.0h1.3v1.3h-1.3zM80.7 115.8h1.3v1.3h-1.3zM82.2 115.7h1.3v1.3h-1.3zM84.1 115.8h1.3v1.3h-1.3zM85.0 115.9h1.3v1.3h-1.3zM86.1 116.0h1.3v1.3h-1.3zM87.0 116.3h1.3v1.3h-1.3zM87.7 116.1h1.3v1.3h-1.3zM88.9 115.9h1.3v1.3h-1.3zM89.8 115.9h1.3v1.3h-1.3zM91.1 116.2h1.3v1.3h-1.3zM91.9 116.1h1.3v1.3h-1.3zM93.0 116.2h1.3v1.3h-1.3zM93.8 116.0h1.3v1.3h-1.3zM95.2 116.0h1.3v1.3h-1.3zM95.8 116.1h1.3v1.3h-1.3zM97.1 116.2h1.3v1.3h-1.3zM98.1 116.0h1.3v1.3h-1.3zM99.2 115.9h1.3v1.3h-1.3zM99.9 115.9h1.3v1.3h-1.3zM101.3 116.3h1.3v1.3h-1.3zM102.2 116.2h1.3v1.3h-1.3zM103.1 116.1h1.3v1.3h-1.3zM103.7 116.1h1.3v1.3h-1.3zM105.1 115.9h1.3v1.3h-1.3zM106.0 116.0h1.3v1.3h-1.3zM106.7 115.9h1.3v1.3h-1.3zM107.7 115.9h1.3v1.3h-1.3zM109.2 115.9h1.3v1.3h-1.3zM110.3 116.2h1.3v1.3h-1.3zM111.1 116.3h1.3v1.3h-1.3zM112.2 116.1h1.3v1.3h-1.3zM112.8 115.7h1.3v1.3h-1.3zM113.8 116.2h1.3v1.3h-1.3zM115.3 116.0h1.3v1.3h-1.3zM118.2 116.0h1.3v1.3h-1.3zM119.1 116.2h1.3v1.3h-1.3zM119.9 116.0h1.3v1.3h-1.3zM121.1 115.9h1.3v1.3h-1.3zM122.0 116.1h1.3v1.3h-1.3zM123.2 116.0h1.3v1.3h-1.3zM123.8 116.1h1.3v1.3h-1.3zM124.8 116.0h1.3v1.3h-1.3zM127.0 115.8h1.3v1.3h-1.3zM128.3 116.2h1.3v1.3h-1.3zM129.2 115.9h1.3v1.3h-1.3zM130.0 115.7h1.3v1.3h-1.3zM131.1 115.8h1.3v1.3h-1.3zM132.0 115.8h1.3v1.3h-1.3zM132.7 115.9h1.3v1.3h-1.3zM133.8 116.0h1.3v1.3h-1.3zM135.2 115.8h1.3v1.3h-1.3zM135.7 116.2h1.3v1.3h-1.3zM136.9 116.0h1.3v1.3h-1.3zM137.8 116.2h1.3v1.3h-1.3zM138.9 115.7h1.3v1.3h-1.3zM69.2 117.1h1.3v1.3h-1.3zM69.9 117.0h1.3v1.3h-1.3zM70.8 117.0h1.3v1.3h-1.3zM72.0 117.2h1.3v1.3h-1.3zM72.9 116.8h1.3v1.3h-1.3zM73.9 116.7h1.3v1.3h-1.3zM74.8 117.1h1.3v1.3h-1.3zM76.2 117.1h1.3v1.3h-1.3zM76.8 117.0h1.3v1.3h-1.3zM77.8 117.2h1.3v1.3h-1.3zM78.7 117.2h1.3v1.3h-1.3zM80.2 117.2h1.3v1.3h-1.3zM80.8 117.2h1.3v1.3h-1.3zM82.1 117.1h1.3v1.3h-1.3zM82.9 116.7h1.3v1.3h-1.3zM83.9 117.0h1.3v1.3h-1.3zM84.8 116.9h1.3v1.3h-1.3zM85.8 116.9h1.3v1.3h-1.3zM87.1 117.0h1.3v1.3h-1.3zM88.3 116.8h1.3v1.3h-1.3zM89.0 117.3h1.3v1.3h-1.3zM89.9 117.2h1.3v1.3h-1.3zM91.1 117.2h1.3v1.3h-1.3zM94.1 116.7h1.3v1.3h-1.3zM95.1 116.8h1.3v1.3h-1.3zM96.1 117.0h1.3v1.3h-1.3zM96.9 117.2h1.3v1.3h-1.3zM98.1 117.0h1.3v1.3h-1.3zM99.1 116.8h1.3v1.3h-1.3zM99.8 116.9h1.3v1.3h-1.3zM100.9 116.8h1.3v1.3h-1.3zM102.3 117.0h1.3v1.3h-1.3zM103.9 117.2h1.3v1.3h-1.3zM105.2 116.9h1.3v1.3h-1.3zM106.0 116.8h1.3v1.3h-1.3zM107.2 117.2h1.3v1.3h-1.3zM108.2 116.7h1.3v1.3h-1.3zM109.1 117.0h1.3v1.3h-1.3zM109.8 116.8h1.3v1.3h-1.3zM111.2 116.7h1.3v1.3h-1.3zM112.0 117.0h1.3v1.3h-1.3zM112.7 117.3h1.3v1.3h-1.3zM113.7 116.9h1.3v1.3h-1.3zM115.0 117.0h1.3v1.3h-1.3zM115.9 117.2h1.3v1.3h-1.3zM116.8 117.0h1.3v1.3h-1.3zM118.1 116.8h1.3v1.3h-1.3zM118.9 116.9h1.3v1.3h-1.3zM120.8 117.3h1.3v1.3h-1.3zM121.9 117.2h1.3v1.3h-1.3zM123.1 117.1h1.3v1.3h-1.3zM124.0 116.8h1.3v1.3h-1.3zM125.1 116.8h1.3v1.3h-1.3zM125.9 116.8h1.3v1.3h-1.3zM126.8 117.1h1.3v1.3h-1.3zM128.1 117.1h1.3v1.3h-1.3zM129.0 116.8h1.3v1.3h-1.3zM129.8 117.3h1.3v1.3h-1.3zM130.7 116.9h1.3v1.3h-1.3zM132.1 117.1h1.3v1.3h-1.3zM133.0 116.9h1.3v1.3h-1.3zM134.0 116.9h1.3v1.3h-1.3zM135.2 117.1h1.3v1.3h-1.3zM135.8 116.9h1.3v1.3h-1.3zM137.8 116.7h1.3v1.3h-1.3zM69.8 118.2h1.3v1.3h-1.3zM71.9 117.8h1.3v1.3h-1.3zM74.2 117.9h1.3v1.3h-1.3zM77.2 118.1h1.3v1.3h-1.3zM79.1 117.8h1.3v1.3h-1.3zM80.1 118.0h1.3v1.3h-1.3zM82.0 117.8h1.3v1.3h-1.3zM83.1 118.0h1.3v1.3h-1.3zM84.7 117.8h1.3v1.3h-1.3zM86.1 117.9h1.3v1.3h-1.3zM88.0 118.2h1.3v1.3h-1.3zM91.1 118.3h1.3v1.3h-1.3zM92.0 117.9h1.3v1.3h-1.3zM93.1 118.1h1.3v1.3h-1.3z" fill="#000"/>
<path d="M117.1 9.9h1.3v1.3h-1.3zM73.8 11.0h1.3v1.3h-1.3zM77.3 10.8h1.3v1.3h-1.3zM79.9 10.9h1.3v1.3h-1.3zM83.0 11.2h1.3v1.3h-1.3zM84.0 11.0h1.3v1.3h-1.3zM88.1 10.9h1.3v1.3h-1.3zM92.9 11.2h1.3v1.3h-1.3zM94.7 11.2h1.3v1.3h-1.3zM95.8 11.3h1.3v1.3h-1.3zM100.0 11.0h1.3v1.3h-1.3zM100.8 10.9h1.3v1.3h-1.3zM108.2 11.2h1.3v1.3h-1.3zM114.9 10.7h1.3v1.3h-1.3zM117.0 10.8h1.3v1.3h-1.3zM117.8 11.2h1.3v1.3h-1.3zM120.3 11.0h1.3v1.3h-1.3zM120.9 11.1h1.3v1.3h-1.3zM122.2 11.2h1.3v1.3h-1.3zM125.0 11.2h1.3v1.3h-1.3zM127.8 10.8h1.3v1.3h-1.3zM129.8 10.7h1.3v1.3h-1.3zM134.0 10.8h1.3v1.3h-1.3zM137.2 11.1h1.3v1.3h-1.3zM140.1 11.0h1.3v1.3h-1.3zM150.1 11.2h1.3v1.3h-1.3zM150.9 11.2h1.3v1.3h-1.3zM86.8 12.9h1.3v1.3h-1.3zM114.0 14.2h1.3v1.3h-1.3zM124.2 14.1h1.3v1.3h-1.3zM115.8 15.1h1.3v1.3h-1.3zM87.2 17.0h1.3v1.3h-1.3zM118.9 16.8h1.3v1.3h-1.3zM92.9 18.1h1.3v1.3h-1.3zM102.1 18.0h1.3v1.3h-1.3zM122.1 17.9h1.3v1.3h-1.3zM80.8 18.9h1.3v1.3h-1.3zM89.7 19.1h1.3v1.3h-1.3zM100.9 19.1h1.3v1.3h-1.3zM102.0 18.8h1.3v1.3h-1.3zM124.2 18.9h1.3v1.3h-1.3zM135.2 18.8h1.3v1.3h-1.3zM94.2 19.8h1.3v1.3h-1.3zM104.3 20.2h1.3v1.3h-1.3zM69.0 20.8h1.3v1.3h-1.3zM121.3 21.0h1.3v1.3h-1.3zM137.2 21.2h1.3v1.3h-1.3zM72.0 22.3h1.3v1.3h-1.3zM89.7 21.9h1.3v1.3h-1.3zM93.2 22.0h1.3v1.3h-1.3zM100.0 21.7h1.3v1.3h-1.3zM85.8 22.8h1.3v1.3h-1.3zM90.2 24.3h1.3v1.3h-1.3zM98.1 24.0h1.3v1.3h-1.3zM111.0 24.8h1.3v1.3h-1.3zM132.9 26.8h1.3v1.3h-1.3zM75.7 28.1h1.3v1.3h-1.3zM112.2 28.0h1.3v1.3h-1.3zM121.9 27.8h1.3v1.3h-1.3zM140.1 27.8h1.3v1.3h-1.3zM88.9 28.8h1.3v1.3h-1.3zM114.2 29.1h1.3v1.3h-1.3zM84.8 30.3h1.3v1.3h-1.3zM118.1 30.2h1.3v1.3h-1.3zM118.7 30.2h1.3v1.3h-1.3zM126.1 30.2h1.3v1.3h-1.3zM91.3 31.0h1.3v1.3h-1.3zM110.9 31.2h1.3v1.3h-1.3zM113.0 30.9h1.3v1.3h-1.3zM115.0 30.9h1.3v1.3h-1.3zM72.2 32.1h1.3v1.3h-1.3zM99.1 31.8h1.3v1.3h-1.3zM102.2 31.8h1.3v1.3h-1.3zM121.9 32.1h1.3v1.3h-1.3zM94.1 32.9h1.3v1.3h-1.3zM99.2 32.8h1.3v1.3h-1.3zM107.8 32.9h1.3v1.3h-1.3zM98.9 34.0h1.3v1.3h-1.3zM107.1 34.2h1.3v1.3h-1.3zM119.8 33.7h1.3v1.3h-1.3zM98.0 35.2h1.3v1.3h-1.3zM103.2 35.1h1.3v1.3h-1.3zM104.8 35.0h1.3v1.3h-1.3zM118.0 34.8h1.3v1.3h-1.3zM121.9 35.1h1.3v1.3h-1.3zM96.9 36.0h1.3v1.3h-1.3zM110.3 35.7h1.3v1.3h-1.3zM129.0 36.0h1.3v1.3h-1.3zM87.8 36.8h1.3v1.3h-1.3zM94.0 37.2h1.3v1.3h-1.3zM123.1 37.0h1.3v1.3h-1.3zM101.0 38.2h1.3v1.3h-1.3zM134.2 38.0h1.3v1.3h-1.3zM152.3 38.2h1.3v1.3h-1.3zM138.2 39.2h1.3v1.3h-1.3zM97.1 39.9h1.3v1.3h-1.3zM105.3 40.0h1.3v1.3h-1.3zM77.2 41.0h1.3v1.3h-1.3zM106.2 41.3h1.3v1.3h-1.3zM115.9 40.9h1.3v1.3h-1.3zM85.9 41.9h1.3v1.3h-1.3zM89.3 41.8h1.3v1.3h-1.3zM115.0 42.2h1.3v1.3h-1.3zM119.9 42.1h1.3v1.3h-1.3zM72.8 44.0h1.3v1.3h-1.3zM108.8 43.7h1.3v1.3h-1.3zM125.7 44.3h1.3v1.3h-1.3zM86.2 44.7h1.3v1.3h-1.3zM95.9 45.1h1.3v1.3h-1.3zM100.2 44.7h1.3v1.3h-1.3zM126.0 44.7h1.3v1.3h-1.3zM132.1 45.0h1.3v1.3h-1.3zM91.1 46.3h1.3v1.3h-1.3zM94.7 46.0h1.3v1.3h-1.3zM97.8 45.7h1.3v1.3h-1.3zM104.3 45.7h1.3v1.3h-1.3zM108.8 46.0h1.3v1.3h-1.3zM83.2 47.0h1.3v1.3h-1.3zM94.2 47.2h1.3v1.3h-1.3zM80.2 47.9h1.3v1.3h-1.3zM93.3 48.0h1.3v1.3h-1.3zM98.9 48.0h1.3v1.3h-1.3zM103.7 48.1h1.3v1.3h-1.3zM123.8 48.0h1.3v1.3h-1.3zM77.2 49.1h1.3v1.3h-1.3zM82.1 49.1h1.3v1.3h-1.3zM90.8 49.1h1.3v1.3h-1.3zM102.2 48.8h1.3v1.3h-1.3zM116.9 49.2h1.3v1.3h-1.3zM120.0 48.8h1.3v1.3h-1.3zM132.7 49.0h1.3v1.3h-1.3zM120.8 49.8h1.3v1.3h-1.3zM134.3 50.0h1.3v1.3h-1.3zM91.2 51.0h1.3v1.3h-1.3zM93.0 51.2h1.3v1.3h-1.3zM94.9 51.2h1.3v1.3h-1.3zM105.0 50.9h1.3v1.3h-1.3zM115.0 50.7h1.3v1.3h-1.3zM130.0 50.9h1.3v1.3h-1.3zM90.7 51.8h1.3v1.3h-1.3zM92.0 52.0h1.3v1.3h-1.3zM101.8 51.8h1.3v1.3h-1.3zM127.2 52.3h1.3v1.3h-1.3zM72.9 52.7h1.3v1.3h-1.3zM94.7 52.7h1.3v1.3h-1.3zM97.8 52.8h1.3v1.3h-1.3zM113.2 52.8h1.3v1.3h-1.3zM123.3 52.9h1.3v1.3h-1.3zM130.0 53.2h1.3v1.3h-1.3zM133.0 52.8h1.3v1.3h-1.3zM97.9 53.9h1.3v1.3h-1.3zM102.1 53.8h1.3v1.3h-1.3zM104.3 53.7h1.3v1.3h-1.3zM116.2 54.1h1.3v1.3h-1.3zM119.2 53.8h1.3v1.3h-1.3zM127.7 54.2h1.3v1.3h-1.3zM139.9 54.2h1.3v1.3h-1.3zM73.9 54.9h1.3v1.3h-1.3zM87.9 55.2h1.3v1.3h-1.3zM92.8 55.2h1.3v1.3h-1.3zM110.3 55.3h1.3v1.3h-1.3zM121.8 55.2h1.3v1.3h-1.3zM70.2 55.9h1.3v1.3h-1.3zM93.9 55.8h1.3v1.3h-1.3zM110.1 55.7h1.3v1.3h-1.3zM113.2 56.2h1.3v1.3h-1.3zM122.9 56.0h1.3v1.3h-1.3zM141.8 56.2h1.3v1.3h-1.3zM98.9 57.0h1.3v1.3h-1.3zM99.9 57.1h1.3v1.3h-1.3zM100.9 56.7h1.3v1.3h-1.3zM105.0 57.0h1.3v1.3h-1.3zM109.8 57.1h1.3v1.3h-1.3zM116.0 56.9h1.3v1.3h-1.3zM125.3 57.2h1.3v1.3h-1.3zM126.8 57.2h1.3v1.3h-1.3zM134.0 57.2h1.3v1.3h-1.3zM84.1 57.9h1.3v1.3h-1.3zM96.9 58.2h1.3v1.3h-1.3zM99.7 57.7h1.3v1.3h-1.3zM134.1 58.1h1.3v1.3h-1.3zM84.3 59.2h1.3v1.3h-1.3zM90.3 59.2h1.3v1.3h-1.3zM101.7 58.8h1.3v1.3h-1.3zM128.9 59.2h1.3v1.3h-1.3zM138.9 58.9h1.3v1.3h-1.3zM74.0 59.8h1.3v1.3h-1.3zM93.0 59.9h1.3v1.3h-1.3zM103.1 60.2h1.3v1.3h-1.3zM109.1 60.2h1.3v1.3h-1.3zM121.0 59.9h1.3v1.3h-1.3zM121.8 59.9h1.3v1.3h-1.3zM130.2 60.2h1.3v1.3h-1.3zM88.3 61.0h1.3v1.3h-1.3zM89.8 61.0h1.3v1.3h-1.3zM94.8 61.1h1.3v1.3h-1.3zM110.1 61.3h1.3v1.3h-1.3zM116.8 60.8h1.3v1.3h-1.3zM124.0 61.0h1.3v1.3h-1.3zM126.2 61.1h1.3v1.3h-1.3zM127.9 61.2h1.3v1.3h-1.3zM130.2 60.7h1.3v1.3h-1.3zM147.0 61.0h1.3v1.3h-1.3zM158.9 61.1h1.3v1.3h-1.3zM73.9 62.1h1.3v1.3h-1.3zM85.0 62.3h1.3v1.3h-1.3zM92.8 62.1h1.3v1.3h-1.3zM99.9 62.0h1.3v1.3h-1.3zM157.9 61.9h1.3v1.3h-1.3zM79.2 63.0h1.3v1.3h-1.3zM93.9 63.3h1.3v1.3h-1.3zM97.8 63.1h1.3v1.3h-1.3zM111.0 63.0h1.3v1.3h-1.3zM130.0 63.2h1.3v1.3h-1.3zM98.2 64.0h1.3v1.3h-1.3zM100.0 64.2h1.3v1.3h-1.3zM114.3 64.0h1.3v1.3h-1.3zM117.2 63.9h1.3v1.3h-1.3zM139.0 64.3h1.3v1.3h-1.3zM74.0 65.1h1.3v1.3h-1.3zM77.8 64.9h1.3v1.3h-1.3zM89.9 65.2h1.3v1.3h-1.3zM90.8 64.9h1.3v1.3h-1.3zM82.9 66.0h1.3v1.3h-1.3zM85.2 66.1h1.3v1.3h-1.3zM87.2 66.0h1.3v1.3h-1.3zM91.0 66.1h1.3v1.3h-1.3zM91.8 66.0h1.3v1.3h-1.3zM101.9 65.7h1.3v1.3h-1.3zM105.8 66.1h1.3v1.3h-1.3zM116.3 66.0h1.3v1.3h-1.3zM119.1 66.0h1.3v1.3h-1.3zM123.3 66.1h1.3v1.3h-1.3zM87.8 67.1h1.3v1.3h-1.3zM88.8 67.1h1.3v1.3h-1.3zM104.8 66.7h1.3v1.3h-1.3zM105.8 67.1h1.3v1.3h-1.3zM109.2 67.0h1.3v1.3h-1.3zM110.8 67.0h1.3v1.3h-1.3zM123.8 66.8h1.3v1.3h-1.3zM136.0 66.9h1.3v1.3h-1.3zM97.3 67.7h1.3v1.3h-1.3zM101.0 68.2h1.3v1.3h-1.3zM103.3 68.1h1.3v1.3h-1.3zM108.8 67.8h1.3v1.3h-1.3zM80.9 69.0h1.3v1.3h-1.3zM104.7 69.1h1.3v1.3h-1.3zM111.8 68.8h1.3v1.3h-1.3zM82.0 70.2h1.3v1.3h-1.3zM87.8 69.8h1.3v1.3h-1.3zM97.2 70.2h1.3v1.3h-1.3zM105.2 70.0h1.3v1.3h-1.3zM109.1 70.1h1.3v1.3h-1.3zM112.1 69.7h1.3v1.3h-1.3zM117.8 70.2h1.3v1.3h-1.3zM126.8 70.1h1.3v1.3h-1.3zM152.7 70.0h1.3v1.3h-1.3zM81.9 70.9h1.3v1.3h-1.3zM108.0 71.0h1.3v1.3h-1.3zM131.9 71.3h1.3v1.3h-1.3zM167.9 70.7h1.3v1.3h-1.3zM90.0 72.0h1.3v1.3h-1.3zM94.0 72.3h1.3v1.3h-1.3zM98.1 71.8h1.3v1.3h-1.3zM98.9 71.7h1.3v1.3h-1.3zM103.1 72.0h1.3v1.3h-1.3zM120.0 71.9h1.3v1.3h-1.3zM93.1 72.7h1.3v1.3h-1.3zM104.1 72.9h1.3v1.3h-1.3zM107.3 73.0h1.3v1.3h-1.3zM110.3 72.8h1.3v1.3h-1.3zM115.8 73.1h1.3v1.3h-1.3zM122.2 73.1h1.3v1.3h-1.3zM136.0 73.1h1.3v1.3h-1.3zM145.7 73.2h1.3v1.3h-1.3zM84.2 74.0h1.3v1.3h-1.3zM87.3 74.3h1.3v1.3h-1.3zM89.8 74.2h1.3v1.3h-1.3zM90.8 74.1h1.3v1.3h-1.3zM95.0 74.2h1.3v1.3h-1.3zM98.2 74.0h1.3v1.3h-1.3zM104.0 73.9h1.3v1.3h-1.3zM109.9 74.0h1.3v1.3h-1.3zM113.3 73.8h1.3v1.3h-1.3zM121.7 73.8h1.3v1.3h-1.3zM124.2 73.8h1.3v1.3h-1.3zM126.1 74.0h1.3v1.3h-1.3zM130.7 74.0h1.3v1.3h-1.3zM170.1 74.0h1.3v1.3h-1.3zM108.1 74.8h1.3v1.3h-1.3zM111.7 74.9h1.3v1.3h-1.3zM114.7 75.1h1.3v1.3h-1.3zM118.1 74.8h1.3v1.3h-1.3zM122.8 74.9h1.3v1.3h-1.3zM134.9 74.8h1.3v1.3h-1.3zM85.0 76.2h1.3v1.3h-1.3zM97.2 75.8h1.3v1.3h-1.3zM99.2 75.7h1.3v1.3h-1.3zM100.1 76.0h1.3v1.3h-1.3zM101.7 76.2h1.3v1.3h-1.3zM107.0 76.1h1.3v1.3h-1.3zM112.0 75.9h1.3v1.3h-1.3zM113.3 76.3h1.3v1.3h-1.3zM115.0 76.1h1.3v1.3h-1.3zM117.2 75.8h1.3v1.3h-1.3zM117.8 75.9h1.3v1.3h-1.3zM123.0 76.2h1.3v1.3h-1.3zM126.2 76.3h1.3v1.3h-1.3zM127.1 76.1h1.3v1.3h-1.3zM136.0 76.0h1.3v1.3h-1.3zM73.7 76.9h1.3v1.3h-1.3zM75.9 77.0h1.3v1.3h-1.3zM78.9 77.2h1.3v1.3h-1.3zM83.9 77.1h1.3v1.3h-1.3zM97.0 77.0h1.3v1.3h-1.3zM98.9 77.2h1.3v1.3h-1.3zM101.1 76.7h1.3v1.3h-1.3zM107.1 77.2h1.3v1.3h-1.3zM109.0 76.9h1.3v1.3h-1.3zM113.2 77.0h1.3v1.3h-1.3zM116.1 77.2h1.3v1.3h-1.3zM117.2 76.9h1.3v1.3h-1.3zM134.3 76.9h1.3v1.3h-1.3zM134.8 77.0h1.3v1.3h-1.3zM75.3 77.7h1.3v1.3h-1.3zM86.2 77.9h1.3v1.3h-1.3zM95.8 77.9h1.3v1.3h-1.3zM97.7 77.7h1.3v1.3h-1.3zM101.0 78.0h1.3v1.3h-1.3zM104.0 78.0h1.3v1.3h-1.3zM105.2 78.1h1.3v1.3h-1.3zM106.7 77.9h1.3v1.3h-1.3zM109.8 78.2h1.3v1.3h-1.3zM112.1 78.0h1.3v1.3h-1.3zM115.2 77.8h1.3v1.3h-1.3zM116.8 77.9h1.3v1.3h-1.3zM124.0 78.3h1.3v1.3h-1.3zM126.2 77.9h1.3v1.3h-1.3zM128.7 78.0h1.3v1.3h-1.3zM130.0 78.1h1.3v1.3h-1.3zM132.0 77.7h1.3v1.3h-1.3zM155.7 78.0h1.3v1.3h-1.3zM74.2 79.3h1.3v1.3h-1.3zM81.3 79.0h1.3v1.3h-1.3zM85.9 78.8h1.3v1.3h-1.3zM91.9 78.8h1.3v1.3h-1.3zM95.7 78.8h1.3v1.3h-1.3zM100.0 78.7h1.3v1.3h-1.3zM105.7 79.3h1.3v1.3h-1.3zM107.7 78.8h1.3v1.3h-1.3zM111.2 79.0h1.3v1.3h-1.3zM111.8 79.2h1.3v1.3h-1.3zM120.8 78.9h1.3v1.3h-1.3zM122.7 78.7h1.3v1.3h-1.3zM130.2 78.8h1.3v1.3h-1.3zM132.1 79.0h1.3v1.3h-1.3zM133.7 78.9h1.3v1.3h-1.3zM144.0 79.0h1.3v1.3h-1.3zM155.3 79.0h1.3v1.3h-1.3zM84.1 80.3h1.3v1.3h-1.3zM89.1 80.1h1.3v1.3h-1.3zM93.0 79.9h1.3v1.3h-1.3zM94.2 80.0h1.3v1.3h-1.3zM98.2 79.7h1.3v1.3h-1.3zM102.8 80.2h1.3v1.3h-1.3zM103.8 79.7h1.3v1.3h-1.3zM110.2 79.7h1.3v1.3h-1.3zM112.3 79.8h1.3v1.3h-1.3zM114.9 80.2h1.3v1.3h-1.3zM116.1 79.8h1.3v1.3h-1.3zM119.8 79.9h1.3v1.3h-1.3zM120.9 80.1h1.3v1.3h-1.3zM123.1 80.0h1.3v1.3h-1.3zM125.0 80.0h1.3v1.3h-1.3zM136.1 80.1h1.3v1.3h-1.3zM77.7 80.8h1.3v1.3h-1.3zM86.3 80.8h1.3v1.3h-1.3zM93.8 80.9h1.3v1.3h-1.3zM95.2 80.8h1.3v1.3h-1.3zM99.1 80.8h1.3v1.3h-1.3zM103.8 81.2h1.3v1.3h-1.3zM105.0 81.0h1.3v1.3h-1.3zM107.2 81.1h1.3v1.3h-1.3zM107.8 81.1h1.3v1.3h-1.3zM109.1 81.1h1.3v1.3h-1.3zM110.0 80.9h1.3v1.3h-1.3zM110.9 80.8h1.3v1.3h-1.3zM112.2 81.0h1.3v1.3h-1.3zM112.7 81.2h1.3v1.3h-1.3zM116.1 81.1h1.3v1.3h-1.3zM117.1 81.2h1.3v1.3h-1.3zM127.1 81.3h1.3v1.3h-1.3zM128.7 80.8h1.3v1.3h-1.3zM74.1 81.7h1.3v1.3h-1.3zM83.8 82.2h1.3v1.3h-1.3zM87.8 81.9h1.3v1.3h-1.3zM91.3 82.0h1.3v1.3h-1.3zM91.9 81.8h1.3v1.3h-1.3zM94.0 82.0h1.3v1.3h-1.3zM94.8 82.0h1.3v1.3h-1.3zM102.0 81.9h1.3v1.3h-1.3zM102.9 82.1h1.3v1.3h-1.3zM103.9 81.7h1.3v1.3h-1.3zM104.7 81.9h1.3v1.3h-1.3zM111.7 81.9h1.3v1.3h-1.3zM115.0 81.9h1.3v1.3h-1.3zM117.1 82.2h1.3v1.3h-1.3zM117.8 81.8h1.3v1.3h-1.3zM120.2 82.0h1.3v1.3h-1.3zM127.1 81.8h1.3v1.3h-1.3zM128.2 81.7h1.3v1.3h-1.3zM75.0 83.3h1.3v1.3h-1.3zM79.2 83.0h1.3v1.3h-1.3zM90.3 82.8h1.3v1.3h-1.3zM91.0 83.1h1.3v1.3h-1.3zM93.1 83.0h1.3v1.3h-1.3zM95.8 83.1h1.3v1.3h-1.3zM100.0 83.0h1.3v1.3h-1.3zM110.3 83.2h1.3v1.3h-1.3zM110.8 83.3h1.3v1.3h-1.3zM112.1 82.9h1.3v1.3h-1.3zM114.0 83.2h1.3v1.3h-1.3zM114.8 83.0h1.3v1.3h-1.3zM117.3 82.9h1.3v1.3h-1.3zM117.7 83.2h1.3v1.3h-1.3zM121.0 82.8h1.3v1.3h-1.3zM122.0 83.1h1.3v1.3h-1.3zM124.2 83.3h1.3v1.3h-1.3zM124.9 83.1h1.3v1.3h-1.3zM129.0 82.8h1.3v1.3h-1.3zM131.8 83.3h1.3v1.3h-1.3zM146.7 82.7h1.3v1.3h-1.3zM81.0 84.3h1.3v1.3h-1.3zM88.0 83.7h1.3v1.3h-1.3zM91.8 84.3h1.3v1.3h-1.3zM93.7 84.0h1.3v1.3h-1.3zM102.2 84.0h1.3v1.3h-1.3zM108.0 83.9h1.3v1.3h-1.3zM108.8 84.2h1.3v1.3h-1.3zM110.1 84.0h1.3v1.3h-1.3zM110.7 83.8h1.3v1.3h-1.3zM113.0 84.0h1.3v1.3h-1.3zM115.9 83.8h1.3v1.3h-1.3zM117.1 84.2h1.3v1.3h-1.3zM118.0 83.9h1.3v1.3h-1.3zM130.8 84.1h1.3v1.3h-1.3zM139.8 84.1h1.3v1.3h-1.3zM144.2 84.3h1.3v1.3h-1.3zM77.0 85.0h1.3v1.3h-1.3zM79.0 84.9h1.3v1.3h-1.3zM82.2 85.2h1.3v1.3h-1.3zM82.9 85.1h1.3v1.3h-1.3zM88.3 85.0h1.3v1.3h-1.3zM93.1 85.1h1.3v1.3h-1.3zM95.9 84.8h1.3v1.3h-1.3zM96.8 85.0h1.3v1.3h-1.3zM97.9 85.2h1.3v1.3h-1.3zM98.7 84.8h1.3v1.3h-1.3zM101.2 84.7h1.3v1.3h-1.3zM101.8 85.0h1.3v1.3h-1.3zM103.0 84.9h1.3v1.3h-1.3zM104.1 84.9h1.3v1.3h-1.3zM105.0 85.3h1.3v1.3h-1.3zM113.3 85.3h1.3v1.3h-1.3zM113.8 85.3h1.3v1.3h-1.3zM117.2 84.8h1.3v1.3h-1.3zM119.0 84.8h1.3v1.3h-1.3zM119.8 84.9h1.3v1.3h-1.3zM124.0 84.8h1.3v1.3h-1.3zM131.2 85.2h1.3v1.3h-1.3zM139.9 84.8h1.3v1.3h-1.3zM88.0 86.1h1.3v1.3h-1.3zM88.9 85.7h1.3v1.3h-1.3zM93.8 86.2h1.3v1.3h-1.3zM96.7 86.1h1.3v1.3h-1.3zM116.8 85.7h1.3v1.3h-1.3zM117.8 86.0h1.3v1.3h-1.3zM119.3 86.0h1.3v1.3h-1.3zM124.1 85.8h1.3v1.3h-1.3zM125.9 86.1h1.3v1.3h-1.3zM128.8 86.3h1.3v1.3h-1.3zM131.3 86.0h1.3v1.3h-1.3zM132.8 86.3h1.3v1.3h-1.3zM140.2 85.8h1.3v1.3h-1.3zM160.8 85.9h1.3v1.3h-1.3zM71.0 86.9h1.3v1.3h-1.3zM75.8 87.0h1.3v1.3h-1.3zM89.9 87.0h1.3v1.3h-1.3zM92.7 87.3h1.3v1.3h-1.3zM95.8 87.2h1.3v1.3h-1.3zM119.9 87.2h1.3v1.3h-1.3zM121.0 86.8h1.3v1.3h-1.3zM124.7 87.3h1.3v1.3h-1.3zM126.0 86.8h1.3v1.3h-1.3zM128.2 86.8h1.3v1.3h-1.3zM129.2 87.2h1.3v1.3h-1.3zM129.9 86.8h1.3v1.3h-1.3zM133.2 86.9h1.3v1.3h-1.3zM142.3 87.1h1.3v1.3h-1.3zM142.8 87.2h1.3v1.3h-1.3zM145.9 87.1h1.3v1.3h-1.3zM77.1 87.8h1.3v1.3h-1.3zM84.8 87.7h1.3v1.3h-1.3zM86.3 88.0h1.3v1.3h-1.3zM86.8 87.7h1.3v1.3h-1.3zM88.7 87.9h1.3v1.3h-1.3zM89.9 88.1h1.3v1.3h-1.3zM90.7 88.2h1.3v1.3h-1.3zM124.3 87.8h1.3v1.3h-1.3zM124.8 87.9h1.3v1.3h-1.3zM127.1 87.8h1.3v1.3h-1.3zM130.8 87.8h1.3v1.3h-1.3zM133.7 88.1h1.3v1.3h-1.3zM143.0 87.8h1.3v1.3h-1.3zM156.0 88.3h1.3v1.3h-1.3zM70.2 89.1h1.3v1.3h-1.3zM71.8 88.9h1.3v1.3h-1.3zM73.0 89.0h1.3v1.3h-1.3zM135.9 89.2h1.3v1.3h-1.3zM136.8 88.9h1.3v1.3h-1.3zM137.7 88.9h1.3v1.3h-1.3zM138.7 89.0h1.3v1.3h-1.3zM140.7 89.1h1.3v1.3h-1.3zM148.7 88.8h1.3v1.3h-1.3zM156.0 88.9h1.3v1.3h-1.3zM141.2 90.2h1.3v1.3h-1.3zM141.8 90.1h1.3v1.3h-1.3zM156.2 89.9h1.3v1.3h-1.3zM143.9 91.0h1.3v1.3h-1.3zM145.1 92.2h1.3v1.3h-1.3zM156.0 92.0h1.3v1.3h-1.3zM145.2 93.0h1.3v1.3h-1.3zM142.1 93.7h1.3v1.3h-1.3zM143.9 94.9h1.3v1.3h-1.3zM145.9 95.2h1.3v1.3h-1.3zM151.9 95.1h1.3v1.3h-1.3zM163.7 95.2h1.3v1.3h-1.3zM143.1 96.8h1.3v1.3h-1.3zM143.0 98.3h1.3v1.3h-1.3zM149.0 98.0h1.3v1.3h-1.3zM156.0 97.7h1.3v1.3h-1.3zM149.9 101.0h1.3v1.3h-1.3zM157.3 100.8h1.3v1.3h-1.3zM147.9 101.7h1.3v1.3h-1.3zM157.3 102.2h1.3v1.3h-1.3zM152.0 103.7h1.3v1.3h-1.3zM154.1 103.7h1.3v1.3h-1.3zM150.8 104.8h1.3v1.3h-1.3zM146.2 107.0h1.3v1.3h-1.3zM144.0 108.2h1.3v1.3h-1.3zM145.8 107.8h1.3v1.3h-1.3zM147.9 108.1h1.3v1.3h-1.3zM161.2 108.0h1.3v1.3h-1.3zM140.1 109.1h1.3v1.3h-1.3zM148.0 108.9h1.3v1.3h-1.3zM148.9 108.9h1.3v1.3h-1.3zM142.8 109.7h1.3v1.3h-1.3zM145.1 110.1h1.3v1.3h-1.3zM153.1 110.3h1.3v1.3h-1.3zM145.8 111.1h1.3v1.3h-1.3zM146.7 110.8h1.3v1.3h-1.3zM148.2 111.1h1.3v1.3h-1.3zM138.9 112.9h1.3v1.3h-1.3zM140.0 112.7h1.3v1.3h-1.3zM140.7 113.0h1.3v1.3h-1.3zM142.0 113.1h1.3v1.3h-1.3zM147.0 112.9h1.3v1.3h-1.3zM152.2 113.2h1.3v1.3h-1.3zM140.0 113.7h1.3v1.3h-1.3zM146.2 114.2h1.3v1.3h-1.3zM149.3 114.1h1.3v1.3h-1.3zM140.0 115.2h1.3v1.3h-1.3zM141.7 116.0h1.3v1.3h-1.3zM93.9 117.7h1.3v1.3h-1.3zM95.8 118.2h1.3v1.3h-1.3z" fill="#3c3c3c"/>
<path d="M235.9 90.2h1.3v1.3h-1.3zM238.3 89.8h1.3v1.3h-1.3zM243.0 90.3h1.3v1.3h-1.3zM244.2 90.2h1.3v1.3h-1.3zM246.0 89.8h1.3v1.3h-1.3zM247.2 89.7h1.3v1.3h-1.3zM248.7 90.3h1.3v1.3h-1.3zM250.8 89.9h1.3v1.3h-1.3zM234.3 91.0h1.3v1.3h-1.3zM234.8 91.1h1.3v1.3h-1.3zM236.2 90.9h1.3v1.3h-1.3zM238.0 90.7h1.3v1.3h-1.3zM238.8 91.0h1.3v1.3h-1.3zM239.8 90.9h1.3v1.3h-1.3zM242.1 90.7h1.3v1.3h-1.3zM243.3 91.0h1.3v1.3h-1.3zM244.2 90.8h1.3v1.3h-1.3zM244.8 90.8h1.3v1.3h-1.3zM248.2 91.0h1.3v1.3h-1.3zM249.0 90.9h1.3v1.3h-1.3zM251.0 91.2h1.3v1.3h-1.3zM252.1 91.0h1.3v1.3h-1.3zM252.9 91.0h1.3v1.3h-1.3zM231.9 91.7h1.3v1.3h-1.3zM234.1 91.8h1.3v1.3h-1.3zM235.2 91.8h1.3v1.3h-1.3zM235.8 92.1h1.3v1.3h-1.3zM236.8 91.8h1.3v1.3h-1.3zM237.9 91.9h1.3v1.3h-1.3zM239.1 92.1h1.3v1.3h-1.3zM240.0 91.7h1.3v1.3h-1.3zM241.1 91.8h1.3v1.3h-1.3zM242.1 92.1h1.3v1.3h-1.3zM242.9 92.0h1.3v1.3h-1.3zM244.2 91.7h1.3v1.3h-1.3zM245.1 91.8h1.3v1.3h-1.3zM246.0 91.9h1.3v1.3h-1.3zM247.2 91.9h1.3v1.3h-1.3zM248.1 92.1h1.3v1.3h-1.3zM249.2 92.2h1.3v1.3h-1.3zM249.8 92.2h1.3v1.3h-1.3zM250.8 92.1h1.3v1.3h-1.3zM251.9 92.2h1.3v1.3h-1.3zM252.8 91.7h1.3v1.3h-1.3zM254.1 92.1h1.3v1.3h-1.3zM229.2 93.3h1.3v1.3h-1.3zM231.0 92.7h1.3v1.3h-1.3zM232.1 93.2h1.3v1.3h-1.3zM233.8 93.1h1.3v1.3h-1.3zM235.2 93.3h1.3v1.3h-1.3zM236.1 93.0h1.3v1.3h-1.3zM237.2 92.7h1.3v1.3h-1.3zM237.9 93.0h1.3v1.3h-1.3zM239.2 93.2h1.3v1.3h-1.3zM240.1 92.7h1.3v1.3h-1.3zM241.1 92.8h1.3v1.3h-1.3zM242.2 93.2h1.3v1.3h-1.3zM242.7 93.1h1.3v1.3h-1.3zM244.0 93.3h1.3v1.3h-1.3zM244.8 93.1h1.3v1.3h-1.3zM246.1 93.1h1.3v1.3h-1.3zM246.9 92.9h1.3v1.3h-1.3zM248.3 93.3h1.3v1.3h-1.3zM249.2 93.2h1.3v1.3h-1.3zM249.8 92.9h1.3v1.3h-1.3zM251.1 93.2h1.3v1.3h-1.3zM251.9 93.1h1.3v1.3h-1.3zM253.0 92.9h1.3v1.3h-1.3zM253.7 93.1h1.3v1.3h-1.3zM254.9 93.0h1.3v1.3h-1.3zM256.1 92.8h1.3v1.3h-1.3zM219.8 93.8h1.3v1.3h-1.3zM221.2 94.0h1.3v1.3h-1.3zM221.7 94.0h1.3v1.3h-1.3zM225.0 93.9h1.3v1.3h-1.3zM226.2 94.0h1.3v1.3h-1.3zM226.8 94.2h1.3v1.3h-1.3zM229.7 93.9h1.3v1.3h-1.3zM231.0 94.1h1.3v1.3h-1.3zM231.7 94.1h1.3v1.3h-1.3zM232.8 93.9h1.3v1.3h-1.3zM233.9 94.1h1.3v1.3h-1.3zM235.0 93.8h1.3v1.3h-1.3zM236.2 94.2h1.3v1.3h-1.3zM236.8 94.1h1.3v1.3h-1.3zM238.0 93.9h1.3v1.3h-1.3zM239.0 93.8h1.3v1.3h-1.3zM239.7 94.0h1.3v1.3h-1.3zM240.8 93.7h1.3v1.3h-1.3zM242.1 93.9h1.3v1.3h-1.3zM243.1 93.9h1.3v1.3h-1.3zM243.7 93.9h1.3v1.3h-1.3zM245.1 94.3h1.3v1.3h-1.3zM246.2 94.2h1.3v1.3h-1.3zM246.7 94.1h1.3v1.3h-1.3zM248.0 93.8h1.3v1.3h-1.3zM248.8 94.3h1.3v1.3h-1.3zM250.2 94.2h1.3v1.3h-1.3zM251.2 94.1h1.3v1.3h-1.3zM252.1 94.1h1.3v1.3h-1.3zM253.0 94.3h1.3v1.3h-1.3zM254.0 93.8h1.3v1.3h-1.3zM254.8 94.1h1.3v1.3h-1.3zM219.9 95.2h1.3v1.3h-1.3zM221.1 94.7h1.3v1.3h-1.3zM222.2 95.3h1.3v1.3h-1.3zM226.0 94.8h1.3v1.3h-1.3zM226.8 95.0h1.3v1.3h-1.3zM228.2 95.2h1.3v1.3h-1.3zM228.8 95.2h1.3v1.3h-1.3zM230.3 94.9h1.3v1.3h-1.3zM230.7 95.0h1.3v1.3h-1.3zM232.2 95.0h1.3v1.3h-1.3zM233.1 95.1h1.3v1.3h-1.3zM233.9 95.3h1.3v1.3h-1.3zM235.0 94.8h1.3v1.3h-1.3zM235.8 94.8h1.3v1.3h-1.3zM237.1 95.3h1.3v1.3h-1.3zM237.8 94.9h1.3v1.3h-1.3zM238.9 94.9h1.3v1.3h-1.3zM240.0 94.8h1.3v1.3h-1.3zM241.1 94.9h1.3v1.3h-1.3zM241.8 95.0h1.3v1.3h-1.3zM243.2 95.2h1.3v1.3h-1.3zM244.3 95.1h1.3v1.3h-1.3zM244.9 95.3h1.3v1.3h-1.3zM246.0 95.0h1.3v1.3h-1.3zM246.9 94.9h1.3v1.3h-1.3zM248.2 94.9h1.3v1.3h-1.3zM248.8 94.8h1.3v1.3h-1.3zM249.8 94.9h1.3v1.3h-1.3zM251.2 95.2h1.3v1.3h-1.3zM252.0 94.7h1.3v1.3h-1.3zM252.8 95.1h1.3v1.3h-1.3zM254.3 95.2h1.3v1.3h-1.3zM255.0 95.3h1.3v1.3h-1.3zM256.0 94.9h1.3v1.3h-1.3zM258.2 95.2h1.3v1.3h-1.3zM259.3 94.7h1.3v1.3h-1.3zM259.9 94.7h1.3v1.3h-1.3zM262.2 95.1h1.3v1.3h-1.3zM262.9 95.1h1.3v1.3h-1.3zM263.9 94.9h1.3v1.3h-1.3zM265.1 95.1h1.3v1.3h-1.3zM267.9 95.1h1.3v1.3h-1.3zM268.7 94.8h1.3v1.3h-1.3zM269.8 94.9h1.3v1.3h-1.3zM271.9 95.2h1.3v1.3h-1.3zM221.2 95.8h1.3v1.3h-1.3zM222.0 95.8h1.3v1.3h-1.3zM223.2 95.9h1.3v1.3h-1.3zM224.1 95.8h1.3v1.3h-1.3zM224.9 96.0h1.3v1.3h-1.3zM227.0 95.7h1.3v1.3h-1.3zM229.0 96.1h1.3v1.3h-1.3zM229.9 95.9h1.3v1.3h-1.3zM231.1 95.8h1.3v1.3h-1.3zM232.0 95.7h1.3v1.3h-1.3zM232.8 95.7h1.3v1.3h-1.3zM234.0 95.9h1.3v1.3h-1.3zM235.2 96.0h1.3v1.3h-1.3zM236.0 96.1h1.3v1.3h-1.3zM237.1 96.0h1.3v1.3h-1.3zM238.1 95.7h1.3v1.3h-1.3zM239.1 95.7h1.3v1.3h-1.3zM240.2 95.8h1.3v1.3h-1.3zM241.0 95.9h1.3v1.3h-1.3zM241.8 96.2h1.3v1.3h-1.3zM243.2 96.0h1.3v1.3h-1.3zM243.8 96.3h1.3v1.3h-1.3zM245.1 95.7h1.3v1.3h-1.3zM246.2 95.8h1.3v1.3h-1.3zM246.9 95.8h1.3v1.3h-1.3zM248.2 96.2h1.3v1.3h-1.3zM248.7 96.3h1.3v1.3h-1.3zM250.3 96.3h1.3v1.3h-1.3zM250.8 95.8h1.3v1.3h-1.3zM252.0 96.1h1.3v1.3h-1.3zM252.8 96.3h1.3v1.3h-1.3zM254.1 96.0h1.3v1.3h-1.3zM255.2 95.7h1.3v1.3h-1.3zM256.2 96.0h1.3v1.3h-1.3zM257.0 96.1h1.3v1.3h-1.3zM262.1 95.9h1.3v1.3h-1.3zM262.8 96.1h1.3v1.3h-1.3zM263.9 95.9h1.3v1.3h-1.3zM265.8 96.1h1.3v1.3h-1.3zM267.1 96.0h1.3v1.3h-1.3zM270.0 96.3h1.3v1.3h-1.3zM270.7 95.8h1.3v1.3h-1.3zM273.0 95.8h1.3v1.3h-1.3zM220.2 97.2h1.3v1.3h-1.3zM222.9 97.1h1.3v1.3h-1.3zM226.8 96.9h1.3v1.3h-1.3zM227.7 96.7h1.3v1.3h-1.3zM231.0 97.2h1.3v1.3h-1.3zM231.9 97.0h1.3v1.3h-1.3zM232.9 97.2h1.3v1.3h-1.3zM234.3 97.2h1.3v1.3h-1.3zM235.2 97.2h1.3v1.3h-1.3zM236.2 96.7h1.3v1.3h-1.3zM236.9 96.7h1.3v1.3h-1.3zM238.2 97.0h1.3v1.3h-1.3zM239.3 96.9h1.3v1.3h-1.3zM239.8 97.1h1.3v1.3h-1.3zM240.7 96.9h1.3v1.3h-1.3zM242.1 97.2h1.3v1.3h-1.3zM243.0 96.9h1.3v1.3h-1.3zM243.7 97.0h1.3v1.3h-1.3zM245.1 96.9h1.3v1.3h-1.3zM246.0 97.3h1.3v1.3h-1.3zM247.3 96.8h1.3v1.3h-1.3zM248.1 97.1h1.3v1.3h-1.3zM248.8 96.7h1.3v1.3h-1.3zM249.7 97.0h1.3v1.3h-1.3zM250.7 96.9h1.3v1.3h-1.3zM252.2 97.3h1.3v1.3h-1.3zM253.1 97.3h1.3v1.3h-1.3zM254.2 97.3h1.3v1.3h-1.3zM255.1 97.2h1.3v1.3h-1.3zM256.8 97.0h1.3v1.3h-1.3zM261.1 97.1h1.3v1.3h-1.3zM266.0 96.9h1.3v1.3h-1.3zM267.2 97.1h1.3v1.3h-1.3zM268.0 96.9h1.3v1.3h-1.3zM268.9 96.7h1.3v1.3h-1.3zM270.1 96.8h1.3v1.3h-1.3zM270.7 97.1h1.3v1.3h-1.3zM272.1 97.0h1.3v1.3h-1.3zM272.9 96.9h1.3v1.3h-1.3zM220.2 97.7h1.3v1.3h-1.3zM221.3 97.8h1.3v1.3h-1.3zM224.1 97.9h1.3v1.3h-1.3zM225.0 98.0h1.3v1.3h-1.3zM227.0 98.0h1.3v1.3h-1.3zM230.0 97.9h1.3v1.3h-1.3zM232.2 97.9h1.3v1.3h-1.3zM233.3 97.9h1.3v1.3h-1.3zM234.2 98.2h1.3v1.3h-1.3zM234.7 98.0h1.3v1.3h-1.3zM236.3 97.7h1.3v1.3h-1.3zM237.0 98.1h1.3v1.3h-1.3zM238.3 98.0h1.3v1.3h-1.3zM238.7 98.1h1.3v1.3h-1.3zM240.0 97.9h1.3v1.3h-1.3zM241.2 98.1h1.3v1.3h-1.3zM241.8 98.1h1.3v1.3h-1.3zM242.9 98.3h1.3v1.3h-1.3zM244.0 97.8h1.3v1.3h-1.3zM245.0 98.2h1.3v1.3h-1.3zM245.9 97.7h1.3v1.3h-1.3zM247.0 98.3h1.3v1.3h-1.3zM247.8 97.9h1.3v1.3h-1.3zM249.1 97.7h1.3v1.3h-1.3zM250.3 97.9h1.3v1.3h-1.3zM250.8 98.2h1.3v1.3h-1.3zM252.1 98.0h1.3v1.3h-1.3zM253.2 98.1h1.3v1.3h-1.3zM254.3 98.1h1.3v1.3h-1.3zM255.0 98.2h1.3v1.3h-1.3zM255.9 98.2h1.3v1.3h-1.3zM257.1 98.2h1.3v1.3h-1.3zM259.2 97.8h1.3v1.3h-1.3zM261.9 97.7h1.3v1.3h-1.3zM262.9 97.7h1.3v1.3h-1.3zM267.7 98.1h1.3v1.3h-1.3zM270.3 97.8h1.3v1.3h-1.3zM271.8 97.9h1.3v1.3h-1.3zM219.8 99.2h1.3v1.3h-1.3zM221.9 98.7h1.3v1.3h-1.3zM223.0 99.1h1.3v1.3h-1.3zM224.8 99.1h1.3v1.3h-1.3zM226.1 99.1h1.3v1.3h-1.3zM228.9 99.2h1.3v1.3h-1.3zM230.3 98.9h1.3v1.3h-1.3zM231.0 98.8h1.3v1.3h-1.3zM232.3 99.0h1.3v1.3h-1.3zM232.7 98.8h1.3v1.3h-1.3zM233.7 98.9h1.3v1.3h-1.3zM235.0 99.0h1.3v1.3h-1.3zM235.8 98.8h1.3v1.3h-1.3zM237.1 98.9h1.3v1.3h-1.3zM238.2 98.7h1.3v1.3h-1.3zM238.9 98.8h1.3v1.3h-1.3zM239.7 98.8h1.3v1.3h-1.3zM241.1 99.3h1.3v1.3h-1.3zM242.0 98.9h1.3v1.3h-1.3zM242.8 98.9h1.3v1.3h-1.3zM244.0 99.2h1.3v1.3h-1.3zM244.9 98.9h1.3v1.3h-1.3zM245.9 98.8h1.3v1.3h-1.3zM247.1 99.2h1.3v1.3h-1.3zM248.3 99.2h1.3v1.3h-1.3zM248.9 99.0h1.3v1.3h-1.3zM250.3 98.8h1.3v1.3h-1.3zM251.1 99.1h1.3v1.3h-1.3zM251.9 99.1h1.3v1.3h-1.3zM253.0 98.8h1.3v1.3h-1.3zM253.7 98.8h1.3v1.3h-1.3zM254.9 98.8h1.3v1.3h-1.3zM257.2 98.9h1.3v1.3h-1.3zM258.0 98.9h1.3v1.3h-1.3zM259.1 99.1h1.3v1.3h-1.3zM261.2 98.9h1.3v1.3h-1.3zM263.1 98.8h1.3v1.3h-1.3zM263.7 98.8h1.3v1.3h-1.3zM265.2 98.8h1.3v1.3h-1.3zM269.9 99.1h1.3v1.3h-1.3zM271.0 98.8h1.3v1.3h-1.3zM273.2 99.2h1.3v1.3h-1.3zM220.1 99.9h1.3v1.3h-1.3zM220.7 100.1h1.3v1.3h-1.3zM223.3 100.0h1.3v1.3h-1.3zM225.1 100.3h1.3v1.3h-1.3zM225.9 99.8h1.3v1.3h-1.3zM227.7 99.9h1.3v1.3h-1.3zM230.0 99.9h1.3v1.3h-1.3zM231.2 100.1h1.3v1.3h-1.3zM231.8 100.0h1.3v1.3h-1.3zM233.1 100.3h1.3v1.3h-1.3zM234.1 100.3h1.3v1.3h-1.3zM234.9 100.2h1.3v1.3h-1.3zM236.3 99.8h1.3v1.3h-1.3zM236.8 100.1h1.3v1.3h-1.3zM238.0 100.1h1.3v1.3h-1.3zM239.2 99.8h1.3v1.3h-1.3zM240.0 99.9h1.3v1.3h-1.3zM240.9 100.2h1.3v1.3h-1.3zM241.8 100.1h1.3v1.3h-1.3zM242.7 99.8h1.3v1.3h-1.3zM243.9 100.0h1.3v1.3h-1.3zM245.3 99.8h1.3v1.3h-1.3zM246.2 99.9h1.3v1.3h-1.3zM247.2 100.0h1.3v1.3h-1.3zM248.1 100.2h1.3v1.3h-1.3zM249.0 100.0h1.3v1.3h-1.3zM249.9 100.2h1.3v1.3h-1.3zM251.3 100.1h1.3v1.3h-1.3zM251.9 100.0h1.3v1.3h-1.3zM252.8 100.0h1.3v1.3h-1.3zM254.2 99.9h1.3v1.3h-1.3zM255.2 100.0h1.3v1.3h-1.3zM255.8 100.0h1.3v1.3h-1.3zM258.3 100.0h1.3v1.3h-1.3zM263.3 99.9h1.3v1.3h-1.3zM264.8 100.0h1.3v1.3h-1.3zM267.3 100.1h1.3v1.3h-1.3zM269.0 99.8h1.3v1.3h-1.3zM270.8 99.7h1.3v1.3h-1.3zM273.2 100.1h1.3v1.3h-1.3zM219.1 101.1h1.3v1.3h-1.3zM220.2 100.8h1.3v1.3h-1.3zM222.1 101.0h1.3v1.3h-1.3zM223.1 101.1h1.3v1.3h-1.3zM224.1 100.8h1.3v1.3h-1.3zM225.3 101.2h1.3v1.3h-1.3zM225.8 100.8h1.3v1.3h-1.3zM227.7 101.0h1.3v1.3h-1.3zM229.0 101.0h1.3v1.3h-1.3zM230.0 100.9h1.3v1.3h-1.3zM230.9 101.2h1.3v1.3h-1.3zM232.0 101.0h1.3v1.3h-1.3zM232.7 100.8h1.3v1.3h-1.3zM234.2 101.0h1.3v1.3h-1.3zM234.8 100.8h1.3v1.3h-1.3zM235.8 101.1h1.3v1.3h-1.3zM236.9 101.0h1.3v1.3h-1.3zM238.1 100.9h1.3v1.3h-1.3zM239.1 101.0h1.3v1.3h-1.3zM240.0 100.8h1.3v1.3h-1.3zM241.0 100.7h1.3v1.3h-1.3zM241.7 100.7h1.3v1.3h-1.3zM243.0 100.8h1.3v1.3h-1.3zM243.7 101.2h1.3v1.3h-1.3zM245.3 100.8h1.3v1.3h-1.3zM245.9 100.8h1.3v1.3h-1.3zM247.0 101.0h1.3v1.3h-1.3zM248.0 101.1h1.3v1.3h-1.3zM249.3 101.2h1.3v1.3h-1.3zM250.1 100.9h1.3v1.3h-1.3zM250.9 101.2h1.3v1.3h-1.3zM252.3 101.0h1.3v1.3h-1.3zM253.0 101.2h1.3v1.3h-1.3zM253.9 101.1h1.3v1.3h-1.3zM255.2 101.0h1.3v1.3h-1.3zM256.2 101.1h1.3v1.3h-1.3zM257.9 101.2h1.3v1.3h-1.3zM259.0 101.0h1.3v1.3h-1.3zM259.7 101.3h1.3v1.3h-1.3zM266.0 100.7h1.3v1.3h-1.3zM268.0 101.1h1.3v1.3h-1.3zM269.0 101.3h1.3v1.3h-1.3zM271.7 100.8h1.3v1.3h-1.3zM219.2 102.0h1.3v1.3h-1.3zM220.2 102.1h1.3v1.3h-1.3zM222.0 101.9h1.3v1.3h-1.3zM222.8 101.7h1.3v1.3h-1.3zM223.8 102.0h1.3v1.3h-1.3zM225.2 102.1h1.3v1.3h-1.3zM225.8 101.9h1.3v1.3h-1.3zM228.1 102.0h1.3v1.3h-1.3zM229.1 102.1h1.3v1.3h-1.3zM229.9 102.2h1.3v1.3h-1.3zM231.1 101.8h1.3v1.3h-1.3zM232.2 101.8h1.3v1.3h-1.3zM232.7 102.1h1.3v1.3h-1.3zM234.3 102.0h1.3v1.3h-1.3zM235.1 101.8h1.3v1.3h-1.3zM236.3 102.0h1.3v1.3h-1.3zM237.1 101.8h1.3v1.3h-1.3zM237.8 102.1h1.3v1.3h-1.3zM238.8 102.1h1.3v1.3h-1.3zM240.3 102.2h1.3v1.3h-1.3zM241.2 102.3h1.3v1.3h-1.3zM241.8 101.8h1.3v1.3h-1.3zM242.8 101.9h1.3v1.3h-1.3zM243.9 102.0h1.3v1.3h-1.3zM244.8 101.8h1.3v1.3h-1.3zM246.0 102.0h1.3v1.3h-1.3zM247.0 102.3h1.3v1.3h-1.3zM248.3 102.2h1.3v1.3h-1.3zM249.0 101.8h1.3v1.3h-1.3zM250.0 102.1h1.3v1.3h-1.3zM251.2 102.2h1.3v1.3h-1.3zM252.0 102.1h1.3v1.3h-1.3zM253.2 101.8h1.3v1.3h-1.3zM254.2 102.2h1.3v1.3h-1.3zM254.9 102.1h1.3v1.3h-1.3zM256.9 102.2h1.3v1.3h-1.3zM258.2 101.8h1.3v1.3h-1.3zM260.0 102.2h1.3v1.3h-1.3zM260.9 102.2h1.3v1.3h-1.3zM262.2 101.8h1.3v1.3h-1.3zM263.7 101.9h1.3v1.3h-1.3zM268.9 102.2h1.3v1.3h-1.3zM270.9 101.8h1.3v1.3h-1.3zM272.1 102.1h1.3v1.3h-1.3zM219.0 103.2h1.3v1.3h-1.3zM219.9 103.2h1.3v1.3h-1.3zM220.9 102.9h1.3v1.3h-1.3zM222.1 102.8h1.3v1.3h-1.3zM223.3 103.1h1.3v1.3h-1.3zM223.9 103.1h1.3v1.3h-1.3zM224.7 102.9h1.3v1.3h-1.3zM226.0 103.3h1.3v1.3h-1.3zM227.0 102.8h1.3v1.3h-1.3zM229.1 103.0h1.3v1.3h-1.3zM230.0 102.9h1.3v1.3h-1.3zM230.9 103.1h1.3v1.3h-1.3zM231.8 102.8h1.3v1.3h-1.3zM232.8 102.9h1.3v1.3h-1.3zM233.8 102.9h1.3v1.3h-1.3zM234.7 103.1h1.3v1.3h-1.3zM236.1 102.8h1.3v1.3h-1.3zM237.1 103.0h1.3v1.3h-1.3zM238.2 102.8h1.3v1.3h-1.3zM239.3 103.1h1.3v1.3h-1.3zM239.9 103.1h1.3v1.3h-1.3zM240.9 103.0h1.3v1.3h-1.3zM242.1 102.8h1.3v1.3h-1.3zM243.2 103.1h1.3v1.3h-1.3zM244.0 102.8h1.3v1.3h-1.3zM245.2 102.9h1.3v1.3h-1.3zM246.1 103.3h1.3v1.3h-1.3zM247.0 103.1h1.3v1.3h-1.3zM248.1 103.1h1.3v1.3h-1.3zM248.9 102.8h1.3v1.3h-1.3zM250.0 103.0h1.3v1.3h-1.3zM251.2 102.8h1.3v1.3h-1.3zM251.9 103.2h1.3v1.3h-1.3zM253.3 102.7h1.3v1.3h-1.3zM254.1 102.9h1.3v1.3h-1.3zM255.0 102.8h1.3v1.3h-1.3zM256.9 102.8h1.3v1.3h-1.3zM257.8 102.7h1.3v1.3h-1.3zM260.9 102.8h1.3v1.3h-1.3zM264.8 103.1h1.3v1.3h-1.3zM266.0 103.2h1.3v1.3h-1.3zM266.8 103.1h1.3v1.3h-1.3zM267.8 102.9h1.3v1.3h-1.3zM269.9 103.1h1.3v1.3h-1.3zM219.2 104.3h1.3v1.3h-1.3zM219.9 104.0h1.3v1.3h-1.3zM220.9 104.2h1.3v1.3h-1.3zM221.9 104.1h1.3v1.3h-1.3zM223.8 103.8h1.3v1.3h-1.3zM224.8 104.1h1.3v1.3h-1.3zM225.7 103.9h1.3v1.3h-1.3zM227.1 103.9h1.3v1.3h-1.3zM228.0 103.8h1.3v1.3h-1.3zM229.0 104.2h1.3v1.3h-1.3zM230.0 103.7h1.3v1.3h-1.3zM230.9 104.2h1.3v1.3h-1.3zM232.1 103.7h1.3v1.3h-1.3zM233.1 103.8h1.3v1.3h-1.3zM233.8 104.0h1.3v1.3h-1.3zM235.2 104.1h1.3v1.3h-1.3zM235.9 103.9h1.3v1.3h-1.3zM236.8 104.0h1.3v1.3h-1.3zM237.7 104.3h1.3v1.3h-1.3zM239.3 104.1h1.3v1.3h-1.3zM240.0 104.2h1.3v1.3h-1.3zM240.9 103.9h1.3v1.3h-1.3zM241.8 104.0h1.3v1.3h-1.3zM242.8 104.1h1.3v1.3h-1.3zM243.8 103.9h1.3v1.3h-1.3zM245.0 104.3h1.3v1.3h-1.3zM246.1 104.1h1.3v1.3h-1.3zM247.1 104.3h1.3v1.3h-1.3zM247.8 104.0h1.3v1.3h-1.3zM248.7 104.1h1.3v1.3h-1.3zM250.0 104.0h1.3v1.3h-1.3zM251.3 103.7h1.3v1.3h-1.3zM252.1 104.3h1.3v1.3h-1.3zM253.0 103.8h1.3v1.3h-1.3zM253.8 104.2h1.3v1.3h-1.3zM255.3 104.0h1.3v1.3h-1.3zM256.3 103.7h1.3v1.3h-1.3zM256.8 104.1h1.3v1.3h-1.3zM258.9 103.9h1.3v1.3h-1.3zM262.1 103.9h1.3v1.3h-1.3zM263.2 104.2h1.3v1.3h-1.3zM264.0 103.8h1.3v1.3h-1.3zM265.2 103.8h1.3v1.3h-1.3zM268.2 104.1h1.3v1.3h-1.3zM269.2 104.0h1.3v1.3h-1.3zM270.3 104.0h1.3v1.3h-1.3zM270.9 104.2h1.3v1.3h-1.3zM272.3 103.9h1.3v1.3h-1.3zM218.9 105.1h1.3v1.3h-1.3zM220.3 104.8h1.3v1.3h-1.3zM221.0 104.9h1.3v1.3h-1.3zM222.3 105.3h1.3v1.3h-1.3zM223.3 104.8h1.3v1.3h-1.3zM224.2 105.2h1.3v1.3h-1.3zM225.3 105.1h1.3v1.3h-1.3zM225.8 104.8h1.3v1.3h-1.3zM227.1 105.0h1.3v1.3h-1.3zM227.7 105.1h1.3v1.3h-1.3zM228.9 105.0h1.3v1.3h-1.3zM230.0 105.0h1.3v1.3h-1.3zM231.0 105.1h1.3v1.3h-1.3zM231.9 105.3h1.3v1.3h-1.3zM233.1 104.9h1.3v1.3h-1.3zM234.3 104.9h1.3v1.3h-1.3zM235.3 105.0h1.3v1.3h-1.3zM235.9 105.0h1.3v1.3h-1.3zM236.9 105.1h1.3v1.3h-1.3zM237.9 105.1h1.3v1.3h-1.3zM239.1 104.9h1.3v1.3h-1.3zM240.1 105.1h1.3v1.3h-1.3zM241.0 104.8h1.3v1.3h-1.3zM242.1 105.0h1.3v1.3h-1.3zM243.0 105.3h1.3v1.3h-1.3zM244.1 104.8h1.3v1.3h-1.3zM245.1 104.9h1.3v1.3h-1.3zM245.7 105.0h1.3v1.3h-1.3zM247.0 104.8h1.3v1.3h-1.3zM248.1 104.8h1.3v1.3h-1.3zM249.3 105.2h1.3v1.3h-1.3zM249.7 105.0h1.3v1.3h-1.3zM250.8 105.0h1.3v1.3h-1.3zM252.0 105.2h1.3v1.3h-1.3zM253.2 104.9h1.3v1.3h-1.3zM254.2 105.3h1.3v1.3h-1.3zM254.7 104.8h1.3v1.3h-1.3zM255.9 104.9h1.3v1.3h-1.3zM257.3 104.7h1.3v1.3h-1.3zM261.0 104.9h1.3v1.3h-1.3zM263.1 105.1h1.3v1.3h-1.3zM264.2 104.7h1.3v1.3h-1.3zM265.0 104.8h1.3v1.3h-1.3zM266.1 105.2h1.3v1.3h-1.3zM267.1 104.7h1.3v1.3h-1.3zM267.9 105.0h1.3v1.3h-1.3zM268.9 105.1h1.3v1.3h-1.3zM271.2 105.2h1.3v1.3h-1.3zM272.0 104.9h1.3v1.3h-1.3zM218.9 106.1h1.3v1.3h-1.3zM219.8 106.3h1.3v1.3h-1.3zM221.0 105.8h1.3v1.3h-1.3zM221.9 106.2h1.3v1.3h-1.3zM222.7 106.1h1.3v1.3h-1.3zM223.9 106.1h1.3v1.3h-1.3zM224.8 105.8h1.3v1.3h-1.3zM226.1 106.2h1.3v1.3h-1.3zM227.1 106.2h1.3v1.3h-1.3zM228.2 106.3h1.3v1.3h-1.3zM229.0 106.0h1.3v1.3h-1.3zM230.0 106.0h1.3v1.3h-1.3zM230.9 105.7h1.3v1.3h-1.3zM232.1 106.2h1.3v1.3h-1.3zM233.1 106.0h1.3v1.3h-1.3zM234.0 106.1h1.3v1.3h-1.3zM235.2 105.8h1.3v1.3h-1.3zM236.0 105.9h1.3v1.3h-1.3zM236.9 106.0h1.3v1.3h-1.3zM238.3 105.8h1.3v1.3h-1.3zM238.9 106.2h1.3v1.3h-1.3zM240.0 105.8h1.3v1.3h-1.3zM241.1 106.2h1.3v1.3h-1.3zM241.9 105.8h1.3v1.3h-1.3zM242.8 106.3h1.3v1.3h-1.3zM244.1 105.9h1.3v1.3h-1.3zM245.1 106.1h1.3v1.3h-1.3zM245.9 106.2h1.3v1.3h-1.3zM246.8 106.0h1.3v1.3h-1.3zM247.9 106.2h1.3v1.3h-1.3zM249.0 105.8h1.3v1.3h-1.3zM250.1 106.1h1.3v1.3h-1.3zM250.7 106.0h1.3v1.3h-1.3zM252.1 106.2h1.3v1.3h-1.3zM252.8 106.3h1.3v1.3h-1.3zM254.2 105.9h1.3v1.3h-1.3zM257.2 106.0h1.3v1.3h-1.3zM258.2 106.1h1.3v1.3h-1.3zM260.0 105.9h1.3v1.3h-1.3zM263.0 106.1h1.3v1.3h-1.3zM263.8 105.8h1.3v1.3h-1.3zM267.0 106.0h1.3v1.3h-1.3zM268.2 106.3h1.3v1.3h-1.3zM269.2 106.1h1.3v1.3h-1.3zM269.9 106.2h1.3v1.3h-1.3zM270.7 106.0h1.3v1.3h-1.3zM272.2 105.8h1.3v1.3h-1.3zM272.8 106.1h1.3v1.3h-1.3zM218.9 106.9h1.3v1.3h-1.3zM219.7 106.9h1.3v1.3h-1.3zM220.9 106.9h1.3v1.3h-1.3zM221.9 106.9h1.3v1.3h-1.3zM222.9 106.7h1.3v1.3h-1.3zM224.2 107.1h1.3v1.3h-1.3zM225.2 106.9h1.3v1.3h-1.3zM225.8 107.2h1.3v1.3h-1.3zM226.9 107.1h1.3v1.3h-1.3zM227.8 107.3h1.3v1.3h-1.3zM228.9 107.0h1.3v1.3h-1.3zM230.3 107.0h1.3v1.3h-1.3zM230.8 107.3h1.3v1.3h-1.3zM231.9 107.1h1.3v1.3h-1.3zM232.8 107.1h1.3v1.3h-1.3zM233.9 106.9h1.3v1.3h-1.3zM234.9 106.8h1.3v1.3h-1.3zM236.0 107.0h1.3v1.3h-1.3zM237.3 106.8h1.3v1.3h-1.3zM238.2 107.0h1.3v1.3h-1.3zM239.0 106.7h1.3v1.3h-1.3zM240.1 106.7h1.3v1.3h-1.3zM241.1 107.2h1.3v1.3h-1.3zM241.8 107.1h1.3v1.3h-1.3zM243.1 107.0h1.3v1.3h-1.3zM244.2 107.1h1.3v1.3h-1.3zM245.0 107.2h1.3v1.3h-1.3zM245.9 107.3h1.3v1.3h-1.3zM247.0 107.1h1.3v1.3h-1.3zM247.7 106.9h1.3v1.3h-1.3zM248.9 106.8h1.3v1.3h-1.3zM250.1 107.2h1.3v1.3h-1.3zM251.1 107.0h1.3v1.3h-1.3zM252.3 107.1h1.3v1.3h-1.3zM253.3 106.7h1.3v1.3h-1.3zM253.9 106.8h1.3v1.3h-1.3zM254.8 107.0h1.3v1.3h-1.3zM255.8 107.1h1.3v1.3h-1.3zM258.9 106.9h1.3v1.3h-1.3zM262.1 106.8h1.3v1.3h-1.3zM266.1 107.1h1.3v1.3h-1.3zM267.2 106.8h1.3v1.3h-1.3zM267.7 106.8h1.3v1.3h-1.3zM269.3 106.8h1.3v1.3h-1.3zM270.9 106.8h1.3v1.3h-1.3zM271.8 107.2h1.3v1.3h-1.3zM219.1 107.9h1.3v1.3h-1.3zM219.9 108.1h1.3v1.3h-1.3zM221.1 107.9h1.3v1.3h-1.3zM222.0 108.2h1.3v1.3h-1.3zM222.9 108.2h1.3v1.3h-1.3zM224.2 108.0h1.3v1.3h-1.3zM225.2 107.9h1.3v1.3h-1.3zM226.2 108.2h1.3v1.3h-1.3zM227.2 108.0h1.3v1.3h-1.3zM228.2 108.1h1.3v1.3h-1.3zM229.1 108.2h1.3v1.3h-1.3zM230.0 108.3h1.3v1.3h-1.3zM230.9 107.9h1.3v1.3h-1.3zM231.9 107.8h1.3v1.3h-1.3zM233.3 107.8h1.3v1.3h-1.3zM234.3 108.1h1.3v1.3h-1.3zM234.8 108.1h1.3v1.3h-1.3zM236.3 108.2h1.3v1.3h-1.3zM236.9 108.3h1.3v1.3h-1.3zM237.9 108.1h1.3v1.3h-1.3zM238.7 108.2h1.3v1.3h-1.3zM240.1 108.1h1.3v1.3h-1.3zM240.7 108.0h1.3v1.3h-1.3zM242.0 107.9h1.3v1.3h-1.3zM242.8 107.9h1.3v1.3h-1.3zM243.8 107.7h1.3v1.3h-1.3zM244.7 108.1h1.3v1.3h-1.3zM245.9 108.0h1.3v1.3h-1.3zM246.7 107.9h1.3v1.3h-1.3zM248.0 107.8h1.3v1.3h-1.3zM249.0 107.8h1.3v1.3h-1.3zM250.0 107.8h1.3v1.3h-1.3zM251.1 108.1h1.3v1.3h-1.3zM251.9 107.8h1.3v1.3h-1.3zM252.8 108.3h1.3v1.3h-1.3zM253.9 107.8h1.3v1.3h-1.3zM259.2 108.2h1.3v1.3h-1.3zM259.8 108.3h1.3v1.3h-1.3zM261.2 108.3h1.3v1.3h-1.3zM265.1 107.8h1.3v1.3h-1.3zM268.2 108.2h1.3v1.3h-1.3zM269.8 107.9h1.3v1.3h-1.3zM270.8 108.1h1.3v1.3h-1.3zM272.7 107.9h1.3v1.3h-1.3zM274.1 108.0h1.3v1.3h-1.3zM218.8 108.9h1.3v1.3h-1.3zM220.0 109.0h1.3v1.3h-1.3zM221.2 108.8h1.3v1.3h-1.3zM221.9 109.2h1.3v1.3h-1.3zM223.2 108.8h1.3v1.3h-1.3zM223.7 108.9h1.3v1.3h-1.3zM225.0 109.0h1.3v1.3h-1.3zM226.1 109.2h1.3v1.3h-1.3zM226.7 109.2h1.3v1.3h-1.3zM228.2 109.0h1.3v1.3h-1.3zM229.0 109.2h1.3v1.3h-1.3zM229.8 108.9h1.3v1.3h-1.3zM230.8 108.8h1.3v1.3h-1.3zM231.8 109.2h1.3v1.3h-1.3zM232.8 109.1h1.3v1.3h-1.3zM233.7 109.3h1.3v1.3h-1.3zM235.2 108.9h1.3v1.3h-1.3zM235.8 108.9h1.3v1.3h-1.3zM236.9 108.7h1.3v1.3h-1.3zM238.3 109.0h1.3v1.3h-1.3zM239.0 108.7h1.3v1.3h-1.3zM240.2 109.2h1.3v1.3h-1.3zM241.3 108.7h1.3v1.3h-1.3zM241.8 108.7h1.3v1.3h-1.3zM242.8 108.8h1.3v1.3h-1.3zM243.8 108.7h1.3v1.3h-1.3zM245.0 109.0h1.3v1.3h-1.3zM245.9 108.9h1.3v1.3h-1.3zM247.1 108.8h1.3v1.3h-1.3zM248.2 109.0h1.3v1.3h-1.3zM248.9 108.7h1.3v1.3h-1.3zM250.1 108.7h1.3v1.3h-1.3zM251.3 109.0h1.3v1.3h-1.3zM252.1 109.1h1.3v1.3h-1.3zM252.9 108.9h1.3v1.3h-1.3zM254.0 108.7h1.3v1.3h-1.3zM255.0 108.9h1.3v1.3h-1.3zM255.9 109.0h1.3v1.3h-1.3zM258.7 109.2h1.3v1.3h-1.3zM260.3 109.1h1.3v1.3h-1.3zM261.8 109.2h1.3v1.3h-1.3zM263.9 108.8h1.3v1.3h-1.3zM265.1 108.9h1.3v1.3h-1.3zM265.8 109.3h1.3v1.3h-1.3zM266.8 108.9h1.3v1.3h-1.3zM271.1 109.1h1.3v1.3h-1.3zM273.8 108.8h1.3v1.3h-1.3zM218.9 109.7h1.3v1.3h-1.3zM219.9 109.9h1.3v1.3h-1.3zM220.9 110.1h1.3v1.3h-1.3zM221.9 109.7h1.3v1.3h-1.3zM222.9 110.0h1.3v1.3h-1.3zM224.3 110.2h1.3v1.3h-1.3zM225.1 110.1h1.3v1.3h-1.3zM226.0 109.9h1.3v1.3h-1.3zM227.0 110.3h1.3v1.3h-1.3zM227.8 110.0h1.3v1.3h-1.3zM228.8 110.1h1.3v1.3h-1.3zM229.8 110.2h1.3v1.3h-1.3zM231.0 110.1h1.3v1.3h-1.3zM231.9 109.8h1.3v1.3h-1.3zM233.2 109.8h1.3v1.3h-1.3zM233.8 110.0h1.3v1.3h-1.3zM235.0 109.8h1.3v1.3h-1.3zM236.0 109.8h1.3v1.3h-1.3zM237.0 110.2h1.3v1.3h-1.3zM237.8 109.9h1.3v1.3h-1.3zM238.8 110.1h1.3v1.3h-1.3zM240.2 110.1h1.3v1.3h-1.3zM241.0 109.8h1.3v1.3h-1.3zM242.3 110.3h1.3v1.3h-1.3zM242.8 110.0h1.3v1.3h-1.3zM243.7 110.0h1.3v1.3h-1.3zM245.0 109.9h1.3v1.3h-1.3zM246.3 110.1h1.3v1.3h-1.3zM247.2 110.2h1.3v1.3h-1.3zM248.1 110.0h1.3v1.3h-1.3zM249.1 110.3h1.3v1.3h-1.3zM250.1 110.0h1.3v1.3h-1.3zM251.2 110.0h1.3v1.3h-1.3zM252.0 110.2h1.3v1.3h-1.3zM253.0 110.1h1.3v1.3h-1.3zM253.9 110.2h1.3v1.3h-1.3zM256.0 109.7h1.3v1.3h-1.3zM256.8 109.8h1.3v1.3h-1.3zM260.2 109.8h1.3v1.3h-1.3zM262.1 109.9h1.3v1.3h-1.3zM264.0 109.8h1.3v1.3h-1.3zM265.0 109.8h1.3v1.3h-1.3zM265.8 110.2h1.3v1.3h-1.3zM267.1 109.8h1.3v1.3h-1.3zM268.1 109.9h1.3v1.3h-1.3zM269.2 110.0h1.3v1.3h-1.3zM271.2 110.2h1.3v1.3h-1.3zM271.9 109.7h1.3v1.3h-1.3zM274.2 109.9h1.3v1.3h-1.3zM219.0 110.8h1.3v1.3h-1.3zM220.2 110.8h1.3v1.3h-1.3zM220.8 111.3h1.3v1.3h-1.3zM222.3 111.2h1.3v1.3h-1.3zM223.0 111.1h1.3v1.3h-1.3zM224.1 111.0h1.3v1.3h-1.3zM225.0 111.2h1.3v1.3h-1.3zM226.3 110.7h1.3v1.3h-1.3zM226.9 111.0h1.3v1.3h-1.3zM228.0 110.9h1.3v1.3h-1.3zM229.1 111.1h1.3v1.3h-1.3zM230.0 110.8h1.3v1.3h-1.3zM231.0 111.1h1.3v1.3h-1.3zM232.0 111.0h1.3v1.3h-1.3zM232.8 111.2h1.3v1.3h-1.3zM234.0 110.9h1.3v1.3h-1.3zM234.9 110.7h1.3v1.3h-1.3zM235.7 111.0h1.3v1.3h-1.3zM236.9 110.8h1.3v1.3h-1.3zM237.7 111.1h1.3v1.3h-1.3zM238.9 110.7h1.3v1.3h-1.3zM240.1 110.9h1.3v1.3h-1.3zM241.1 110.9h1.3v1.3h-1.3zM242.0 111.2h1.3v1.3h-1.3zM243.1 110.9h1.3v1.3h-1.3zM244.1 111.0h1.3v1.3h-1.3zM245.2 110.9h1.3v1.3h-1.3zM246.3 110.8h1.3v1.3h-1.3zM247.1 111.2h1.3v1.3h-1.3zM248.3 111.3h1.3v1.3h-1.3zM249.0 111.2h1.3v1.3h-1.3zM249.8 110.9h1.3v1.3h-1.3zM251.1 110.7h1.3v1.3h-1.3zM252.2 110.8h1.3v1.3h-1.3zM252.9 110.9h1.3v1.3h-1.3zM254.0 110.7h1.3v1.3h-1.3zM255.2 111.1h1.3v1.3h-1.3zM255.8 111.1h1.3v1.3h-1.3zM259.2 110.8h1.3v1.3h-1.3zM261.1 110.7h1.3v1.3h-1.3zM263.8 111.0h1.3v1.3h-1.3zM265.1 111.1h1.3v1.3h-1.3zM266.0 111.3h1.3v1.3h-1.3zM270.3 111.0h1.3v1.3h-1.3zM271.2 111.0h1.3v1.3h-1.3zM271.8 110.7h1.3v1.3h-1.3zM272.7 110.9h1.3v1.3h-1.3zM274.2 111.3h1.3v1.3h-1.3zM218.9 112.1h1.3v1.3h-1.3zM219.8 111.7h1.3v1.3h-1.3zM221.0 111.7h1.3v1.3h-1.3zM221.8 112.1h1.3v1.3h-1.3zM223.2 111.8h1.3v1.3h-1.3zM223.7 111.7h1.3v1.3h-1.3zM225.2 111.8h1.3v1.3h-1.3zM226.2 112.0h1.3v1.3h-1.3zM227.2 112.1h1.3v1.3h-1.3zM227.7 111.8h1.3v1.3h-1.3zM229.0 111.9h1.3v1.3h-1.3zM230.0 112.2h1.3v1.3h-1.3zM231.0 112.0h1.3v1.3h-1.3zM231.9 111.9h1.3v1.3h-1.3zM233.1 112.2h1.3v1.3h-1.3zM233.7 112.1h1.3v1.3h-1.3zM235.2 112.0h1.3v1.3h-1.3zM235.8 112.1h1.3v1.3h-1.3zM236.9 111.7h1.3v1.3h-1.3zM238.0 111.7h1.3v1.3h-1.3zM239.0 112.0h1.3v1.3h-1.3zM240.1 112.0h1.3v1.3h-1.3zM241.0 111.8h1.3v1.3h-1.3zM241.9 111.9h1.3v1.3h-1.3zM243.1 111.9h1.3v1.3h-1.3zM243.9 111.7h1.3v1.3h-1.3zM245.3 112.0h1.3v1.3h-1.3zM245.8 112.1h1.3v1.3h-1.3zM247.2 112.1h1.3v1.3h-1.3zM248.1 112.2h1.3v1.3h-1.3zM249.1 111.7h1.3v1.3h-1.3zM250.1 111.9h1.3v1.3h-1.3zM251.2 112.1h1.3v1.3h-1.3zM252.2 111.9h1.3v1.3h-1.3zM252.7 112.2h1.3v1.3h-1.3zM254.3 112.1h1.3v1.3h-1.3zM255.2 112.3h1.3v1.3h-1.3zM255.9 111.9h1.3v1.3h-1.3zM257.9 112.0h1.3v1.3h-1.3zM265.2 112.3h1.3v1.3h-1.3zM265.7 111.8h1.3v1.3h-1.3zM267.2 112.3h1.3v1.3h-1.3zM267.9 111.7h1.3v1.3h-1.3zM268.9 111.9h1.3v1.3h-1.3zM270.1 111.8h1.3v1.3h-1.3zM271.7 112.2h1.3v1.3h-1.3zM273.2 112.3h1.3v1.3h-1.3zM219.0 113.3h1.3v1.3h-1.3zM220.0 113.1h1.3v1.3h-1.3zM220.7 113.1h1.3v1.3h-1.3zM222.2 112.9h1.3v1.3h-1.3zM222.8 112.8h1.3v1.3h-1.3zM223.7 113.1h1.3v1.3h-1.3zM225.3 112.7h1.3v1.3h-1.3zM225.9 112.9h1.3v1.3h-1.3zM227.1 113.2h1.3v1.3h-1.3zM228.2 112.7h1.3v1.3h-1.3zM229.0 113.2h1.3v1.3h-1.3zM229.9 112.9h1.3v1.3h-1.3zM231.1 113.1h1.3v1.3h-1.3zM231.9 112.9h1.3v1.3h-1.3zM232.7 113.1h1.3v1.3h-1.3zM234.2 113.1h1.3v1.3h-1.3zM235.1 113.2h1.3v1.3h-1.3zM236.1 113.3h1.3v1.3h-1.3zM236.9 112.9h1.3v1.3h-1.3zM238.3 113.3h1.3v1.3h-1.3zM239.0 113.2h1.3v1.3h-1.3zM240.2 113.2h1.3v1.3h-1.3zM241.3 112.9h1.3v1.3h-1.3zM242.2 113.2h1.3v1.3h-1.3zM243.2 113.2h1.3v1.3h-1.3zM244.1 113.3h1.3v1.3h-1.3zM245.0 113.3h1.3v1.3h-1.3zM246.1 113.2h1.3v1.3h-1.3zM247.0 113.0h1.3v1.3h-1.3zM247.8 112.8h1.3v1.3h-1.3zM248.9 112.8h1.3v1.3h-1.3zM250.0 113.1h1.3v1.3h-1.3zM251.2 112.9h1.3v1.3h-1.3zM252.2 113.1h1.3v1.3h-1.3zM253.2 113.0h1.3v1.3h-1.3zM254.0 113.3h1.3v1.3h-1.3zM254.8 113.2h1.3v1.3h-1.3zM257.2 113.2h1.3v1.3h-1.3zM257.8 113.2h1.3v1.3h-1.3zM261.7 113.2h1.3v1.3h-1.3zM263.1 113.2h1.3v1.3h-1.3zM265.0 113.1h1.3v1.3h-1.3zM265.9 113.2h1.3v1.3h-1.3zM270.1 113.2h1.3v1.3h-1.3zM271.8 112.9h1.3v1.3h-1.3zM272.8 113.0h1.3v1.3h-1.3zM219.3 114.3h1.3v1.3h-1.3zM220.1 113.8h1.3v1.3h-1.3zM221.2 113.8h1.3v1.3h-1.3zM222.3 113.8h1.3v1.3h-1.3zM223.0 114.2h1.3v1.3h-1.3zM224.3 114.1h1.3v1.3h-1.3zM225.2 113.8h1.3v1.3h-1.3zM225.8 113.9h1.3v1.3h-1.3zM226.9 114.1h1.3v1.3h-1.3zM228.2 114.2h1.3v1.3h-1.3zM228.8 113.9h1.3v1.3h-1.3zM230.0 113.8h1.3v1.3h-1.3zM231.1 114.1h1.3v1.3h-1.3zM232.2 114.0h1.3v1.3h-1.3zM232.7 113.9h1.3v1.3h-1.3zM234.1 114.2h1.3v1.3h-1.3zM235.1 114.0h1.3v1.3h-1.3zM235.9 114.1h1.3v1.3h-1.3zM237.1 114.3h1.3v1.3h-1.3zM238.0 113.9h1.3v1.3h-1.3zM239.3 113.8h1.3v1.3h-1.3zM240.1 113.9h1.3v1.3h-1.3zM240.7 113.9h1.3v1.3h-1.3zM242.2 114.1h1.3v1.3h-1.3zM242.9 114.2h1.3v1.3h-1.3zM244.0 114.2h1.3v1.3h-1.3zM244.9 113.8h1.3v1.3h-1.3zM245.7 114.3h1.3v1.3h-1.3zM246.7 113.9h1.3v1.3h-1.3zM247.9 114.2h1.3v1.3h-1.3zM248.8 114.3h1.3v1.3h-1.3zM249.8 114.0h1.3v1.3h-1.3zM251.2 114.2h1.3v1.3h-1.3zM252.1 113.9h1.3v1.3h-1.3zM252.9 113.9h1.3v1.3h-1.3zM253.8 114.2h1.3v1.3h-1.3zM255.2 114.0h1.3v1.3h-1.3zM256.0 114.1h1.3v1.3h-1.3zM257.2 114.1h1.3v1.3h-1.3zM258.0 113.9h1.3v1.3h-1.3zM259.2 113.9h1.3v1.3h-1.3zM260.3 113.7h1.3v1.3h-1.3zM262.0 113.9h1.3v1.3h-1.3zM263.9 114.0h1.3v1.3h-1.3zM266.0 114.0h1.3v1.3h-1.3zM267.9 114.0h1.3v1.3h-1.3zM271.9 114.0h1.3v1.3h-1.3zM274.2 113.9h1.3v1.3h-1.3zM219.1 114.9h1.3v1.3h-1.3zM220.1 114.7h1.3v1.3h-1.3zM221.1 115.1h1.3v1.3h-1.3zM222.1 115.0h1.3v1.3h-1.3zM222.8 115.0h1.3v1.3h-1.3zM223.7 115.2h1.3v1.3h-1.3zM225.2 115.2h1.3v1.3h-1.3zM226.1 115.2h1.3v1.3h-1.3zM227.1 115.0h1.3v1.3h-1.3zM227.9 114.8h1.3v1.3h-1.3zM229.0 114.9h1.3v1.3h-1.3zM229.7 114.9h1.3v1.3h-1.3zM231.1 114.8h1.3v1.3h-1.3zM231.7 114.7h1.3v1.3h-1.3zM232.7 115.2h1.3v1.3h-1.3zM234.0 114.7h1.3v1.3h-1.3zM234.7 115.0h1.3v1.3h-1.3zM235.8 115.0h1.3v1.3h-1.3zM237.0 115.0h1.3v1.3h-1.3zM237.8 115.1h1.3v1.3h-1.3zM238.7 115.2h1.3v1.3h-1.3zM240.2 115.1h1.3v1.3h-1.3zM241.2 114.8h1.3v1.3h-1.3zM241.8 115.1h1.3v1.3h-1.3zM243.0 114.8h1.3v1.3h-1.3zM244.0 115.0h1.3v1.3h-1.3zM244.9 115.3h1.3v1.3h-1.3zM246.1 115.2h1.3v1.3h-1.3zM247.2 115.2h1.3v1.3h-1.3zM248.2 114.9h1.3v1.3h-1.3zM248.9 115.3h1.3v1.3h-1.3zM250.1 115.3h1.3v1.3h-1.3zM251.1 115.1h1.3v1.3h-1.3zM252.1 114.7h1.3v1.3h-1.3zM253.1 114.8h1.3v1.3h-1.3zM254.1 115.1h1.3v1.3h-1.3zM255.1 114.9h1.3v1.3h-1.3zM263.1 114.9h1.3v1.3h-1.3zM266.1 114.8h1.3v1.3h-1.3zM267.1 115.2h1.3v1.3h-1.3zM267.8 115.0h1.3v1.3h-1.3zM268.9 115.0h1.3v1.3h-1.3zM271.9 115.1h1.3v1.3h-1.3zM273.2 115.0h1.3v1.3h-1.3zM219.1 116.1h1.3v1.3h-1.3zM220.0 115.8h1.3v1.3h-1.3zM220.8 116.2h1.3v1.3h-1.3zM222.2 116.2h1.3v1.3h-1.3zM223.0 115.8h1.3v1.3h-1.3zM224.0 116.1h1.3v1.3h-1.3zM225.2 116.2h1.3v1.3h-1.3zM225.9 115.7h1.3v1.3h-1.3zM227.1 115.7h1.3v1.3h-1.3zM227.8 115.9h1.3v1.3h-1.3zM228.8 115.7h1.3v1.3h-1.3zM230.0 116.0h1.3v1.3h-1.3zM231.0 115.9h1.3v1.3h-1.3zM232.2 115.9h1.3v1.3h-1.3zM233.3 116.1h1.3v1.3h-1.3zM233.7 116.2h1.3v1.3h-1.3zM234.8 116.2h1.3v1.3h-1.3zM235.9 116.1h1.3v1.3h-1.3zM236.8 116.3h1.3v1.3h-1.3zM238.1 116.2h1.3v1.3h-1.3zM238.9 115.7h1.3v1.3h-1.3zM239.8 115.8h1.3v1.3h-1.3zM241.1 116.2h1.3v1.3h-1.3zM242.1 116.3h1.3v1.3h-1.3zM242.8 115.8h1.3v1.3h-1.3zM244.1 116.1h1.3v1.3h-1.3zM245.1 116.2h1.3v1.3h-1.3zM245.7 115.8h1.3v1.3h-1.3zM247.1 116.3h1.3v1.3h-1.3zM248.3 116.0h1.3v1.3h-1.3zM249.3 116.0h1.3v1.3h-1.3zM250.1 115.8h1.3v1.3h-1.3zM250.7 116.0h1.3v1.3h-1.3zM252.0 115.8h1.3v1.3h-1.3zM252.9 116.1h1.3v1.3h-1.3zM253.8 116.1h1.3v1.3h-1.3zM255.1 116.2h1.3v1.3h-1.3zM256.2 116.1h1.3v1.3h-1.3zM256.9 115.8h1.3v1.3h-1.3zM261.1 116.0h1.3v1.3h-1.3zM262.2 116.3h1.3v1.3h-1.3zM263.3 116.1h1.3v1.3h-1.3zM269.2 115.8h1.3v1.3h-1.3zM269.7 115.9h1.3v1.3h-1.3zM272.2 116.1h1.3v1.3h-1.3zM272.9 115.8h1.3v1.3h-1.3zM273.8 115.9h1.3v1.3h-1.3zM219.1 117.3h1.3v1.3h-1.3zM219.8 117.0h1.3v1.3h-1.3zM221.0 116.8h1.3v1.3h-1.3zM222.1 116.9h1.3v1.3h-1.3zM223.3 117.2h1.3v1.3h-1.3zM224.2 116.7h1.3v1.3h-1.3zM224.9 116.8h1.3v1.3h-1.3zM225.9 116.8h1.3v1.3h-1.3zM227.2 116.9h1.3v1.3h-1.3zM228.2 116.9h1.3v1.3h-1.3zM228.9 116.9h1.3v1.3h-1.3zM230.2 117.2h1.3v1.3h-1.3zM231.3 116.7h1.3v1.3h-1.3zM232.2 116.8h1.3v1.3h-1.3zM233.2 117.2h1.3v1.3h-1.3zM234.2 116.9h1.3v1.3h-1.3zM235.2 117.1h1.3v1.3h-1.3zM235.9 117.0h1.3v1.3h-1.3zM237.1 117.2h1.3v1.3h-1.3zM238.0 117.1h1.3v1.3h-1.3zM239.1 116.9h1.3v1.3h-1.3zM239.9 116.9h1.3v1.3h-1.3zM241.3 117.1h1.3v1.3h-1.3zM241.9 116.9h1.3v1.3h-1.3zM243.0 117.2h1.3v1.3h-1.3zM244.0 117.1h1.3v1.3h-1.3zM244.9 117.2h1.3v1.3h-1.3zM246.0 117.2h1.3v1.3h-1.3zM247.0 117.2h1.3v1.3h-1.3zM247.8 117.3h1.3v1.3h-1.3zM249.1 117.0h1.3v1.3h-1.3zM250.1 116.8h1.3v1.3h-1.3zM251.3 117.2h1.3v1.3h-1.3zM251.7 116.9h1.3v1.3h-1.3zM252.8 117.3h1.3v1.3h-1.3zM253.7 117.1h1.3v1.3h-1.3zM255.8 116.9h1.3v1.3h-1.3zM259.1 117.3h1.3v1.3h-1.3zM264.2 116.9h1.3v1.3h-1.3zM265.3 116.7h1.3v1.3h-1.3zM270.1 116.7h1.3v1.3h-1.3zM270.9 116.9h1.3v1.3h-1.3zM273.1 117.2h1.3v1.3h-1.3zM219.1 117.8h1.3v1.3h-1.3zM219.7 118.0h1.3v1.3h-1.3zM221.3 117.9h1.3v1.3h-1.3zM221.9 118.2h1.3v1.3h-1.3zM222.8 117.8h1.3v1.3h-1.3zM224.2 117.9h1.3v1.3h-1.3zM224.7 118.2h1.3v1.3h-1.3zM226.3 118.0h1.3v1.3h-1.3zM227.0 118.2h1.3v1.3h-1.3zM228.2 118.0h1.3v1.3h-1.3zM228.9 118.2h1.3v1.3h-1.3zM230.2 118.2h1.3v1.3h-1.3zM231.2 118.1h1.3v1.3h-1.3zM232.3 117.8h1.3v1.3h-1.3zM232.8 118.1h1.3v1.3h-1.3zM234.2 117.8h1.3v1.3h-1.3zM234.8 118.1h1.3v1.3h-1.3zM236.0 118.0h1.3v1.3h-1.3zM236.8 117.9h1.3v1.3h-1.3zM237.9 118.1h1.3v1.3h-1.3zM238.8 118.2h1.3v1.3h-1.3zM240.2 118.0h1.3v1.3h-1.3zM240.8 118.3h1.3v1.3h-1.3zM241.9 117.9h1.3v1.3h-1.3zM242.7 118.3h1.3v1.3h-1.3zM243.9 117.7h1.3v1.3h-1.3zM245.1 117.8h1.3v1.3h-1.3zM245.8 117.9h1.3v1.3h-1.3zM247.3 118.3h1.3v1.3h-1.3zM248.0 118.0h1.3v1.3h-1.3zM249.0 118.1h1.3v1.3h-1.3zM250.0 118.1h1.3v1.3h-1.3zM251.1 117.8h1.3v1.3h-1.3zM252.1 117.7h1.3v1.3h-1.3zM253.3 117.8h1.3v1.3h-1.3zM254.2 118.0h1.3v1.3h-1.3zM254.8 117.9h1.3v1.3h-1.3zM256.3 117.9h1.3v1.3h-1.3zM258.3 117.7h1.3v1.3h-1.3zM260.1 117.8h1.3v1.3h-1.3zM262.0 118.3h1.3v1.3h-1.3zM264.9 118.3h1.3v1.3h-1.3zM267.7 117.9h1.3v1.3h-1.3zM269.9 117.9h1.3v1.3h-1.3zM270.9 118.0h1.3v1.3h-1.3zM272.7 117.8h1.3v1.3h-1.3zM273.8 117.8h1.3v1.3h-1.3zM219.3 119.0h1.3v1.3h-1.3zM220.2 119.2h1.3v1.3h-1.3zM221.0 119.1h1.3v1.3h-1.3zM222.3 118.9h1.3v1.3h-1.3zM223.0 118.9h1.3v1.3h-1.3zM223.9 118.7h1.3v1.3h-1.3zM225.0 119.2h1.3v1.3h-1.3zM226.2 119.2h1.3v1.3h-1.3zM226.9 119.0h1.3v1.3h-1.3zM228.1 119.0h1.3v1.3h-1.3zM229.3 118.7h1.3v1.3h-1.3zM229.7 119.1h1.3v1.3h-1.3zM230.9 119.2h1.3v1.3h-1.3zM231.8 119.3h1.3v1.3h-1.3zM232.7 119.0h1.3v1.3h-1.3zM234.0 119.1h1.3v1.3h-1.3zM234.7 119.3h1.3v1.3h-1.3zM236.2 119.3h1.3v1.3h-1.3zM237.1 118.7h1.3v1.3h-1.3zM237.9 119.2h1.3v1.3h-1.3zM238.8 119.1h1.3v1.3h-1.3zM240.1 119.0h1.3v1.3h-1.3zM240.7 118.9h1.3v1.3h-1.3zM242.2 118.8h1.3v1.3h-1.3zM243.0 119.2h1.3v1.3h-1.3zM243.9 119.0h1.3v1.3h-1.3zM245.3 118.8h1.3v1.3h-1.3zM246.2 119.2h1.3v1.3h-1.3zM247.2 119.0h1.3v1.3h-1.3zM248.0 118.8h1.3v1.3h-1.3zM248.7 119.0h1.3v1.3h-1.3zM249.7 119.0h1.3v1.3h-1.3zM251.1 118.8h1.3v1.3h-1.3zM252.0 118.8h1.3v1.3h-1.3zM253.2 119.3h1.3v1.3h-1.3zM253.8 118.9h1.3v1.3h-1.3zM256.0 118.9h1.3v1.3h-1.3zM258.9 119.2h1.3v1.3h-1.3zM264.2 119.0h1.3v1.3h-1.3zM264.7 118.8h1.3v1.3h-1.3zM266.7 119.3h1.3v1.3h-1.3zM268.1 119.0h1.3v1.3h-1.3zM271.9 119.0h1.3v1.3h-1.3zM272.7 119.1h1.3v1.3h-1.3zM273.9 118.9h1.3v1.3h-1.3zM218.7 119.9h1.3v1.3h-1.3zM219.7 119.9h1.3v1.3h-1.3zM221.0 120.1h1.3v1.3h-1.3zM222.3 119.8h1.3v1.3h-1.3zM223.1 120.0h1.3v1.3h-1.3zM224.3 120.2h1.3v1.3h-1.3zM224.8 119.8h1.3v1.3h-1.3zM225.8 120.2h1.3v1.3h-1.3zM227.2 119.8h1.3v1.3h-1.3zM227.8 120.3h1.3v1.3h-1.3zM229.2 119.8h1.3v1.3h-1.3zM230.2 119.8h1.3v1.3h-1.3zM230.8 120.0h1.3v1.3h-1.3zM231.9 119.8h1.3v1.3h-1.3zM233.1 120.1h1.3v1.3h-1.3zM233.9 119.9h1.3v1.3h-1.3zM235.1 119.9h1.3v1.3h-1.3zM235.8 119.8h1.3v1.3h-1.3zM236.8 120.1h1.3v1.3h-1.3zM238.0 119.8h1.3v1.3h-1.3zM239.3 120.0h1.3v1.3h-1.3zM240.2 120.2h1.3v1.3h-1.3zM241.1 119.8h1.3v1.3h-1.3zM242.2 120.1h1.3v1.3h-1.3zM243.0 119.9h1.3v1.3h-1.3zM243.9 120.3h1.3v1.3h-1.3zM245.2 120.0h1.3v1.3h-1.3zM246.0 120.2h1.3v1.3h-1.3zM247.3 119.9h1.3v1.3h-1.3zM248.1 120.0h1.3v1.3h-1.3zM249.0 120.2h1.3v1.3h-1.3zM250.2 120.1h1.3v1.3h-1.3zM251.0 120.2h1.3v1.3h-1.3zM252.2 119.7h1.3v1.3h-1.3zM253.1 120.2h1.3v1.3h-1.3zM253.9 120.1h1.3v1.3h-1.3zM255.0 119.7h1.3v1.3h-1.3zM259.0 119.8h1.3v1.3h-1.3zM260.2 120.0h1.3v1.3h-1.3zM261.0 119.9h1.3v1.3h-1.3zM262.3 120.0h1.3v1.3h-1.3zM262.7 120.3h1.3v1.3h-1.3zM265.8 119.7h1.3v1.3h-1.3zM266.9 120.1h1.3v1.3h-1.3zM269.3 119.8h1.3v1.3h-1.3zM271.0 120.0h1.3v1.3h-1.3zM272.8 119.7h1.3v1.3h-1.3zM274.3 120.3h1.3v1.3h-1.3z" fill="#000"/>
<path d="M234.8 65.1h1.3v1.3h-1.3zM287.3 64.8h1.3v1.3h-1.3zM231.2 70.8h1.3v1.3h-1.3zM277.7 70.9h1.3v1.3h-1.3zM239.9 71.8h1.3v1.3h-1.3zM296.9 72.0h1.3v1.3h-1.3zM274.0 73.3h1.3v1.3h-1.3zM228.2 74.0h1.3v1.3h-1.3zM228.8 74.1h1.3v1.3h-1.3zM230.0 73.7h1.3v1.3h-1.3zM266.8 74.2h1.3v1.3h-1.3zM274.9 74.0h1.3v1.3h-1.3zM286.0 73.7h1.3v1.3h-1.3zM226.3 75.8h1.3v1.3h-1.3zM236.1 76.2h1.3v1.3h-1.3zM266.1 76.3h1.3v1.3h-1.3zM234.2 77.1h1.3v1.3h-1.3zM239.1 77.0h1.3v1.3h-1.3zM242.8 77.1h1.3v1.3h-1.3zM277.1 76.9h1.3v1.3h-1.3zM237.8 78.3h1.3v1.3h-1.3zM259.1 77.9h1.3v1.3h-1.3zM263.2 78.0h1.3v1.3h-1.3zM276.9 79.2h1.3v1.3h-1.3zM239.7 79.8h1.3v1.3h-1.3zM242.2 79.8h1.3v1.3h-1.3zM269.1 79.7h1.3v1.3h-1.3zM290.3 79.9h1.3v1.3h-1.3zM235.1 80.8h1.3v1.3h-1.3zM231.9 81.9h1.3v1.3h-1.3zM235.3 81.8h1.3v1.3h-1.3zM261.2 81.8h1.3v1.3h-1.3zM269.1 82.1h1.3v1.3h-1.3zM289.8 82.0h1.3v1.3h-1.3zM259.8 83.1h1.3v1.3h-1.3zM271.1 83.1h1.3v1.3h-1.3zM272.2 83.2h1.3v1.3h-1.3zM273.7 82.8h1.3v1.3h-1.3zM230.0 84.3h1.3v1.3h-1.3zM261.1 84.3h1.3v1.3h-1.3zM221.2 85.1h1.3v1.3h-1.3zM227.1 85.0h1.3v1.3h-1.3zM229.8 84.9h1.3v1.3h-1.3zM232.2 84.8h1.3v1.3h-1.3zM239.2 85.0h1.3v1.3h-1.3zM240.8 85.0h1.3v1.3h-1.3zM241.8 85.2h1.3v1.3h-1.3zM244.1 85.3h1.3v1.3h-1.3zM244.9 85.0h1.3v1.3h-1.3zM248.0 85.0h1.3v1.3h-1.3zM250.7 84.9h1.3v1.3h-1.3zM252.9 85.1h1.3v1.3h-1.3zM254.0 84.7h1.3v1.3h-1.3zM256.9 84.7h1.3v1.3h-1.3zM259.0 85.0h1.3v1.3h-1.3zM260.2 85.0h1.3v1.3h-1.3zM261.8 85.1h1.3v1.3h-1.3zM263.7 85.1h1.3v1.3h-1.3zM265.3 85.0h1.3v1.3h-1.3zM265.8 84.8h1.3v1.3h-1.3zM276.1 85.3h1.3v1.3h-1.3zM276.7 85.0h1.3v1.3h-1.3zM222.8 85.8h1.3v1.3h-1.3zM224.9 85.9h1.3v1.3h-1.3zM228.2 85.9h1.3v1.3h-1.3zM229.2 85.9h1.3v1.3h-1.3zM230.2 85.7h1.3v1.3h-1.3zM232.2 86.2h1.3v1.3h-1.3zM234.9 85.9h1.3v1.3h-1.3zM236.9 86.2h1.3v1.3h-1.3zM240.0 86.0h1.3v1.3h-1.3zM240.7 86.0h1.3v1.3h-1.3zM242.0 85.7h1.3v1.3h-1.3zM248.0 86.2h1.3v1.3h-1.3zM249.9 86.1h1.3v1.3h-1.3zM252.9 86.2h1.3v1.3h-1.3zM253.9 85.9h1.3v1.3h-1.3zM258.9 85.7h1.3v1.3h-1.3zM261.2 86.0h1.3v1.3h-1.3zM265.2 85.8h1.3v1.3h-1.3zM267.9 86.2h1.3v1.3h-1.3zM270.2 86.2h1.3v1.3h-1.3zM221.9 86.8h1.3v1.3h-1.3zM224.3 86.8h1.3v1.3h-1.3zM227.7 86.8h1.3v1.3h-1.3zM240.8 86.7h1.3v1.3h-1.3zM244.7 86.8h1.3v1.3h-1.3zM247.9 87.2h1.3v1.3h-1.3zM254.3 86.9h1.3v1.3h-1.3zM255.0 87.0h1.3v1.3h-1.3zM258.9 86.8h1.3v1.3h-1.3zM259.8 87.2h1.3v1.3h-1.3zM261.1 87.0h1.3v1.3h-1.3zM263.2 86.9h1.3v1.3h-1.3zM265.1 86.9h1.3v1.3h-1.3zM280.9 86.9h1.3v1.3h-1.3zM222.0 87.9h1.3v1.3h-1.3zM222.9 88.3h1.3v1.3h-1.3zM236.3 88.1h1.3v1.3h-1.3zM238.9 87.8h1.3v1.3h-1.3zM239.9 88.1h1.3v1.3h-1.3zM244.0 88.0h1.3v1.3h-1.3zM244.8 87.9h1.3v1.3h-1.3zM246.8 88.2h1.3v1.3h-1.3zM252.0 87.9h1.3v1.3h-1.3zM253.0 88.1h1.3v1.3h-1.3zM253.8 87.9h1.3v1.3h-1.3zM254.8 87.9h1.3v1.3h-1.3zM258.2 88.2h1.3v1.3h-1.3zM262.2 87.9h1.3v1.3h-1.3zM270.0 88.2h1.3v1.3h-1.3zM274.7 88.2h1.3v1.3h-1.3zM219.8 89.1h1.3v1.3h-1.3zM221.1 88.9h1.3v1.3h-1.3zM225.0 88.7h1.3v1.3h-1.3zM226.8 88.7h1.3v1.3h-1.3zM230.7 89.3h1.3v1.3h-1.3zM232.0 89.1h1.3v1.3h-1.3zM235.2 89.3h1.3v1.3h-1.3zM236.0 89.1h1.3v1.3h-1.3zM237.2 89.0h1.3v1.3h-1.3zM238.9 88.9h1.3v1.3h-1.3zM240.1 89.0h1.3v1.3h-1.3zM243.0 89.0h1.3v1.3h-1.3zM244.1 88.8h1.3v1.3h-1.3zM244.9 88.7h1.3v1.3h-1.3zM249.8 89.0h1.3v1.3h-1.3zM251.0 88.8h1.3v1.3h-1.3zM252.2 89.1h1.3v1.3h-1.3zM257.2 88.8h1.3v1.3h-1.3zM258.8 88.9h1.3v1.3h-1.3zM266.7 88.9h1.3v1.3h-1.3zM269.3 89.2h1.3v1.3h-1.3zM279.9 88.7h1.3v1.3h-1.3zM221.2 89.8h1.3v1.3h-1.3zM227.0 90.2h1.3v1.3h-1.3zM231.1 90.0h1.3v1.3h-1.3zM232.2 90.0h1.3v1.3h-1.3zM233.0 90.3h1.3v1.3h-1.3zM254.8 90.1h1.3v1.3h-1.3zM257.3 89.8h1.3v1.3h-1.3zM259.1 89.9h1.3v1.3h-1.3zM260.8 90.2h1.3v1.3h-1.3zM265.2 89.9h1.3v1.3h-1.3zM270.8 90.2h1.3v1.3h-1.3zM274.8 89.9h1.3v1.3h-1.3zM254.2 91.0h1.3v1.3h-1.3zM255.2 91.2h1.3v1.3h-1.3zM263.1 90.7h1.3v1.3h-1.3zM264.2 90.8h1.3v1.3h-1.3zM265.3 90.7h1.3v1.3h-1.3zM274.0 91.0h1.3v1.3h-1.3zM278.2 91.1h1.3v1.3h-1.3zM220.8 91.7h1.3v1.3h-1.3zM224.0 91.8h1.3v1.3h-1.3zM228.9 92.1h1.3v1.3h-1.3zM229.8 92.3h1.3v1.3h-1.3zM254.9 92.2h1.3v1.3h-1.3zM256.3 92.2h1.3v1.3h-1.3zM260.2 92.0h1.3v1.3h-1.3zM261.0 92.3h1.3v1.3h-1.3zM262.1 92.2h1.3v1.3h-1.3zM265.8 91.9h1.3v1.3h-1.3zM268.2 92.2h1.3v1.3h-1.3zM272.1 92.1h1.3v1.3h-1.3zM273.9 92.0h1.3v1.3h-1.3zM277.1 92.2h1.3v1.3h-1.3zM223.0 93.3h1.3v1.3h-1.3zM224.9 93.0h1.3v1.3h-1.3zM227.0 92.8h1.3v1.3h-1.3zM262.3 92.7h1.3v1.3h-1.3zM268.2 93.2h1.3v1.3h-1.3zM274.7 93.2h1.3v1.3h-1.3zM275.8 93.3h1.3v1.3h-1.3zM279.1 93.0h1.3v1.3h-1.3zM259.1 93.8h1.3v1.3h-1.3zM261.1 94.1h1.3v1.3h-1.3zM263.3 93.8h1.3v1.3h-1.3zM265.0 94.3h1.3v1.3h-1.3zM266.7 94.1h1.3v1.3h-1.3zM271.1 94.0h1.3v1.3h-1.3zM274.9 94.0h1.3v1.3h-1.3zM278.0 94.0h1.3v1.3h-1.3zM274.9 95.0h1.3v1.3h-1.3zM276.2 95.0h1.3v1.3h-1.3zM275.7 95.9h1.3v1.3h-1.3zM278.1 95.9h1.3v1.3h-1.3zM279.9 95.8h1.3v1.3h-1.3zM282.0 96.0h1.3v1.3h-1.3zM283.0 96.2h1.3v1.3h-1.3zM275.2 97.1h1.3v1.3h-1.3zM278.2 97.3h1.3v1.3h-1.3zM279.8 97.2h1.3v1.3h-1.3zM276.1 98.2h1.3v1.3h-1.3zM286.9 97.9h1.3v1.3h-1.3zM273.9 99.0h1.3v1.3h-1.3zM274.9 99.1h1.3v1.3h-1.3zM277.1 98.8h1.3v1.3h-1.3zM273.9 100.3h1.3v1.3h-1.3zM274.7 100.0h1.3v1.3h-1.3zM279.7 99.8h1.3v1.3h-1.3zM276.9 100.8h1.3v1.3h-1.3zM277.9 101.1h1.3v1.3h-1.3zM280.0 100.9h1.3v1.3h-1.3zM285.8 101.1h1.3v1.3h-1.3zM274.7 101.8h1.3v1.3h-1.3zM277.0 102.3h1.3v1.3h-1.3zM278.2 102.1h1.3v1.3h-1.3zM279.1 101.8h1.3v1.3h-1.3zM273.8 102.7h1.3v1.3h-1.3zM275.0 102.9h1.3v1.3h-1.3zM276.8 103.3h1.3v1.3h-1.3zM277.8 103.1h1.3v1.3h-1.3zM281.9 102.8h1.3v1.3h-1.3zM276.1 104.1h1.3v1.3h-1.3zM278.0 104.3h1.3v1.3h-1.3zM280.0 104.1h1.3v1.3h-1.3zM283.9 104.2h1.3v1.3h-1.3zM295.1 104.2h1.3v1.3h-1.3zM277.1 105.1h1.3v1.3h-1.3zM283.9 104.8h1.3v1.3h-1.3zM276.1 106.0h1.3v1.3h-1.3zM277.0 105.9h1.3v1.3h-1.3zM277.7 106.2h1.3v1.3h-1.3zM279.0 105.7h1.3v1.3h-1.3zM280.3 105.8h1.3v1.3h-1.3zM279.3 107.1h1.3v1.3h-1.3zM279.9 107.2h1.3v1.3h-1.3zM295.0 107.1h1.3v1.3h-1.3zM277.0 108.2h1.3v1.3h-1.3zM274.8 108.8h1.3v1.3h-1.3zM277.2 109.3h1.3v1.3h-1.3zM275.2 109.9h1.3v1.3h-1.3zM277.0 109.8h1.3v1.3h-1.3zM296.8 110.2h1.3v1.3h-1.3zM275.9 110.8h1.3v1.3h-1.3zM276.7 110.8h1.3v1.3h-1.3zM285.3 111.0h1.3v1.3h-1.3zM306.2 110.9h1.3v1.3h-1.3zM275.1 111.7h1.3v1.3h-1.3zM277.8 112.2h1.3v1.3h-1.3zM279.1 111.7h1.3v1.3h-1.3zM277.2 113.1h1.3v1.3h-1.3zM282.2 113.1h1.3v1.3h-1.3zM276.2 114.0h1.3v1.3h-1.3zM276.7 114.1h1.3v1.3h-1.3zM278.2 113.9h1.3v1.3h-1.3zM284.8 115.3h1.3v1.3h-1.3zM276.1 116.2h1.3v1.3h-1.3zM277.0 116.0h1.3v1.3h-1.3zM278.1 116.2h1.3v1.3h-1.3zM282.2 116.2h1.3v1.3h-1.3zM283.9 116.0h1.3v1.3h-1.3zM289.0 115.8h1.3v1.3h-1.3zM294.9 116.0h1.3v1.3h-1.3zM274.9 116.9h1.3v1.3h-1.3zM276.2 116.9h1.3v1.3h-1.3zM276.9 117.1h1.3v1.3h-1.3zM291.2 116.9h1.3v1.3h-1.3zM274.9 117.8h1.3v1.3h-1.3zM280.2 118.0h1.3v1.3h-1.3zM282.7 118.1h1.3v1.3h-1.3zM284.2 118.2h1.3v1.3h-1.3zM279.2 119.2h1.3v1.3h-1.3zM294.8 119.0h1.3v1.3h-1.3zM276.1 119.7h1.3v1.3h-1.3zM279.0 120.3h1.3v1.3h-1.3zM281.9 119.9h1.3v1.3h-1.3z" fill="#222"/>
<text x="0.8" y="12.3" style="font-family:'Liberation Sans',sans-serif;font-weight:bold;font-size:18px" text-anchor="start">A</text>
<text x="-0.3" y="176" style="font-family:'Liberation Sans',sans-serif;font-weight:bold;font-size:17.5px" text-anchor="start">B</text>
<text x="358.0" y="13.5" style="font-family:'Liberation Sans',sans-serif;font-weight:bold;font-size:17.2px" text-anchor="start">C</text>
<rect x="46.7" y="9.0" width="126.2" height="113.2" fill="none" stroke="#000" stroke-width="1.3"/>
<line x1="42.7" y1="122.2" x2="46.7" y2="122.2" stroke="#000" stroke-width="1.0"/>
<line x1="46.7" y1="122.2" x2="46.7" y2="126.0" stroke="#000" stroke-width="1.0"/>
<line x1="43.800000000000004" y1="117.812" x2="46.7" y2="117.812" stroke="#000" stroke-width="1.0"/>
<line x1="51.612" y1="122.2" x2="51.612" y2="125.0" stroke="#000" stroke-width="1.0"/>
<line x1="43.800000000000004" y1="113.424" x2="46.7" y2="113.424" stroke="#000" stroke-width="1.0"/>
<line x1="56.524" y1="122.2" x2="56.524" y2="125.0" stroke="#000" stroke-width="1.0"/>
<line x1="43.800000000000004" y1="109.036" x2="46.7" y2="109.036" stroke="#000" stroke-width="1.0"/>
<line x1="61.43600000000001" y1="122.2" x2="61.43600000000001" y2="125.0" stroke="#000" stroke-width="1.0"/>
<line x1="43.800000000000004" y1="104.648" x2="46.7" y2="104.648" stroke="#000" stroke-width="1.0"/>
<line x1="66.348" y1="122.2" x2="66.348" y2="125.0" stroke="#000" stroke-width="1.0"/>
<line x1="42.7" y1="100.26" x2="46.7" y2="100.26" stroke="#000" stroke-width="1.0"/>
<line x1="71.26" y1="122.2" x2="71.26" y2="126.0" stroke="#000" stroke-width="1.0"/>
<line x1="43.800000000000004" y1="95.872" x2="46.7" y2="95.872" stroke="#000" stroke-width="1.0"/>
<line x1="76.172" y1="122.2" x2="76.172" y2="125.0" stroke="#000" stroke-width="1.0"/>
<line x1="43.800000000000004" y1="91.48400000000001" x2="46.7" y2="91.48400000000001" stroke="#000" stroke-width="1.0"/>
<line x1="81.084" y1="122.2" x2="81.084" y2="125.0" stroke="#000" stroke-width="1.0"/>
<line x1="43.800000000000004" y1="87.096" x2="46.7" y2="87.096" stroke="#000" stroke-width="1.0"/>
<line x1="85.99600000000001" y1="122.2" x2="85.99600000000001" y2="125.0" stroke="#000" stroke-width="1.0"/>
<line x1="43.800000000000004" y1="82.708" x2="46.7" y2="82.708" stroke="#000" stroke-width="1.0"/>
<line x1="90.90800000000002" y1="122.2" x2="90.90800000000002" y2="125.0" stroke="#000" stroke-width="1.0"/>
<line x1="42.7" y1="78.32" x2="46.7" y2="78.32" stroke="#000" stroke-width="1.0"/>
<line x1="95.82000000000001" y1="122.2" x2="95.82000000000001" y2="126.0" stroke="#000" stroke-width="1.0"/>
<line x1="43.800000000000004" y1="73.932" x2="46.7" y2="73.932" stroke="#000" stroke-width="1.0"/>
<line x1="100.732" y1="122.2" x2="100.732" y2="125.0" stroke="#000" stroke-width="1.0"/>
<line x1="43.800000000000004" y1="69.544" x2="46.7" y2="69.544" stroke="#000" stroke-width="1.0"/>
<line x1="105.644" y1="122.2" x2="105.644" y2="125.0" stroke="#000" stroke-width="1.0"/>
<line x1="43.800000000000004" y1="65.156" x2="46.7" y2="65.156" stroke="#000" stroke-width="1.0"/>
<line x1="110.55600000000001" y1="122.2" x2="110.55600000000001" y2="125.0" stroke="#000" stroke-width="1.0"/>
<line x1="43.800000000000004" y1="60.768" x2="46.7" y2="60.768" stroke="#000" stroke-width="1.0"/>
<line x1="115.468" y1="122.2" x2="115.468" y2="125.0" stroke="#000" stroke-width="1.0"/>
<line x1="42.7" y1="56.379999999999995" x2="46.7" y2="56.379999999999995" stroke="#000" stroke-width="1.0"/>
<line x1="120.38000000000001" y1="122.2" x2="120.38000000000001" y2="126.0" stroke="#000" stroke-width="1.0"/>
<line x1="43.800000000000004" y1="51.992000000000004" x2="46.7" y2="51.992000000000004" stroke="#000" stroke-width="1.0"/>
<line x1="125.292" y1="122.2" x2="125.292" y2="125.0" stroke="#000" stroke-width="1.0"/>
<line x1="43.800000000000004" y1="47.604" x2="46.7" y2="47.604" stroke="#000" stroke-width="1.0"/>
<line x1="130.204" y1="122.2" x2="130.204" y2="125.0" stroke="#000" stroke-width="1.0"/>
<line x1="43.800000000000004" y1="43.215999999999994" x2="46.7" y2="43.215999999999994" stroke="#000" stroke-width="1.0"/>
<line x1="135.116" y1="122.2" x2="135.116" y2="125.0" stroke="#000" stroke-width="1.0"/>
<line x1="43.800000000000004" y1="38.828" x2="46.7" y2="38.828" stroke="#000" stroke-width="1.0"/>
<line x1="140.02800000000002" y1="122.2" x2="140.02800000000002" y2="125.0" stroke="#000" stroke-width="1.0"/>
<line x1="42.7" y1="34.44" x2="46.7" y2="34.44" stroke="#000" stroke-width="1.0"/>
<line x1="144.94" y1="122.2" x2="144.94" y2="126.0" stroke="#000" stroke-width="1.0"/>
<line x1="43.800000000000004" y1="30.051999999999992" x2="46.7" y2="30.051999999999992" stroke="#000" stroke-width="1.0"/>
<line x1="149.852" y1="122.2" x2="149.852" y2="125.0" stroke="#000" stroke-width="1.0"/>
<line x1="43.800000000000004" y1="25.664" x2="46.7" y2="25.664" stroke="#000" stroke-width="1.0"/>
<line x1="154.764" y1="122.2" x2="154.764" y2="125.0" stroke="#000" stroke-width="1.0"/>
<line x1="43.800000000000004" y1="21.275999999999996" x2="46.7" y2="21.275999999999996" stroke="#000" stroke-width="1.0"/>
<line x1="159.676" y1="122.2" x2="159.676" y2="125.0" stroke="#000" stroke-width="1.0"/>
<line x1="43.800000000000004" y1="16.88799999999999" x2="46.7" y2="16.88799999999999" stroke="#000" stroke-width="1.0"/>
<line x1="164.58800000000002" y1="122.2" x2="164.58800000000002" y2="125.0" stroke="#000" stroke-width="1.0"/>
<line x1="42.7" y1="12.5" x2="46.7" y2="12.5" stroke="#000" stroke-width="1.0"/>
<line x1="169.5" y1="122.2" x2="169.5" y2="126.0" stroke="#000" stroke-width="1.0"/>
<text x="41.5" y="123.0" style="font-family:'Liberation Serif',serif;font-weight:bold;font-size:9.2px" text-anchor="middle" transform="rotate(-90 41.5 123.0)">0</text>
<text x="45.7" y="133.6" style="font-family:'Liberation Serif',serif;font-weight:bold;font-size:9.2px" text-anchor="middle">0</text>
<text x="41.5" y="101.06" style="font-family:'Liberation Serif',serif;font-weight:bold;font-size:9.2px" text-anchor="middle" transform="rotate(-90 41.5 101.06)">50</text>
<text x="70.86" y="133.6" style="font-family:'Liberation Serif',serif;font-weight:bold;font-size:9.2px" text-anchor="middle">50</text>
<text x="41.5" y="79.11999999999999" style="font-family:'Liberation Serif',serif;font-weight:bold;font-size:9.2px" text-anchor="middle" transform="rotate(-90 41.5 79.11999999999999)">100</text>
<text x="93.82000000000001" y="133.6" style="font-family:'Liberation Serif',serif;font-weight:bold;font-size:9.2px" text-anchor="middle">100</text>
<text x="41.5" y="57.17999999999999" style="font-family:'Liberation Serif',serif;font-weight:bold;font-size:9.2px" text-anchor="middle" transform="rotate(-90 41.5 57.17999999999999)">150</text>
<text x="118.38000000000001" y="133.6" style="font-family:'Liberation Serif',serif;font-weight:bold;font-size:9.2px" text-anchor="middle">150</text>
<text x="41.5" y="35.239999999999995" style="font-family:'Liberation Serif',serif;font-weight:bold;font-size:9.2px" text-anchor="middle" transform="rotate(-90 41.5 35.239999999999995)">200</text>
<text x="143.14000000000001" y="133.6" style="font-family:'Liberation Serif',serif;font-weight:bold;font-size:9.2px" text-anchor="middle">200</text>
<text x="41.5" y="13.3" style="font-family:'Liberation Serif',serif;font-weight:bold;font-size:9.2px" text-anchor="middle" transform="rotate(-90 41.5 13.3)">250</text>
<text x="167.70000000000002" y="133.6" style="font-family:'Liberation Serif',serif;font-weight:bold;font-size:9.2px" text-anchor="middle">250</text>
<text x="25.3" y="67.7" style="font-family:'Liberation Serif',serif;font-weight:bold;font-size:11.8px" text-anchor="middle" transform="rotate(-90 25.3 67.7)">SSC-Height</text>
<text x="108.9" y="147.4" style="font-family:'Liberation Serif',serif;font-weight:bold;font-size:11.8px" text-anchor="middle">FSC-Height</text>
<rect x="69.5" y="89.6" width="78.1" height="27.80000000000001" fill="none" stroke="#000" stroke-width="1.0"/>
<text x="157" y="117" style="font-family:'Liberation Serif',serif;font-weight:bold;font-size:8.4px" text-anchor="start">R1</text>
<rect x="219.0" y="8.5" width="126.39999999999998" height="113.3" fill="none" stroke="#000" stroke-width="1.3"/>
<line x1="219.0" y1="121.8" x2="219.0" y2="125.2" stroke="#000" stroke-width="0.8"/>
<line x1="215.8" y1="121.8" x2="219.0" y2="121.8" stroke="#000" stroke-width="0.8"/>
<line x1="228.51254786298182" y1="121.8" x2="228.51254786298182" y2="124.2" stroke="#000" stroke-width="0.8"/>
<line x1="216.6" y1="113.27332537281774" x2="219.0" y2="113.27332537281774" stroke="#000" stroke-width="0.8"/>
<line x1="234.07703164914133" y1="121.8" x2="234.07703164914133" y2="124.2" stroke="#000" stroke-width="0.8"/>
<line x1="216.6" y1="108.28554046006556" x2="219.0" y2="108.28554046006556" stroke="#000" stroke-width="0.8"/>
<line x1="238.0250957259636" y1="121.8" x2="238.0250957259636" y2="124.2" stroke="#000" stroke-width="0.8"/>
<line x1="216.6" y1="104.74665074563546" x2="219.0" y2="104.74665074563546" stroke="#000" stroke-width="0.8"/>
<line x1="241.0874521370182" y1="121.8" x2="241.0874521370182" y2="124.2" stroke="#000" stroke-width="0.8"/>
<line x1="216.6" y1="102.00167462718227" x2="219.0" y2="102.00167462718227" stroke="#000" stroke-width="0.8"/>
<line x1="243.58957951212312" y1="121.8" x2="243.58957951212312" y2="124.2" stroke="#000" stroke-width="0.8"/>
<line x1="216.6" y1="99.75886583288329" x2="219.0" y2="99.75886583288329" stroke="#000" stroke-width="0.8"/>
<line x1="245.7050980644505" y1="121.8" x2="245.7050980644505" y2="124.2" stroke="#000" stroke-width="0.8"/>
<line x1="216.6" y1="97.86259801659617" x2="219.0" y2="97.86259801659617" stroke="#000" stroke-width="0.8"/>
<line x1="247.5376435889454" y1="121.8" x2="247.5376435889454" y2="124.2" stroke="#000" stroke-width="0.8"/>
<line x1="216.6" y1="96.21997611845319" x2="219.0" y2="96.21997611845319" stroke="#000" stroke-width="0.8"/>
<line x1="249.15406329828267" y1="121.8" x2="249.15406329828267" y2="124.2" stroke="#000" stroke-width="0.8"/>
<line x1="216.6" y1="94.77108092013111" x2="219.0" y2="94.77108092013111" stroke="#000" stroke-width="0.8"/>
<line x1="250.6" y1="121.8" x2="250.6" y2="125.2" stroke="#000" stroke-width="0.8"/>
<line x1="215.8" y1="93.475" x2="219.0" y2="93.475" stroke="#000" stroke-width="0.8"/>
<line x1="260.1125478629818" y1="121.8" x2="260.1125478629818" y2="124.2" stroke="#000" stroke-width="0.8"/>
<line x1="216.6" y1="84.94832537281772" x2="219.0" y2="84.94832537281772" stroke="#000" stroke-width="0.8"/>
<line x1="265.6770316491413" y1="121.8" x2="265.6770316491413" y2="124.2" stroke="#000" stroke-width="0.8"/>
<line x1="216.6" y1="79.96054046006556" x2="219.0" y2="79.96054046006556" stroke="#000" stroke-width="0.8"/>
<line x1="269.6250957259636" y1="121.8" x2="269.6250957259636" y2="124.2" stroke="#000" stroke-width="0.8"/>
<line x1="216.6" y1="76.42165074563546" x2="219.0" y2="76.42165074563546" stroke="#000" stroke-width="0.8"/>
<line x1="272.68745213701817" y1="121.8" x2="272.68745213701817" y2="124.2" stroke="#000" stroke-width="0.8"/>
<line x1="216.6" y1="73.67667462718227" x2="219.0" y2="73.67667462718227" stroke="#000" stroke-width="0.8"/>
<line x1="275.18957951212315" y1="121.8" x2="275.18957951212315" y2="124.2" stroke="#000" stroke-width="0.8"/>
<line x1="216.6" y1="71.4338658328833" x2="219.0" y2="71.4338658328833" stroke="#000" stroke-width="0.8"/>
<line x1="277.30509806445053" y1="121.8" x2="277.30509806445053" y2="124.2" stroke="#000" stroke-width="0.8"/>
<line x1="216.6" y1="69.53759801659618" x2="219.0" y2="69.53759801659618" stroke="#000" stroke-width="0.8"/>
<line x1="279.1376435889454" y1="121.8" x2="279.1376435889454" y2="124.2" stroke="#000" stroke-width="0.8"/>
<line x1="216.6" y1="67.8949761184532" x2="219.0" y2="67.8949761184532" stroke="#000" stroke-width="0.8"/>
<line x1="280.75406329828263" y1="121.8" x2="280.75406329828263" y2="124.2" stroke="#000" stroke-width="0.8"/>
<line x1="216.6" y1="66.44608092013112" x2="219.0" y2="66.44608092013112" stroke="#000" stroke-width="0.8"/>
<line x1="282.2" y1="121.8" x2="282.2" y2="125.2" stroke="#000" stroke-width="0.8"/>
<line x1="215.8" y1="65.15" x2="219.0" y2="65.15" stroke="#000" stroke-width="0.8"/>
<line x1="291.7125478629818" y1="121.8" x2="291.7125478629818" y2="124.2" stroke="#000" stroke-width="0.8"/>
<line x1="216.6" y1="56.62332537281773" x2="219.0" y2="56.62332537281773" stroke="#000" stroke-width="0.8"/>
<line x1="297.27703164914135" y1="121.8" x2="297.27703164914135" y2="124.2" stroke="#000" stroke-width="0.8"/>
<line x1="216.6" y1="51.635540460065556" x2="219.0" y2="51.635540460065556" stroke="#000" stroke-width="0.8"/>
<line x1="301.22509572596357" y1="121.8" x2="301.22509572596357" y2="124.2" stroke="#000" stroke-width="0.8"/>
<line x1="216.6" y1="48.09665074563546" x2="219.0" y2="48.09665074563546" stroke="#000" stroke-width="0.8"/>
<line x1="304.2874521370182" y1="121.8" x2="304.2874521370182" y2="124.2" stroke="#000" stroke-width="0.8"/>
<line x1="216.6" y1="45.35167462718226" x2="219.0" y2="45.35167462718226" stroke="#000" stroke-width="0.8"/>
<line x1="306.7895795121231" y1="121.8" x2="306.7895795121231" y2="124.2" stroke="#000" stroke-width="0.8"/>
<line x1="216.6" y1="43.10886583288328" x2="219.0" y2="43.10886583288328" stroke="#000" stroke-width="0.8"/>
<line x1="308.9050980644505" y1="121.8" x2="308.9050980644505" y2="124.2" stroke="#000" stroke-width="0.8"/>
<line x1="216.6" y1="41.212598016596175" x2="219.0" y2="41.212598016596175" stroke="#000" stroke-width="0.8"/>
<line x1="310.7376435889454" y1="121.8" x2="310.7376435889454" y2="124.2" stroke="#000" stroke-width="0.8"/>
<line x1="216.6" y1="39.5699761184532" x2="219.0" y2="39.5699761184532" stroke="#000" stroke-width="0.8"/>
<line x1="312.35406329828265" y1="121.8" x2="312.35406329828265" y2="124.2" stroke="#000" stroke-width="0.8"/>
<line x1="216.6" y1="38.12108092013112" x2="219.0" y2="38.12108092013112" stroke="#000" stroke-width="0.8"/>
<line x1="313.79999999999995" y1="121.8" x2="313.79999999999995" y2="125.2" stroke="#000" stroke-width="0.8"/>
<line x1="215.8" y1="36.825" x2="219.0" y2="36.825" stroke="#000" stroke-width="0.8"/>
<line x1="323.3125478629818" y1="121.8" x2="323.3125478629818" y2="124.2" stroke="#000" stroke-width="0.8"/>
<line x1="216.6" y1="28.29832537281773" x2="219.0" y2="28.29832537281773" stroke="#000" stroke-width="0.8"/>
<line x1="328.8770316491413" y1="121.8" x2="328.8770316491413" y2="124.2" stroke="#000" stroke-width="0.8"/>
<line x1="216.6" y1="23.310540460065553" x2="219.0" y2="23.310540460065553" stroke="#000" stroke-width="0.8"/>
<line x1="332.8250957259636" y1="121.8" x2="332.8250957259636" y2="124.2" stroke="#000" stroke-width="0.8"/>
<line x1="216.6" y1="19.771650745635455" x2="219.0" y2="19.771650745635455" stroke="#000" stroke-width="0.8"/>
<line x1="335.88745213701816" y1="121.8" x2="335.88745213701816" y2="124.2" stroke="#000" stroke-width="0.8"/>
<line x1="216.6" y1="17.026674627182274" x2="219.0" y2="17.026674627182274" stroke="#000" stroke-width="0.8"/>
<line x1="338.38957951212313" y1="121.8" x2="338.38957951212313" y2="124.2" stroke="#000" stroke-width="0.8"/>
<line x1="216.6" y1="14.783865832883293" x2="219.0" y2="14.783865832883293" stroke="#000" stroke-width="0.8"/>
<line x1="340.5050980644505" y1="121.8" x2="340.5050980644505" y2="124.2" stroke="#000" stroke-width="0.8"/>
<line x1="216.6" y1="12.887598016596172" x2="219.0" y2="12.887598016596172" stroke="#000" stroke-width="0.8"/>
<line x1="342.3376435889454" y1="121.8" x2="342.3376435889454" y2="124.2" stroke="#000" stroke-width="0.8"/>
<line x1="216.6" y1="11.244976118453195" x2="219.0" y2="11.244976118453195" stroke="#000" stroke-width="0.8"/>
<line x1="343.9540632982826" y1="121.8" x2="343.9540632982826" y2="124.2" stroke="#000" stroke-width="0.8"/>
<line x1="216.6" y1="9.796080920131132" x2="219.0" y2="9.796080920131132" stroke="#000" stroke-width="0.8"/>
<line x1="219.0" y1="8.5" x2="219.0" y2="8.5" stroke="#000" stroke-width="0"/>
<line x1="252.7" y1="8.5" x2="252.7" y2="121.8" stroke="#000" stroke-width="1.2"/>
<line x1="219.0" y1="91.1" x2="345.4" y2="91.1" stroke="#000" stroke-width="1.1"/>
<rect x="222.5" y="59.5" width="27.0" height="27.8" fill="none" stroke="#333" stroke-width="0.9"/>
<rect x="258.5" y="58.5" width="40.6" height="28.0" fill="none" stroke="#333" stroke-width="0.9"/>
<text x="230.7" y="54.3" style="font-family:'Liberation Serif',serif;font-weight:bold;font-size:8.9px" text-anchor="start">R2</text>
<text x="304.6" y="77.4" style="font-family:'Liberation Serif',serif;font-weight:bold;font-size:8.9px" text-anchor="start">R3</text>
<text x="297.7" y="17.7" style="font-family:'Liberation Serif',serif;font-weight:bold;font-size:7.1px;stroke-width:0.35px" text-anchor="start" textLength="20.6" lengthAdjust="spacingAndGlyphs">0.66%</text>
<text x="322.3" y="17.7" style="font-family:'Liberation Serif',serif;font-weight:bold;font-size:7.1px;stroke-width:0.35px" text-anchor="start" textLength="21.4" lengthAdjust="spacingAndGlyphs">1.06%</text>
<text x="297.7" y="25.3" style="font-family:'Liberation Serif',serif;font-weight:bold;font-size:7.1px;stroke-width:0.35px" text-anchor="start" textLength="20.6" lengthAdjust="spacingAndGlyphs">94.1%</text>
<text x="323.0" y="25.3" style="font-family:'Liberation Serif',serif;font-weight:bold;font-size:7.1px;stroke-width:0.35px" text-anchor="start" textLength="20.8" lengthAdjust="spacingAndGlyphs">4.18%</text>
<line x1="297.3" y1="18.6" x2="344.5" y2="18.6" stroke="#000" stroke-width="0.8"/>
<line x1="320.7" y1="10.8" x2="320.7" y2="26.2" stroke="#000" stroke-width="0.9"/>
<text x="217.4" y="134.9" style="font-family:'Liberation Serif',serif;font-weight:bold;font-size:9px">10<tspan dy="-2.8" style="font-size:7.4px">0</tspan></text>
<text x="247.5" y="134.9" style="font-family:'Liberation Serif',serif;font-weight:bold;font-size:9px">10<tspan dy="-2.8" style="font-size:7.4px">1</tspan></text>
<text x="277.5" y="134.9" style="font-family:'Liberation Serif',serif;font-weight:bold;font-size:9px">10<tspan dy="-2.8" style="font-size:7.4px">2</tspan></text>
<text x="309.3" y="134.9" style="font-family:'Liberation Serif',serif;font-weight:bold;font-size:9px">10<tspan dy="-2.8" style="font-size:7.4px">3</tspan></text>
<text x="339.0" y="134.9" style="font-family:'Liberation Serif',serif;font-weight:bold;font-size:9px">10<tspan dy="-2.8" style="font-size:7.4px">4</tspan></text>
<text x="0" y="0" transform="translate(215.0 127.2) rotate(-90)" style="font-family:'Liberation Serif',serif;font-weight:bold;font-size:9.2px">10<tspan dy="-3.9" style="font-size:7.3px">0</tspan></text>
<text x="0" y="0" transform="translate(215.0 101.3) rotate(-90)" style="font-family:'Liberation Serif',serif;font-weight:bold;font-size:9.2px">10<tspan dy="-3.9" style="font-size:7.3px">1</tspan></text>
<text x="0" y="0" transform="translate(215.0 73.2) rotate(-90)" style="font-family:'Liberation Serif',serif;font-weight:bold;font-size:9.2px">10<tspan dy="-3.9" style="font-size:7.3px">2</tspan></text>
<text x="0" y="0" transform="translate(215.0 42.3) rotate(-90)" style="font-family:'Liberation Serif',serif;font-weight:bold;font-size:9.2px">10<tspan dy="-3.9" style="font-size:7.3px">3</tspan></text>
<text x="0" y="0" transform="translate(215.0 15.5) rotate(-90)" style="font-family:'Liberation Serif',serif;font-weight:bold;font-size:9.2px">10<tspan dy="-3.9" style="font-size:7.3px">4</tspan></text>
<text x="199.4" y="64.85" style="font-family:'Liberation Serif',serif;font-weight:bold;font-size:12.0px" text-anchor="middle" transform="rotate(-90 199.4 64.85)">Flk-1</text>
<text x="285.85" y="147.0" style="font-family:'Liberation Serif',serif;font-weight:bold;font-size:11.8px" text-anchor="middle">PECAM-1</text>
<rect x="407.9" y="63.1" width="80.80000000000001" height="15.600000000000001" fill="#0e0e0e"/>
<rect x="407.9" y="82.8" width="80.80000000000001" height="16.0" fill="#0e0e0e"/>
<rect x="407.9" y="102.1" width="80.80000000000001" height="15.100000000000009" fill="#0e0e0e"/>
<text x="0" y="0" transform="translate(418.6 60.0) rotate(-46)" style="font-family:'Liberation Serif',serif;font-weight:bold;font-size:9.3px">DW</text>
<text x="0" y="0" transform="translate(440.4 59.5) rotate(-46)" style="font-family:'Liberation Serif',serif;font-weight:bold;font-size:9.3px">E9.5 yolk sac</text>
<text x="0" y="0" transform="translate(463.0 59.5) rotate(-46)" style="font-family:'Liberation Serif',serif;font-weight:bold;font-size:9.3px">R2</text>
<text x="0" y="0" transform="translate(482.0 59.5) rotate(-46)" style="font-family:'Liberation Serif',serif;font-weight:bold;font-size:9.3px">R3</text>
<text x="383.7" y="72.3" style="font-family:'Liberation Serif',serif;font-weight:bold;font-size:9.1px" text-anchor="middle">ephrin-B2</text>
<text x="384.3" y="92.8" style="font-family:'Liberation Serif',serif;font-weight:bold;font-size:9.1px" text-anchor="middle">EphB4</text>
<text x="383.3" y="113.2" style="font-family:'Liberation Serif',serif;font-weight:bold;font-size:9.1px" text-anchor="middle">G3PDH</text>
<text x="492.5" y="73.5" style="font-family:'Liberation Serif',serif;font-weight:bold;font-size:9.0px" text-anchor="start">549 bp</text>
<text x="492.1" y="93.5" style="font-family:'Liberation Serif',serif;font-weight:bold;font-size:9.0px" text-anchor="start">536 bp</text>
<text x="492.1" y="113.7" style="font-family:'Liberation Serif',serif;font-weight:bold;font-size:9.0px" text-anchor="start">983 bp</text>
<rect x="429.2" y="68.6" width="16.600000000000023" height="3.8" rx="1.2" fill="#fff" fill-opacity="1.0" filter="url(#bl)"/>
<rect x="470.6" y="70.3" width="15.699999999999989" height="2.0" rx="1.2" fill="#fff" fill-opacity="0.62" filter="url(#bl)"/>
<rect x="427" y="90.5" width="18" height="6" fill="#fff" fill-opacity="0.16" filter="url(#bl2)"/>
<rect x="431" y="82.4" width="13" height="2" fill="#fff" fill-opacity="0.5" filter="url(#bl)"/>
<rect x="429.0" y="83.4" width="17.399999999999977" height="8.0" rx="1.2" fill="#fff" fill-opacity="1.0" filter="url(#bl)"/>
<rect x="471.9" y="87.1" width="14.5" height="3.0" rx="1.2" fill="#fff" fill-opacity="0.92" filter="url(#bl)"/>
<rect x="430.3" y="106.6" width="14.800000000000011" height="3.1" fill="#fff" fill-opacity="0.06" filter="url(#bl)"/>
<path d="M429.8 108.8 Q431.0 110.3 433.8 110.3 L441.6 110.3 Q444.40000000000003 110.3 445.6 108.8" fill="none" stroke="#fff" stroke-opacity="1.0" stroke-width="2.6" stroke-linecap="round" filter="url(#bl)"/>
<rect x="451.1" y="106.60000000000001" width="14.199999999999989" height="2.7" fill="#fff" fill-opacity="0.05" filter="url(#bl)"/>
<path d="M450.6 108.80000000000001 Q451.8 109.9 454.6 109.9 L461.8 109.9 Q464.6 109.9 465.8 108.80000000000001" fill="none" stroke="#fff" stroke-opacity="0.85" stroke-width="2.0" stroke-linecap="round" filter="url(#bl)"/>
<rect x="471.1" y="106.5" width="15.0" height="2.9000000000000004" fill="#fff" fill-opacity="0.06" filter="url(#bl)"/>
<path d="M470.6 108.7 Q471.8 110.0 474.6 110.0 L482.6 110.0 Q485.40000000000003 110.0 486.6 108.7" fill="none" stroke="#fff" stroke-opacity="0.97" stroke-width="2.4" stroke-linecap="round" filter="url(#bl)"/>
<line x1="46.5" y1="174.2" x2="46.5" y2="287.5" stroke="#000" stroke-width="1.1"/>
<line x1="46.0" y1="287.0" x2="177.2" y2="287.0" stroke="#000" stroke-width="1.1"/>
<line x1="46.5" y1="287.0" x2="48.5" y2="287.0" stroke="#000" stroke-width="0.9"/>
<text x="43.9" y="287.0" style="font-family:'Liberation Serif',serif;font-weight:bold;font-size:8.2px" text-anchor="middle" transform="rotate(-90 43.9 287.0)">0</text>
<line x1="46.5" y1="272.9" x2="48.5" y2="272.9" stroke="#000" stroke-width="0.9"/>
<text x="43.9" y="272.9" style="font-family:'Liberation Serif',serif;font-weight:bold;font-size:8.2px" text-anchor="middle" transform="rotate(-90 43.9 272.9)">2</text>
<line x1="46.5" y1="258.8" x2="48.5" y2="258.8" stroke="#000" stroke-width="0.9"/>
<text x="43.9" y="258.8" style="font-family:'Liberation Serif',serif;font-weight:bold;font-size:8.2px" text-anchor="middle" transform="rotate(-90 43.9 258.8)">4</text>
<line x1="46.5" y1="244.7" x2="48.5" y2="244.7" stroke="#000" stroke-width="0.9"/>
<text x="43.9" y="244.7" style="font-family:'Liberation Serif',serif;font-weight:bold;font-size:8.2px" text-anchor="middle" transform="rotate(-90 43.9 244.7)">6</text>
<line x1="46.5" y1="230.6" x2="48.5" y2="230.6" stroke="#000" stroke-width="0.9"/>
<text x="43.9" y="230.6" style="font-family:'Liberation Serif',serif;font-weight:bold;font-size:8.2px" text-anchor="middle" transform="rotate(-90 43.9 230.6)">8</text>
<line x1="46.5" y1="216.5" x2="48.5" y2="216.5" stroke="#000" stroke-width="0.9"/>
<text x="43.9" y="216.5" style="font-family:'Liberation Serif',serif;font-weight:bold;font-size:8.2px" text-anchor="middle" transform="rotate(-90 43.9 216.5)">10</text>
<line x1="46.5" y1="202.39999999999998" x2="48.5" y2="202.39999999999998" stroke="#000" stroke-width="0.9"/>
<text x="43.9" y="202.39999999999998" style="font-family:'Liberation Serif',serif;font-weight:bold;font-size:8.2px" text-anchor="middle" transform="rotate(-90 43.9 202.39999999999998)">12</text>
<line x1="46.5" y1="188.29999999999998" x2="48.5" y2="188.29999999999998" stroke="#000" stroke-width="0.9"/>
<text x="43.9" y="188.29999999999998" style="font-family:'Liberation Serif',serif;font-weight:bold;font-size:8.2px" text-anchor="middle" transform="rotate(-90 43.9 188.29999999999998)">14</text>
<line x1="46.5" y1="174.2" x2="48.5" y2="174.2" stroke="#000" stroke-width="0.9"/>
<text x="43.9" y="174.2" style="font-family:'Liberation Serif',serif;font-weight:bold;font-size:8.2px" text-anchor="middle" transform="rotate(-90 43.9 174.2)">16</text>
<rect x="59.8" y="268.8" width="18.5" height="18.19999999999999" fill="#fff" stroke="#000" stroke-width="1.25"/>
<line x1="69.05" y1="259.5" x2="69.05" y2="268.8" stroke="#000" stroke-width="1.1"/>
<line x1="67.25" y1="259.5" x2="70.85" y2="259.5" stroke="#000" stroke-width="1.1"/>
<rect x="78.3" y="236.2" width="19.400000000000006" height="50.80000000000001" fill="url(#dots)" stroke="#000" stroke-width="1.25"/>
<line x1="88.0" y1="224.6" x2="88.0" y2="236.2" stroke="#000" stroke-width="1.1"/>
<line x1="86.2" y1="224.6" x2="89.8" y2="224.6" stroke="#000" stroke-width="1.1"/>
<rect x="125.5" y="253.1" width="18.5" height="33.900000000000006" fill="#fff" stroke="#000" stroke-width="1.25"/>
<line x1="134.75" y1="241.7" x2="134.75" y2="253.1" stroke="#000" stroke-width="1.1"/>
<line x1="132.95" y1="241.7" x2="136.55" y2="241.7" stroke="#000" stroke-width="1.1"/>
<rect x="144.0" y="253.1" width="19.0" height="33.900000000000006" fill="url(#dots)" stroke="#000" stroke-width="1.25"/>
<line x1="153.5" y1="241.7" x2="153.5" y2="253.1" stroke="#000" stroke-width="1.1"/>
<line x1="151.7" y1="241.7" x2="155.3" y2="241.7" stroke="#000" stroke-width="1.1"/>
<text x="50.6" y="298.1" style="font-family:'Liberation Serif',serif;font-weight:bold;font-size:9.0px" text-anchor="start">OP9/ephrin-B2</text>
<text x="166.1" y="298.1" style="font-family:'Liberation Serif',serif;font-weight:bold;font-size:9.0px" text-anchor="end">OP9/vector</text>
<line x1="217.6" y1="174.8" x2="217.6" y2="288.0" stroke="#000" stroke-width="1.1"/>
<line x1="217.1" y1="287.5" x2="348.2" y2="287.5" stroke="#000" stroke-width="1.1"/>
<line x1="217.6" y1="287.5" x2="219.6" y2="287.5" stroke="#000" stroke-width="0.9"/>
<text x="215.0" y="287.5" style="font-family:'Liberation Serif',serif;font-weight:bold;font-size:8.2px" text-anchor="middle" transform="rotate(-90 215.0 287.5)">0</text>
<line x1="217.6" y1="273.4125" x2="219.6" y2="273.4125" stroke="#000" stroke-width="0.9"/>
<text x="215.0" y="273.4125" style="font-family:'Liberation Serif',serif;font-weight:bold;font-size:8.2px" text-anchor="middle" transform="rotate(-90 215.0 273.4125)">2</text>
<line x1="217.6" y1="259.325" x2="219.6" y2="259.325" stroke="#000" stroke-width="0.9"/>
<text x="215.0" y="259.325" style="font-family:'Liberation Serif',serif;font-weight:bold;font-size:8.2px" text-anchor="middle" transform="rotate(-90 215.0 259.325)">4</text>
<line x1="217.6" y1="245.2375" x2="219.6" y2="245.2375" stroke="#000" stroke-width="0.9"/>
<text x="215.0" y="245.2375" style="font-family:'Liberation Serif',serif;font-weight:bold;font-size:8.2px" text-anchor="middle" transform="rotate(-90 215.0 245.2375)">6</text>
<line x1="217.6" y1="231.15" x2="219.6" y2="231.15" stroke="#000" stroke-width="0.9"/>
<text x="215.0" y="231.15" style="font-family:'Liberation Serif',serif;font-weight:bold;font-size:8.2px" text-anchor="middle" transform="rotate(-90 215.0 231.15)">8</text>
<line x1="217.6" y1="217.0625" x2="219.6" y2="217.0625" stroke="#000" stroke-width="0.9"/>
<text x="215.0" y="217.0625" style="font-family:'Liberation Serif',serif;font-weight:bold;font-size:8.2px" text-anchor="middle" transform="rotate(-90 215.0 217.0625)">10</text>
<line x1="217.6" y1="202.97500000000002" x2="219.6" y2="202.97500000000002" stroke="#000" stroke-width="0.9"/>
<text x="215.0" y="202.97500000000002" style="font-family:'Liberation Serif',serif;font-weight:bold;font-size:8.2px" text-anchor="middle" transform="rotate(-90 215.0 202.97500000000002)">12</text>
<line x1="217.6" y1="188.88750000000002" x2="219.6" y2="188.88750000000002" stroke="#000" stroke-width="0.9"/>
<text x="215.0" y="188.88750000000002" style="font-family:'Liberation Serif',serif;font-weight:bold;font-size:8.2px" text-anchor="middle" transform="rotate(-90 215.0 188.88750000000002)">14</text>
<line x1="217.6" y1="174.8" x2="219.6" y2="174.8" stroke="#000" stroke-width="0.9"/>
<text x="215.0" y="174.8" style="font-family:'Liberation Serif',serif;font-weight:bold;font-size:8.2px" text-anchor="middle" transform="rotate(-90 215.0 174.8)">16</text>
<rect x="230.9" y="282.7" width="18.5" height="4.800000000000011" fill="#fff" stroke="#000" stroke-width="1.25"/>
<line x1="240.15" y1="278.4" x2="240.15" y2="282.7" stroke="#000" stroke-width="1.1"/>
<line x1="238.35" y1="278.4" x2="241.95000000000002" y2="278.4" stroke="#000" stroke-width="1.1"/>
<rect x="249.4" y="217.2" width="19.799999999999983" height="70.30000000000001" fill="url(#dots)" stroke="#000" stroke-width="1.25"/>
<line x1="259.3" y1="198.4" x2="259.3" y2="217.2" stroke="#000" stroke-width="1.1"/>
<line x1="257.5" y1="198.4" x2="261.1" y2="198.4" stroke="#000" stroke-width="1.1"/>
<rect x="296.5" y="216.9" width="18.80000000000001" height="70.6" fill="#fff" stroke="#000" stroke-width="1.25"/>
<line x1="305.9" y1="202.6" x2="305.9" y2="216.9" stroke="#000" stroke-width="1.1"/>
<line x1="304.09999999999997" y1="202.6" x2="307.7" y2="202.6" stroke="#000" stroke-width="1.1"/>
<rect x="315.3" y="204.5" width="19.19999999999999" height="83.0" fill="url(#dots)" stroke="#000" stroke-width="1.25"/>
<line x1="324.9" y1="187.2" x2="324.9" y2="204.5" stroke="#000" stroke-width="1.1"/>
<line x1="323.09999999999997" y1="187.2" x2="326.7" y2="187.2" stroke="#000" stroke-width="1.1"/>
<text x="222.9" y="298.1" style="font-family:'Liberation Serif',serif;font-weight:bold;font-size:9.0px" text-anchor="start">OP9/ephrin-B2</text>
<text x="339.7" y="298.1" style="font-family:'Liberation Serif',serif;font-weight:bold;font-size:9.0px" text-anchor="end">OP9/vector</text>
<text x="0" y="0" transform="translate(24.7 288.3) rotate(-90)" style="font-family:'Liberation Serif',serif;font-weight:bold;font-size:9.1px" textLength="113.5" lengthAdjust="spacingAndGlyphs">Number of sheet or cord-like</text>
<text x="0" y="0" transform="translate(33.9 262.2) rotate(-90)" style="font-family:'Liberation Serif',serif;font-weight:bold;font-size:9.1px" textLength="57.3" lengthAdjust="spacingAndGlyphs">structure (R2)</text>
<text x="0" y="0" transform="translate(196.6 289.3) rotate(-90)" style="font-family:'Liberation Serif',serif;font-weight:bold;font-size:9.1px" textLength="115.1" lengthAdjust="spacingAndGlyphs">Number of sheet or cord-like</text>
<text x="0" y="0" transform="translate(206.2 264.6) rotate(-90)" style="font-family:'Liberation Serif',serif;font-weight:bold;font-size:9.1px" textLength="59.4" lengthAdjust="spacingAndGlyphs">structure (R3)</text>
</svg>
</body></html>
